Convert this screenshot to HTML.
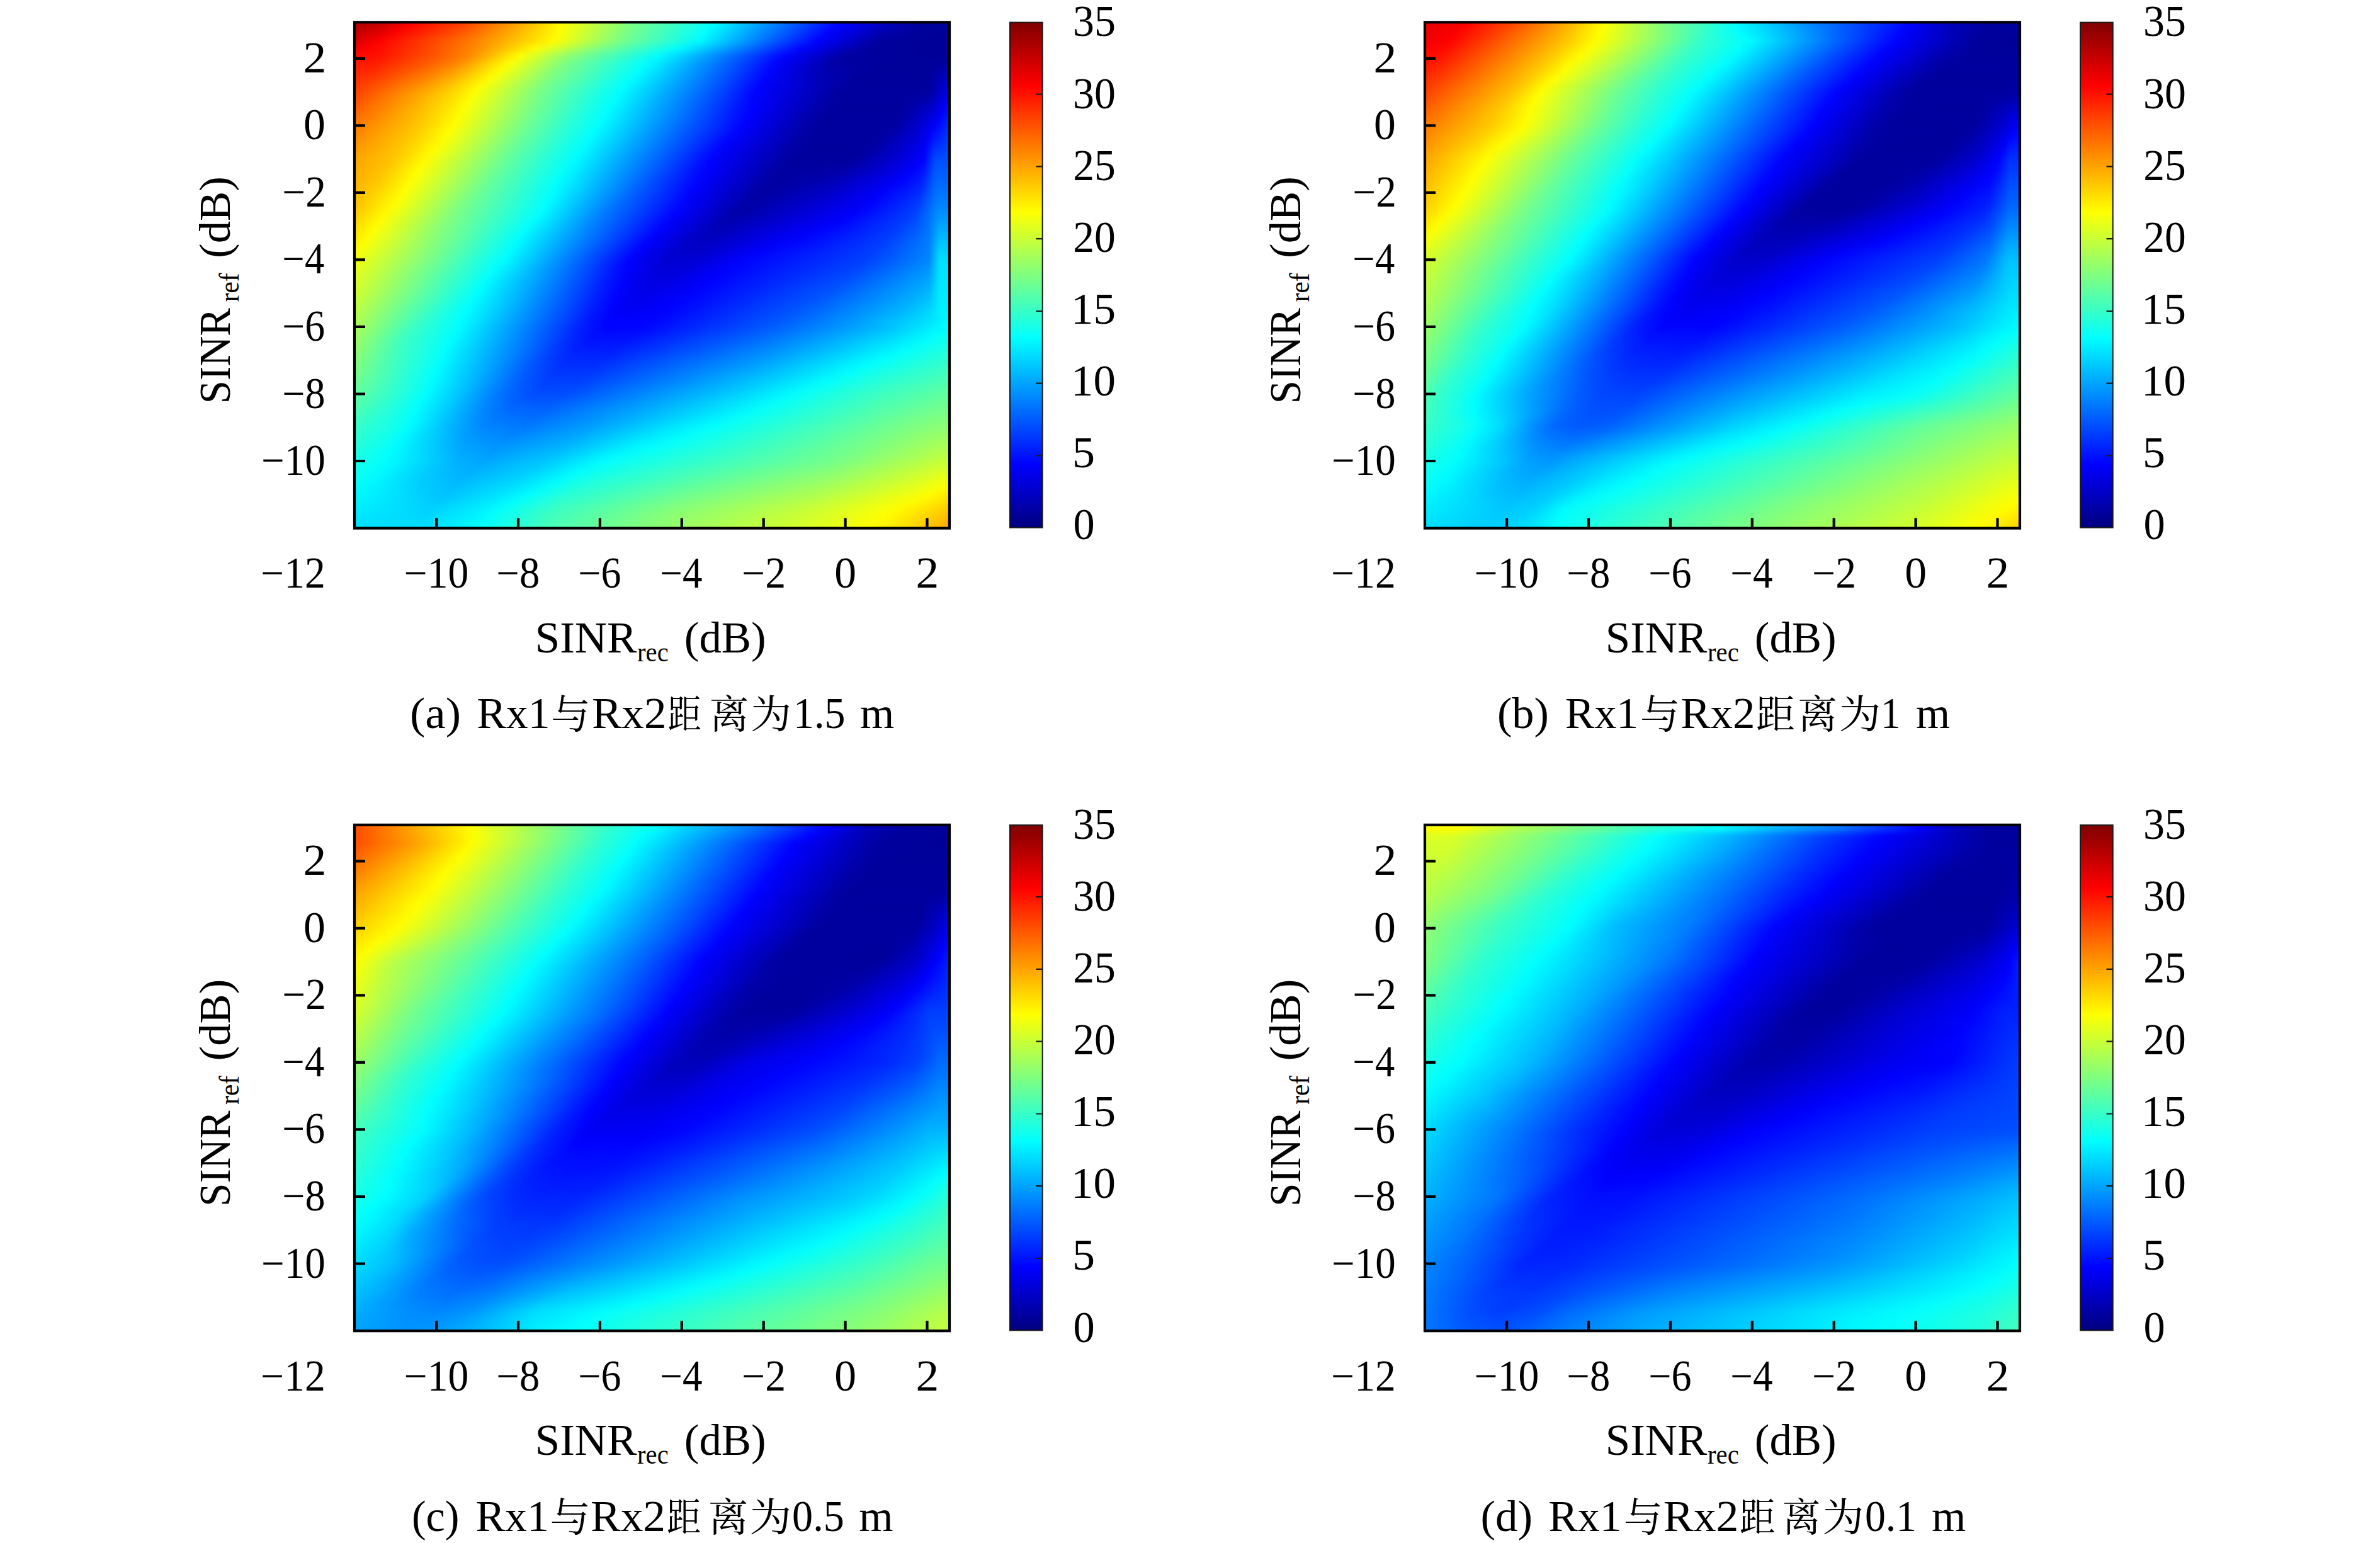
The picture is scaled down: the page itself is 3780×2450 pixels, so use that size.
<!DOCTYPE html>
<html><head><meta charset="utf-8"><style>
html,body{margin:0;padding:0;background:#fff}
svg{display:block}
text{font-family:"Liberation Serif", serif;fill:#000}
text.c{font-family:"Liberation Serif", "Noto Serif CJK SC", serif}
</style></head><body>
<svg width="3780" height="2450" viewBox="0 0 3780 2450">
<defs>
<linearGradient id="jetbar" x1="0" y1="0" x2="0" y2="1"><stop offset="0.000" stop-color="#800000"/><stop offset="0.125" stop-color="#ff0000"/><stop offset="0.375" stop-color="#ffff00"/><stop offset="0.625" stop-color="#00ffff"/><stop offset="0.875" stop-color="#0000ff"/><stop offset="1.000" stop-color="#000080"/></linearGradient>
<clipPath id="clipbox"><rect x="563.0" y="35.3" width="945.0" height="803.4000000000001"/></clipPath>
<filter id="by" x="-0.02" y="-0.1" width="1.04" height="1.2" color-interpolation-filters="sRGB"><feGaussianBlur stdDeviation="0 5"/></filter>
<linearGradient id="a0"><stop offset="0.000" stop-color="#ab0000"/><stop offset="0.042" stop-color="#bb0000"/><stop offset="0.101" stop-color="#fd0000"/><stop offset="0.193" stop-color="#ff4300"/><stop offset="0.294" stop-color="#ffb800"/><stop offset="0.353" stop-color="#fdff02"/><stop offset="0.471" stop-color="#77ff88"/><stop offset="0.605" stop-color="#02fffd"/><stop offset="0.706" stop-color="#008aff"/><stop offset="0.815" stop-color="#0006ff"/><stop offset="0.832" stop-color="#0000f5"/><stop offset="0.941" stop-color="#0000a0"/><stop offset="1.000" stop-color="#00009d"/></linearGradient><linearGradient id="a1"><stop offset="0.000" stop-color="#ab0000"/><stop offset="0.042" stop-color="#bb0000"/><stop offset="0.101" stop-color="#fd0000"/><stop offset="0.193" stop-color="#ff4300"/><stop offset="0.294" stop-color="#ffb800"/><stop offset="0.353" stop-color="#fdff02"/><stop offset="0.471" stop-color="#77ff88"/><stop offset="0.605" stop-color="#02fffd"/><stop offset="0.706" stop-color="#008aff"/><stop offset="0.815" stop-color="#0006ff"/><stop offset="0.832" stop-color="#0000f5"/><stop offset="0.941" stop-color="#0000a0"/><stop offset="1.000" stop-color="#00009d"/></linearGradient><linearGradient id="a2"><stop offset="0.000" stop-color="#b40000"/><stop offset="0.042" stop-color="#c90000"/><stop offset="0.092" stop-color="#ff0100"/><stop offset="0.185" stop-color="#ff4600"/><stop offset="0.286" stop-color="#ffb600"/><stop offset="0.345" stop-color="#fffb00"/><stop offset="0.378" stop-color="#dcff23"/><stop offset="0.462" stop-color="#7bff84"/><stop offset="0.597" stop-color="#04fffb"/><stop offset="0.613" stop-color="#00f1ff"/><stop offset="0.807" stop-color="#0006ff"/><stop offset="0.815" stop-color="#0000fc"/><stop offset="0.908" stop-color="#0000b0"/><stop offset="0.950" stop-color="#00009c"/><stop offset="1.000" stop-color="#00009b"/></linearGradient><linearGradient id="a3"><stop offset="0.000" stop-color="#c50000"/><stop offset="0.042" stop-color="#e40000"/><stop offset="0.067" stop-color="#fd0000"/><stop offset="0.176" stop-color="#ff5500"/><stop offset="0.294" stop-color="#ffcd00"/><stop offset="0.345" stop-color="#fcff03"/><stop offset="0.462" stop-color="#73ff8c"/><stop offset="0.588" stop-color="#01fffe"/><stop offset="0.790" stop-color="#0006ff"/><stop offset="0.798" stop-color="#0000fc"/><stop offset="0.891" stop-color="#0000aa"/><stop offset="0.950" stop-color="#00009b"/><stop offset="1.000" stop-color="#000099"/></linearGradient><linearGradient id="a4"><stop offset="0.000" stop-color="#d60000"/><stop offset="0.042" stop-color="#ff0000"/><stop offset="0.168" stop-color="#ff6200"/><stop offset="0.336" stop-color="#fffd00"/><stop offset="0.445" stop-color="#7bff84"/><stop offset="0.580" stop-color="#00fcff"/><stop offset="0.731" stop-color="#003aff"/><stop offset="0.773" stop-color="#0007ff"/><stop offset="0.782" stop-color="#0000fc"/><stop offset="0.882" stop-color="#00009e"/><stop offset="1.000" stop-color="#000097"/></linearGradient><linearGradient id="a5"><stop offset="0.000" stop-color="#ef0000"/><stop offset="0.025" stop-color="#ff0100"/><stop offset="0.109" stop-color="#ff3a00"/><stop offset="0.210" stop-color="#ff9000"/><stop offset="0.303" stop-color="#fffc00"/><stop offset="0.336" stop-color="#d9ff26"/><stop offset="0.395" stop-color="#8fff70"/><stop offset="0.462" stop-color="#4cffb3"/><stop offset="0.538" stop-color="#05fffa"/><stop offset="0.555" stop-color="#00f3ff"/><stop offset="0.748" stop-color="#0006ff"/><stop offset="0.765" stop-color="#0000f3"/><stop offset="0.840" stop-color="#0000ac"/><stop offset="0.874" stop-color="#00009c"/><stop offset="1.000" stop-color="#000097"/></linearGradient><linearGradient id="a6"><stop offset="0.000" stop-color="#ff0b00"/><stop offset="0.042" stop-color="#ff1100"/><stop offset="0.143" stop-color="#ff5b00"/><stop offset="0.193" stop-color="#ff8800"/><stop offset="0.277" stop-color="#feff01"/><stop offset="0.361" stop-color="#88ff77"/><stop offset="0.513" stop-color="#00fcff"/><stop offset="0.672" stop-color="#003fff"/><stop offset="0.723" stop-color="#0002ff"/><stop offset="0.824" stop-color="#0000a0"/><stop offset="1.000" stop-color="#000097"/></linearGradient><linearGradient id="a7"><stop offset="0.000" stop-color="#ff1900"/><stop offset="0.034" stop-color="#ff1b00"/><stop offset="0.126" stop-color="#ff5e00"/><stop offset="0.176" stop-color="#ff8b00"/><stop offset="0.252" stop-color="#fff700"/><stop offset="0.261" stop-color="#fbff04"/><stop offset="0.353" stop-color="#7cff83"/><stop offset="0.487" stop-color="#04fffb"/><stop offset="0.504" stop-color="#00f1ff"/><stop offset="0.664" stop-color="#0037ff"/><stop offset="0.706" stop-color="#0004ff"/><stop offset="0.731" stop-color="#0000ea"/><stop offset="0.807" stop-color="#0000a5"/><stop offset="0.908" stop-color="#00009a"/><stop offset="0.975" stop-color="#00009c"/><stop offset="1.000" stop-color="#0000a3"/></linearGradient><linearGradient id="a8"><stop offset="0.000" stop-color="#ff2300"/><stop offset="0.034" stop-color="#ff2a00"/><stop offset="0.126" stop-color="#ff7300"/><stop offset="0.168" stop-color="#ff9c00"/><stop offset="0.244" stop-color="#feff01"/><stop offset="0.336" stop-color="#81ff7e"/><stop offset="0.479" stop-color="#00ffff"/><stop offset="0.639" stop-color="#004aff"/><stop offset="0.697" stop-color="#0004ff"/><stop offset="0.731" stop-color="#0000e3"/><stop offset="0.790" stop-color="#0000b1"/><stop offset="0.874" stop-color="#00009b"/><stop offset="0.966" stop-color="#00009a"/><stop offset="1.000" stop-color="#0000b5"/></linearGradient><linearGradient id="a9"><stop offset="0.000" stop-color="#ff2d00"/><stop offset="0.034" stop-color="#ff3c00"/><stop offset="0.126" stop-color="#ff8900"/><stop offset="0.176" stop-color="#ffbf00"/><stop offset="0.227" stop-color="#fffe00"/><stop offset="0.328" stop-color="#7dff82"/><stop offset="0.454" stop-color="#0bfff4"/><stop offset="0.471" stop-color="#00fbff"/><stop offset="0.622" stop-color="#0052ff"/><stop offset="0.689" stop-color="#0003ff"/><stop offset="0.782" stop-color="#0000b8"/><stop offset="0.849" stop-color="#00009c"/><stop offset="0.966" stop-color="#00009c"/><stop offset="0.992" stop-color="#0000c0"/><stop offset="1.000" stop-color="#0000c7"/></linearGradient><linearGradient id="a10"><stop offset="0.000" stop-color="#ff3700"/><stop offset="0.059" stop-color="#ff6300"/><stop offset="0.151" stop-color="#ffb900"/><stop offset="0.210" stop-color="#fffc00"/><stop offset="0.252" stop-color="#ccff33"/><stop offset="0.319" stop-color="#78ff87"/><stop offset="0.420" stop-color="#1cffe3"/><stop offset="0.454" stop-color="#00ffff"/><stop offset="0.605" stop-color="#005bff"/><stop offset="0.681" stop-color="#0001ff"/><stop offset="0.790" stop-color="#0000b4"/><stop offset="0.832" stop-color="#00009c"/><stop offset="0.966" stop-color="#00009d"/><stop offset="0.992" stop-color="#0000ce"/><stop offset="1.000" stop-color="#0000d8"/></linearGradient><linearGradient id="a11"><stop offset="0.000" stop-color="#ff4100"/><stop offset="0.160" stop-color="#ffd400"/><stop offset="0.202" stop-color="#fcff03"/><stop offset="0.311" stop-color="#76ff89"/><stop offset="0.403" stop-color="#21ffde"/><stop offset="0.445" stop-color="#00fdff"/><stop offset="0.588" stop-color="#0063ff"/><stop offset="0.672" stop-color="#0002ff"/><stop offset="0.815" stop-color="#00009e"/><stop offset="0.950" stop-color="#00009f"/><stop offset="0.966" stop-color="#0000a3"/><stop offset="0.992" stop-color="#0000dd"/><stop offset="1.000" stop-color="#0000ea"/></linearGradient><linearGradient id="a12"><stop offset="0.000" stop-color="#ff4f00"/><stop offset="0.160" stop-color="#ffde00"/><stop offset="0.193" stop-color="#fcff03"/><stop offset="0.303" stop-color="#79ff86"/><stop offset="0.395" stop-color="#21ffde"/><stop offset="0.437" stop-color="#00fdff"/><stop offset="0.580" stop-color="#0063ff"/><stop offset="0.664" stop-color="#0007ff"/><stop offset="0.681" stop-color="#0000f9"/><stop offset="0.798" stop-color="#0000a3"/><stop offset="0.849" stop-color="#00009d"/><stop offset="0.924" stop-color="#00009d"/><stop offset="0.966" stop-color="#0000b4"/><stop offset="0.992" stop-color="#0000ed"/><stop offset="1.000" stop-color="#0000fa"/></linearGradient><linearGradient id="a13"><stop offset="0.000" stop-color="#ff5c00"/><stop offset="0.151" stop-color="#ffde00"/><stop offset="0.185" stop-color="#fcff03"/><stop offset="0.303" stop-color="#71ff8e"/><stop offset="0.395" stop-color="#1bffe4"/><stop offset="0.429" stop-color="#00fdff"/><stop offset="0.647" stop-color="#0012ff"/><stop offset="0.672" stop-color="#0000fc"/><stop offset="0.782" stop-color="#0000a8"/><stop offset="0.815" stop-color="#00009d"/><stop offset="0.916" stop-color="#00009d"/><stop offset="0.958" stop-color="#0000bc"/><stop offset="0.966" stop-color="#0000c5"/><stop offset="0.992" stop-color="#0000fc"/><stop offset="1.000" stop-color="#000cff"/></linearGradient><linearGradient id="a14"><stop offset="0.000" stop-color="#ff6900"/><stop offset="0.134" stop-color="#ffd600"/><stop offset="0.176" stop-color="#feff01"/><stop offset="0.303" stop-color="#6aff95"/><stop offset="0.378" stop-color="#22ffdd"/><stop offset="0.420" stop-color="#00feff"/><stop offset="0.630" stop-color="#001eff"/><stop offset="0.664" stop-color="#0000fe"/><stop offset="0.756" stop-color="#0000b3"/><stop offset="0.798" stop-color="#00009d"/><stop offset="0.916" stop-color="#0000a0"/><stop offset="0.950" stop-color="#0000bf"/><stop offset="0.975" stop-color="#0000e6"/><stop offset="0.983" stop-color="#0000f8"/><stop offset="0.992" stop-color="#000cff"/><stop offset="1.000" stop-color="#001cff"/></linearGradient><linearGradient id="a15"><stop offset="0.000" stop-color="#ff7600"/><stop offset="0.118" stop-color="#ffcd00"/><stop offset="0.168" stop-color="#fffd00"/><stop offset="0.294" stop-color="#6bff94"/><stop offset="0.361" stop-color="#2affd5"/><stop offset="0.412" stop-color="#01fffe"/><stop offset="0.563" stop-color="#005cff"/><stop offset="0.655" stop-color="#0000ff"/><stop offset="0.739" stop-color="#0000b8"/><stop offset="0.782" stop-color="#00009d"/><stop offset="0.908" stop-color="#00009f"/><stop offset="0.950" stop-color="#0000cd"/><stop offset="0.975" stop-color="#0000f6"/><stop offset="0.983" stop-color="#0008ff"/><stop offset="1.000" stop-color="#002cff"/></linearGradient><linearGradient id="a16"><stop offset="0.000" stop-color="#ff8000"/><stop offset="0.109" stop-color="#ffcf00"/><stop offset="0.160" stop-color="#ffff00"/><stop offset="0.277" stop-color="#73ff8c"/><stop offset="0.353" stop-color="#29ffd6"/><stop offset="0.403" stop-color="#00ffff"/><stop offset="0.555" stop-color="#005bff"/><stop offset="0.647" stop-color="#0000fd"/><stop offset="0.731" stop-color="#0000b8"/><stop offset="0.765" stop-color="#0000a0"/><stop offset="0.891" stop-color="#00009e"/><stop offset="0.924" stop-color="#0000ba"/><stop offset="0.950" stop-color="#0000d8"/><stop offset="0.966" stop-color="#0000f5"/><stop offset="0.975" stop-color="#0008ff"/><stop offset="1.000" stop-color="#0035ff"/></linearGradient><linearGradient id="a17"><stop offset="0.000" stop-color="#ff8a00"/><stop offset="0.101" stop-color="#ffcf00"/><stop offset="0.151" stop-color="#fdff02"/><stop offset="0.277" stop-color="#69ff96"/><stop offset="0.353" stop-color="#22ffdd"/><stop offset="0.395" stop-color="#00fdff"/><stop offset="0.580" stop-color="#0036ff"/><stop offset="0.630" stop-color="#0003ff"/><stop offset="0.748" stop-color="#0000a5"/><stop offset="0.790" stop-color="#00009d"/><stop offset="0.882" stop-color="#0000a0"/><stop offset="0.941" stop-color="#0000d6"/><stop offset="0.958" stop-color="#0000ec"/><stop offset="0.966" stop-color="#0003ff"/><stop offset="0.975" stop-color="#0019ff"/><stop offset="1.000" stop-color="#003bff"/></linearGradient><linearGradient id="a18"><stop offset="0.000" stop-color="#ff9400"/><stop offset="0.084" stop-color="#ffc900"/><stop offset="0.134" stop-color="#fffa00"/><stop offset="0.151" stop-color="#f2ff0d"/><stop offset="0.269" stop-color="#68ff97"/><stop offset="0.345" stop-color="#21ffde"/><stop offset="0.387" stop-color="#00fcff"/><stop offset="0.613" stop-color="#0008ff"/><stop offset="0.622" stop-color="#0000fe"/><stop offset="0.731" stop-color="#0000aa"/><stop offset="0.765" stop-color="#00009d"/><stop offset="0.866" stop-color="#00009e"/><stop offset="0.924" stop-color="#0000ce"/><stop offset="0.958" stop-color="#0000f3"/><stop offset="0.966" stop-color="#000fff"/><stop offset="0.975" stop-color="#002bff"/><stop offset="1.000" stop-color="#0042ff"/></linearGradient><linearGradient id="a19"><stop offset="0.000" stop-color="#ff9e00"/><stop offset="0.076" stop-color="#ffc900"/><stop offset="0.126" stop-color="#fffb00"/><stop offset="0.143" stop-color="#f0ff0f"/><stop offset="0.252" stop-color="#6fff90"/><stop offset="0.328" stop-color="#27ffd8"/><stop offset="0.378" stop-color="#00fcff"/><stop offset="0.605" stop-color="#0004ff"/><stop offset="0.630" stop-color="#0000ee"/><stop offset="0.739" stop-color="#0000a0"/><stop offset="0.798" stop-color="#00009d"/><stop offset="0.849" stop-color="#00009d"/><stop offset="0.916" stop-color="#0000cf"/><stop offset="0.958" stop-color="#0000fb"/><stop offset="0.975" stop-color="#003cff"/><stop offset="0.992" stop-color="#0046ff"/><stop offset="1.000" stop-color="#0048ff"/></linearGradient><linearGradient id="a20"><stop offset="0.000" stop-color="#ffa600"/><stop offset="0.059" stop-color="#ffc200"/><stop offset="0.118" stop-color="#fffc00"/><stop offset="0.193" stop-color="#a8ff57"/><stop offset="0.261" stop-color="#5dffa2"/><stop offset="0.319" stop-color="#27ffd8"/><stop offset="0.370" stop-color="#00fcff"/><stop offset="0.588" stop-color="#000bff"/><stop offset="0.597" stop-color="#0002ff"/><stop offset="0.731" stop-color="#00009e"/><stop offset="0.832" stop-color="#00009f"/><stop offset="0.908" stop-color="#0000d2"/><stop offset="0.950" stop-color="#0000fb"/><stop offset="0.958" stop-color="#0005ff"/><stop offset="0.975" stop-color="#004aff"/><stop offset="0.983" stop-color="#0050ff"/><stop offset="1.000" stop-color="#0050ff"/></linearGradient><linearGradient id="a21"><stop offset="0.000" stop-color="#ffaa00"/><stop offset="0.050" stop-color="#ffc200"/><stop offset="0.109" stop-color="#fffe00"/><stop offset="0.235" stop-color="#6eff91"/><stop offset="0.303" stop-color="#2fffd0"/><stop offset="0.353" stop-color="#05fffa"/><stop offset="0.370" stop-color="#00f2ff"/><stop offset="0.571" stop-color="#0013ff"/><stop offset="0.597" stop-color="#0000fc"/><stop offset="0.714" stop-color="#0000a1"/><stop offset="0.765" stop-color="#0000a1"/><stop offset="0.824" stop-color="#0000a9"/><stop offset="0.899" stop-color="#0000d9"/><stop offset="0.941" stop-color="#0000ff"/><stop offset="0.958" stop-color="#0014ff"/><stop offset="0.975" stop-color="#0052ff"/><stop offset="0.983" stop-color="#0059ff"/><stop offset="1.000" stop-color="#0059ff"/></linearGradient><linearGradient id="a22"><stop offset="0.000" stop-color="#ffae00"/><stop offset="0.042" stop-color="#ffc400"/><stop offset="0.101" stop-color="#ffff00"/><stop offset="0.235" stop-color="#64ff9b"/><stop offset="0.345" stop-color="#04fffb"/><stop offset="0.370" stop-color="#00e9ff"/><stop offset="0.521" stop-color="#003fff"/><stop offset="0.580" stop-color="#0005ff"/><stop offset="0.597" stop-color="#0000f6"/><stop offset="0.697" stop-color="#0000a6"/><stop offset="0.723" stop-color="#00009f"/><stop offset="0.807" stop-color="#0000af"/><stop offset="0.899" stop-color="#0000e8"/><stop offset="0.924" stop-color="#0000fd"/><stop offset="0.950" stop-color="#0013ff"/><stop offset="0.958" stop-color="#0022ff"/><stop offset="0.975" stop-color="#005aff"/><stop offset="0.983" stop-color="#0061ff"/><stop offset="1.000" stop-color="#0061ff"/></linearGradient><linearGradient id="a23"><stop offset="0.000" stop-color="#ffb300"/><stop offset="0.042" stop-color="#ffcc00"/><stop offset="0.092" stop-color="#fdff02"/><stop offset="0.227" stop-color="#64ff9b"/><stop offset="0.336" stop-color="#04fffb"/><stop offset="0.361" stop-color="#00ebff"/><stop offset="0.496" stop-color="#0050ff"/><stop offset="0.571" stop-color="#0005ff"/><stop offset="0.588" stop-color="#0000f5"/><stop offset="0.689" stop-color="#0000a6"/><stop offset="0.706" stop-color="#0000a0"/><stop offset="0.798" stop-color="#0000b9"/><stop offset="0.899" stop-color="#0000f6"/><stop offset="0.916" stop-color="#0004ff"/><stop offset="0.950" stop-color="#001eff"/><stop offset="0.958" stop-color="#002fff"/><stop offset="0.975" stop-color="#0063ff"/><stop offset="0.983" stop-color="#006aff"/><stop offset="1.000" stop-color="#006aff"/></linearGradient><linearGradient id="a24"><stop offset="0.000" stop-color="#ffb700"/><stop offset="0.042" stop-color="#ffd600"/><stop offset="0.084" stop-color="#fdff02"/><stop offset="0.210" stop-color="#6cff93"/><stop offset="0.336" stop-color="#00fcff"/><stop offset="0.387" stop-color="#00c4ff"/><stop offset="0.471" stop-color="#0061ff"/><stop offset="0.563" stop-color="#0005ff"/><stop offset="0.580" stop-color="#0000f5"/><stop offset="0.672" stop-color="#0000a9"/><stop offset="0.689" stop-color="#0000a1"/><stop offset="0.790" stop-color="#0000c3"/><stop offset="0.891" stop-color="#0000fd"/><stop offset="0.950" stop-color="#0029ff"/><stop offset="0.975" stop-color="#006bff"/><stop offset="0.983" stop-color="#0073ff"/><stop offset="1.000" stop-color="#0073ff"/></linearGradient><linearGradient id="a25"><stop offset="0.000" stop-color="#ffbb00"/><stop offset="0.059" stop-color="#ffef00"/><stop offset="0.076" stop-color="#fdff02"/><stop offset="0.193" stop-color="#73ff8c"/><stop offset="0.328" stop-color="#00feff"/><stop offset="0.387" stop-color="#00b8ff"/><stop offset="0.454" stop-color="#0069ff"/><stop offset="0.555" stop-color="#0005ff"/><stop offset="0.571" stop-color="#0000f4"/><stop offset="0.672" stop-color="#0000a2"/><stop offset="0.798" stop-color="#0000d4"/><stop offset="0.874" stop-color="#0000fd"/><stop offset="0.941" stop-color="#002eff"/><stop offset="0.950" stop-color="#0037ff"/><stop offset="0.975" stop-color="#0073ff"/><stop offset="0.983" stop-color="#007cff"/><stop offset="1.000" stop-color="#007cff"/></linearGradient><linearGradient id="a26"><stop offset="0.000" stop-color="#ffc000"/><stop offset="0.067" stop-color="#fcff03"/><stop offset="0.176" stop-color="#7bff84"/><stop offset="0.319" stop-color="#01fffe"/><stop offset="0.437" stop-color="#0070ff"/><stop offset="0.546" stop-color="#0004ff"/><stop offset="0.580" stop-color="#0000e4"/><stop offset="0.655" stop-color="#0000a4"/><stop offset="0.849" stop-color="#0000f7"/><stop offset="0.866" stop-color="#0004ff"/><stop offset="0.941" stop-color="#0039ff"/><stop offset="0.950" stop-color="#0044ff"/><stop offset="0.975" stop-color="#007bff"/><stop offset="0.983" stop-color="#0084ff"/><stop offset="1.000" stop-color="#0084ff"/></linearGradient><linearGradient id="a27"><stop offset="0.000" stop-color="#ffc900"/><stop offset="0.050" stop-color="#fffb00"/><stop offset="0.076" stop-color="#e5ff1a"/><stop offset="0.168" stop-color="#7cff83"/><stop offset="0.311" stop-color="#00ffff"/><stop offset="0.420" stop-color="#0079ff"/><stop offset="0.538" stop-color="#0001ff"/><stop offset="0.639" stop-color="#0000aa"/><stop offset="0.664" stop-color="#0000b1"/><stop offset="0.840" stop-color="#0000ff"/><stop offset="0.941" stop-color="#0041ff"/><stop offset="0.966" stop-color="#006fff"/><stop offset="0.975" stop-color="#0084ff"/><stop offset="0.983" stop-color="#0090ff"/><stop offset="1.000" stop-color="#0090ff"/></linearGradient><linearGradient id="a28"><stop offset="0.000" stop-color="#ffd400"/><stop offset="0.042" stop-color="#fffd00"/><stop offset="0.151" stop-color="#85ff7a"/><stop offset="0.294" stop-color="#06fff9"/><stop offset="0.303" stop-color="#00fbff"/><stop offset="0.412" stop-color="#0078ff"/><stop offset="0.521" stop-color="#0005ff"/><stop offset="0.538" stop-color="#0000f4"/><stop offset="0.613" stop-color="#0000b7"/><stop offset="0.630" stop-color="#0000b0"/><stop offset="0.815" stop-color="#0000ff"/><stop offset="0.924" stop-color="#003eff"/><stop offset="0.941" stop-color="#004cff"/><stop offset="0.966" stop-color="#0073ff"/><stop offset="0.975" stop-color="#008bff"/><stop offset="0.983" stop-color="#009dff"/><stop offset="1.000" stop-color="#009dff"/></linearGradient><linearGradient id="a29"><stop offset="0.000" stop-color="#ffdf00"/><stop offset="0.034" stop-color="#feff01"/><stop offset="0.134" stop-color="#8fff70"/><stop offset="0.286" stop-color="#03fffc"/><stop offset="0.328" stop-color="#00d1ff"/><stop offset="0.403" stop-color="#0078ff"/><stop offset="0.513" stop-color="#0002ff"/><stop offset="0.597" stop-color="#0000bd"/><stop offset="0.613" stop-color="#0000b6"/><stop offset="0.765" stop-color="#0000f7"/><stop offset="0.798" stop-color="#0005ff"/><stop offset="0.908" stop-color="#003bff"/><stop offset="0.941" stop-color="#0057ff"/><stop offset="0.966" stop-color="#0077ff"/><stop offset="0.983" stop-color="#00aaff"/><stop offset="1.000" stop-color="#00aaff"/></linearGradient><linearGradient id="a30"><stop offset="0.000" stop-color="#ffea00"/><stop offset="0.025" stop-color="#fcff03"/><stop offset="0.126" stop-color="#91ff6e"/><stop offset="0.277" stop-color="#01fffe"/><stop offset="0.345" stop-color="#00b1ff"/><stop offset="0.496" stop-color="#0006ff"/><stop offset="0.504" stop-color="#0000fc"/><stop offset="0.571" stop-color="#0000c6"/><stop offset="0.597" stop-color="#0000bd"/><stop offset="0.639" stop-color="#0000cd"/><stop offset="0.731" stop-color="#0000f7"/><stop offset="0.765" stop-color="#0004ff"/><stop offset="0.899" stop-color="#003eff"/><stop offset="0.941" stop-color="#0061ff"/><stop offset="0.966" stop-color="#007bff"/><stop offset="0.983" stop-color="#00b8ff"/><stop offset="1.000" stop-color="#00b8ff"/></linearGradient><linearGradient id="a31"><stop offset="0.000" stop-color="#fff500"/><stop offset="0.017" stop-color="#f9ff06"/><stop offset="0.126" stop-color="#8aff75"/><stop offset="0.269" stop-color="#00feff"/><stop offset="0.487" stop-color="#0001ff"/><stop offset="0.555" stop-color="#0000ca"/><stop offset="0.588" stop-color="#0000c5"/><stop offset="0.706" stop-color="#0000fa"/><stop offset="0.739" stop-color="#0006ff"/><stop offset="0.891" stop-color="#0041ff"/><stop offset="0.966" stop-color="#007fff"/><stop offset="0.983" stop-color="#00c5ff"/><stop offset="1.000" stop-color="#00c5ff"/></linearGradient><linearGradient id="a32"><stop offset="0.000" stop-color="#feff01"/><stop offset="0.168" stop-color="#58ffa7"/><stop offset="0.227" stop-color="#1effe1"/><stop offset="0.261" stop-color="#00feff"/><stop offset="0.471" stop-color="#0005ff"/><stop offset="0.487" stop-color="#0000f5"/><stop offset="0.538" stop-color="#0000cf"/><stop offset="0.580" stop-color="#0000cb"/><stop offset="0.681" stop-color="#0000fd"/><stop offset="0.874" stop-color="#003fff"/><stop offset="0.966" stop-color="#0083ff"/><stop offset="0.983" stop-color="#00d2ff"/><stop offset="1.000" stop-color="#00d2ff"/></linearGradient><linearGradient id="a33"><stop offset="0.000" stop-color="#f4ff0b"/><stop offset="0.143" stop-color="#6aff95"/><stop offset="0.202" stop-color="#2bffd4"/><stop offset="0.252" stop-color="#00feff"/><stop offset="0.462" stop-color="#0001ff"/><stop offset="0.521" stop-color="#0000d4"/><stop offset="0.571" stop-color="#0000d4"/><stop offset="0.655" stop-color="#0002ff"/><stop offset="0.866" stop-color="#0042ff"/><stop offset="0.966" stop-color="#0087ff"/><stop offset="0.983" stop-color="#00deff"/><stop offset="1.000" stop-color="#00deff"/></linearGradient><linearGradient id="a34"><stop offset="0.000" stop-color="#ebff14"/><stop offset="0.143" stop-color="#5fffa0"/><stop offset="0.202" stop-color="#23ffdc"/><stop offset="0.235" stop-color="#05fffa"/><stop offset="0.252" stop-color="#00f1ff"/><stop offset="0.445" stop-color="#000cff"/><stop offset="0.462" stop-color="#0000fe"/><stop offset="0.513" stop-color="#0000d9"/><stop offset="0.555" stop-color="#0000d8"/><stop offset="0.639" stop-color="#0003ff"/><stop offset="0.849" stop-color="#0045ff"/><stop offset="0.966" stop-color="#0093ff"/><stop offset="0.983" stop-color="#00e1ff"/><stop offset="1.000" stop-color="#00e2ff"/></linearGradient><linearGradient id="a35"><stop offset="0.000" stop-color="#e3ff1c"/><stop offset="0.134" stop-color="#5effa1"/><stop offset="0.227" stop-color="#03fffc"/><stop offset="0.311" stop-color="#00a3ff"/><stop offset="0.437" stop-color="#0011ff"/><stop offset="0.462" stop-color="#0000fb"/><stop offset="0.496" stop-color="#0000e1"/><stop offset="0.538" stop-color="#0000dd"/><stop offset="0.613" stop-color="#0000ff"/><stop offset="0.832" stop-color="#0049ff"/><stop offset="0.966" stop-color="#009eff"/><stop offset="0.983" stop-color="#00e3ff"/><stop offset="1.000" stop-color="#00e5ff"/></linearGradient><linearGradient id="a36"><stop offset="0.000" stop-color="#dbff24"/><stop offset="0.118" stop-color="#66ff99"/><stop offset="0.218" stop-color="#01fffe"/><stop offset="0.311" stop-color="#009aff"/><stop offset="0.420" stop-color="#001cff"/><stop offset="0.454" stop-color="#0000fd"/><stop offset="0.479" stop-color="#0000e9"/><stop offset="0.521" stop-color="#0000e2"/><stop offset="0.597" stop-color="#0001ff"/><stop offset="0.824" stop-color="#0051ff"/><stop offset="0.958" stop-color="#00a4ff"/><stop offset="0.966" stop-color="#00aaff"/><stop offset="0.983" stop-color="#00e6ff"/><stop offset="1.000" stop-color="#00e8ff"/></linearGradient><linearGradient id="a37"><stop offset="0.000" stop-color="#d3ff2c"/><stop offset="0.092" stop-color="#78ff87"/><stop offset="0.210" stop-color="#00ffff"/><stop offset="0.286" stop-color="#00aeff"/><stop offset="0.412" stop-color="#0020ff"/><stop offset="0.445" stop-color="#0001ff"/><stop offset="0.471" stop-color="#0000ef"/><stop offset="0.504" stop-color="#0000e6"/><stop offset="0.580" stop-color="#0002ff"/><stop offset="0.807" stop-color="#0055ff"/><stop offset="0.941" stop-color="#00a4ff"/><stop offset="0.966" stop-color="#00b5ff"/><stop offset="0.983" stop-color="#00e8ff"/><stop offset="1.000" stop-color="#00ecff"/></linearGradient><linearGradient id="a38"><stop offset="0.000" stop-color="#cbff34"/><stop offset="0.101" stop-color="#65ff9a"/><stop offset="0.176" stop-color="#18ffe7"/><stop offset="0.202" stop-color="#00ffff"/><stop offset="0.261" stop-color="#00c2ff"/><stop offset="0.403" stop-color="#0023ff"/><stop offset="0.437" stop-color="#0002ff"/><stop offset="0.479" stop-color="#0000ec"/><stop offset="0.563" stop-color="#0003ff"/><stop offset="0.790" stop-color="#0058ff"/><stop offset="0.933" stop-color="#00a9ff"/><stop offset="0.966" stop-color="#00c1ff"/><stop offset="0.983" stop-color="#00ebff"/><stop offset="1.000" stop-color="#00efff"/></linearGradient><linearGradient id="a39"><stop offset="0.000" stop-color="#c2ff3d"/><stop offset="0.092" stop-color="#63ff9c"/><stop offset="0.160" stop-color="#1effe1"/><stop offset="0.193" stop-color="#00ffff"/><stop offset="0.244" stop-color="#00cdff"/><stop offset="0.395" stop-color="#0025ff"/><stop offset="0.429" stop-color="#0005ff"/><stop offset="0.445" stop-color="#0000fa"/><stop offset="0.471" stop-color="#0000f1"/><stop offset="0.538" stop-color="#0000ff"/><stop offset="0.773" stop-color="#005cff"/><stop offset="0.924" stop-color="#00afff"/><stop offset="0.966" stop-color="#00ccff"/><stop offset="0.983" stop-color="#00edff"/><stop offset="1.000" stop-color="#00f2ff"/></linearGradient><linearGradient id="a40"><stop offset="0.000" stop-color="#baff45"/><stop offset="0.101" stop-color="#4fffb0"/><stop offset="0.143" stop-color="#24ffdb"/><stop offset="0.185" stop-color="#01fffe"/><stop offset="0.227" stop-color="#00d7ff"/><stop offset="0.403" stop-color="#0015ff"/><stop offset="0.437" stop-color="#0000fd"/><stop offset="0.454" stop-color="#0000f6"/><stop offset="0.521" stop-color="#0002ff"/><stop offset="0.748" stop-color="#005bff"/><stop offset="0.916" stop-color="#00b5ff"/><stop offset="0.966" stop-color="#00d8ff"/><stop offset="0.983" stop-color="#00f0ff"/><stop offset="1.000" stop-color="#00f5ff"/></linearGradient><linearGradient id="a41"><stop offset="0.000" stop-color="#b2ff4d"/><stop offset="0.101" stop-color="#44ffbb"/><stop offset="0.134" stop-color="#24ffdb"/><stop offset="0.176" stop-color="#03fffc"/><stop offset="0.202" stop-color="#00eaff"/><stop offset="0.395" stop-color="#0017ff"/><stop offset="0.429" stop-color="#0000fe"/><stop offset="0.504" stop-color="#0003ff"/><stop offset="0.723" stop-color="#005bff"/><stop offset="0.849" stop-color="#009dff"/><stop offset="0.874" stop-color="#00adff"/><stop offset="0.950" stop-color="#00d7ff"/><stop offset="0.992" stop-color="#00f5ff"/><stop offset="1.000" stop-color="#00f9ff"/></linearGradient><linearGradient id="a42"><stop offset="0.000" stop-color="#aaff55"/><stop offset="0.101" stop-color="#37ffc8"/><stop offset="0.176" stop-color="#00fdff"/><stop offset="0.378" stop-color="#0020ff"/><stop offset="0.420" stop-color="#0002ff"/><stop offset="0.487" stop-color="#0005ff"/><stop offset="0.706" stop-color="#005fff"/><stop offset="0.891" stop-color="#00bbff"/><stop offset="0.975" stop-color="#00f2ff"/><stop offset="1.000" stop-color="#00fdff"/></linearGradient><linearGradient id="a43"><stop offset="0.000" stop-color="#a2ff5d"/><stop offset="0.084" stop-color="#3dffc2"/><stop offset="0.168" stop-color="#00feff"/><stop offset="0.328" stop-color="#0051ff"/><stop offset="0.370" stop-color="#0024ff"/><stop offset="0.403" stop-color="#000cff"/><stop offset="0.471" stop-color="#000dff"/><stop offset="0.697" stop-color="#006bff"/><stop offset="0.891" stop-color="#00cdff"/><stop offset="0.975" stop-color="#00feff"/><stop offset="1.000" stop-color="#0afff5"/></linearGradient><linearGradient id="a44"><stop offset="0.000" stop-color="#99ff66"/><stop offset="0.076" stop-color="#3fffc0"/><stop offset="0.151" stop-color="#09fff6"/><stop offset="0.160" stop-color="#00ffff"/><stop offset="0.294" stop-color="#0070ff"/><stop offset="0.353" stop-color="#002fff"/><stop offset="0.387" stop-color="#0015ff"/><stop offset="0.454" stop-color="#0015ff"/><stop offset="0.689" stop-color="#0077ff"/><stop offset="0.882" stop-color="#00daff"/><stop offset="0.958" stop-color="#02fffd"/><stop offset="1.000" stop-color="#15ffea"/></linearGradient><linearGradient id="a45"><stop offset="0.000" stop-color="#91ff6e"/><stop offset="0.067" stop-color="#44ffbb"/><stop offset="0.143" stop-color="#0afff5"/><stop offset="0.151" stop-color="#02fffd"/><stop offset="0.269" stop-color="#0085ff"/><stop offset="0.336" stop-color="#003aff"/><stop offset="0.370" stop-color="#0020ff"/><stop offset="0.429" stop-color="#001cff"/><stop offset="0.504" stop-color="#0037ff"/><stop offset="0.706" stop-color="#0090ff"/><stop offset="0.924" stop-color="#00ffff"/><stop offset="1.000" stop-color="#21ffde"/></linearGradient><linearGradient id="a46"><stop offset="0.000" stop-color="#89ff76"/><stop offset="0.067" stop-color="#42ffbd"/><stop offset="0.134" stop-color="#0dfff2"/><stop offset="0.151" stop-color="#00fbff"/><stop offset="0.261" stop-color="#0087ff"/><stop offset="0.328" stop-color="#003dff"/><stop offset="0.361" stop-color="#0027ff"/><stop offset="0.429" stop-color="#0027ff"/><stop offset="0.689" stop-color="#0098ff"/><stop offset="0.891" stop-color="#00ffff"/><stop offset="1.000" stop-color="#2cffd3"/></linearGradient><linearGradient id="a47"><stop offset="0.000" stop-color="#81ff7e"/><stop offset="0.059" stop-color="#45ffba"/><stop offset="0.126" stop-color="#0ffff0"/><stop offset="0.143" stop-color="#00fdff"/><stop offset="0.235" stop-color="#009dff"/><stop offset="0.303" stop-color="#004fff"/><stop offset="0.345" stop-color="#0030ff"/><stop offset="0.403" stop-color="#002dff"/><stop offset="0.655" stop-color="#0098ff"/><stop offset="0.857" stop-color="#00ffff"/><stop offset="0.941" stop-color="#21ffde"/><stop offset="1.000" stop-color="#38ffc7"/></linearGradient><linearGradient id="a48"><stop offset="0.000" stop-color="#79ff86"/><stop offset="0.067" stop-color="#3bffc4"/><stop offset="0.126" stop-color="#08fff7"/><stop offset="0.134" stop-color="#00ffff"/><stop offset="0.218" stop-color="#00a9ff"/><stop offset="0.286" stop-color="#005aff"/><stop offset="0.336" stop-color="#0036ff"/><stop offset="0.403" stop-color="#0039ff"/><stop offset="0.681" stop-color="#00b5ff"/><stop offset="0.832" stop-color="#02fffd"/><stop offset="0.908" stop-color="#23ffdc"/><stop offset="0.992" stop-color="#40ffbf"/><stop offset="1.000" stop-color="#43ffbc"/></linearGradient><linearGradient id="a49"><stop offset="0.000" stop-color="#70ff8f"/><stop offset="0.118" stop-color="#0bfff4"/><stop offset="0.134" stop-color="#00faff"/><stop offset="0.202" stop-color="#00b5ff"/><stop offset="0.269" stop-color="#0066ff"/><stop offset="0.319" stop-color="#003fff"/><stop offset="0.387" stop-color="#0040ff"/><stop offset="0.555" stop-color="#008bff"/><stop offset="0.689" stop-color="#00caff"/><stop offset="0.798" stop-color="#01fffe"/><stop offset="0.899" stop-color="#2dffd2"/><stop offset="0.983" stop-color="#47ffb8"/><stop offset="1.000" stop-color="#4fffb0"/></linearGradient><linearGradient id="a50"><stop offset="0.000" stop-color="#68ff97"/><stop offset="0.092" stop-color="#1effe1"/><stop offset="0.126" stop-color="#00fdff"/><stop offset="0.185" stop-color="#00c1ff"/><stop offset="0.244" stop-color="#007aff"/><stop offset="0.286" stop-color="#0054ff"/><stop offset="0.311" stop-color="#0046ff"/><stop offset="0.370" stop-color="#0047ff"/><stop offset="0.521" stop-color="#008dff"/><stop offset="0.639" stop-color="#00c1ff"/><stop offset="0.765" stop-color="#01fffe"/><stop offset="0.891" stop-color="#37ffc8"/><stop offset="0.983" stop-color="#53ffac"/><stop offset="1.000" stop-color="#5affa5"/></linearGradient><linearGradient id="a51"><stop offset="0.000" stop-color="#60ff9f"/><stop offset="0.067" stop-color="#2effd1"/><stop offset="0.118" stop-color="#00ffff"/><stop offset="0.176" stop-color="#00c2ff"/><stop offset="0.227" stop-color="#0085ff"/><stop offset="0.261" stop-color="#0065ff"/><stop offset="0.294" stop-color="#0050ff"/><stop offset="0.353" stop-color="#004fff"/><stop offset="0.521" stop-color="#009cff"/><stop offset="0.647" stop-color="#00d6ff"/><stop offset="0.731" stop-color="#01fffe"/><stop offset="0.874" stop-color="#3dffc2"/><stop offset="0.992" stop-color="#62ff9d"/><stop offset="1.000" stop-color="#65ff9a"/></linearGradient><linearGradient id="a52"><stop offset="0.000" stop-color="#56ffa9"/><stop offset="0.067" stop-color="#24ffdb"/><stop offset="0.109" stop-color="#01fffe"/><stop offset="0.160" stop-color="#00cdff"/><stop offset="0.227" stop-color="#0080ff"/><stop offset="0.269" stop-color="#0060ff"/><stop offset="0.328" stop-color="#0059ff"/><stop offset="0.395" stop-color="#0073ff"/><stop offset="0.706" stop-color="#03fffc"/><stop offset="0.874" stop-color="#46ffb9"/><stop offset="1.000" stop-color="#6fff90"/></linearGradient><linearGradient id="a53"><stop offset="0.000" stop-color="#4cffb3"/><stop offset="0.076" stop-color="#17ffe8"/><stop offset="0.101" stop-color="#03fffc"/><stop offset="0.151" stop-color="#00ceff"/><stop offset="0.218" stop-color="#0085ff"/><stop offset="0.261" stop-color="#0069ff"/><stop offset="0.319" stop-color="#0064ff"/><stop offset="0.462" stop-color="#00a0ff"/><stop offset="0.672" stop-color="#02fffd"/><stop offset="0.891" stop-color="#57ffa8"/><stop offset="1.000" stop-color="#79ff86"/></linearGradient><linearGradient id="a54"><stop offset="0.000" stop-color="#42ffbd"/><stop offset="0.084" stop-color="#0cfff3"/><stop offset="0.101" stop-color="#00fbff"/><stop offset="0.202" stop-color="#0092ff"/><stop offset="0.235" stop-color="#0079ff"/><stop offset="0.303" stop-color="#006dff"/><stop offset="0.412" stop-color="#0096ff"/><stop offset="0.613" stop-color="#00f5ff"/><stop offset="0.647" stop-color="#05fffa"/><stop offset="0.933" stop-color="#70ff8f"/><stop offset="1.000" stop-color="#83ff7c"/></linearGradient><linearGradient id="a55"><stop offset="0.000" stop-color="#38ffc7"/><stop offset="0.067" stop-color="#15ffea"/><stop offset="0.092" stop-color="#00fdff"/><stop offset="0.185" stop-color="#009fff"/><stop offset="0.218" stop-color="#0084ff"/><stop offset="0.286" stop-color="#0077ff"/><stop offset="0.395" stop-color="#009cff"/><stop offset="0.546" stop-color="#00e8ff"/><stop offset="0.605" stop-color="#01fffe"/><stop offset="0.933" stop-color="#7bff84"/><stop offset="1.000" stop-color="#8dff72"/></linearGradient><linearGradient id="a56"><stop offset="0.000" stop-color="#31ffce"/><stop offset="0.059" stop-color="#13ffec"/><stop offset="0.084" stop-color="#00fbff"/><stop offset="0.185" stop-color="#009eff"/><stop offset="0.210" stop-color="#008fff"/><stop offset="0.269" stop-color="#0081ff"/><stop offset="0.378" stop-color="#00a4ff"/><stop offset="0.521" stop-color="#00edff"/><stop offset="0.571" stop-color="#02fffd"/><stop offset="0.958" stop-color="#8dff72"/><stop offset="1.000" stop-color="#99ff66"/></linearGradient><linearGradient id="a57"><stop offset="0.000" stop-color="#2bffd4"/><stop offset="0.050" stop-color="#11ffee"/><stop offset="0.076" stop-color="#00fbff"/><stop offset="0.185" stop-color="#009fff"/><stop offset="0.252" stop-color="#008bff"/><stop offset="0.361" stop-color="#00acff"/><stop offset="0.487" stop-color="#00efff"/><stop offset="0.538" stop-color="#03fffc"/><stop offset="0.765" stop-color="#51ffae"/><stop offset="1.000" stop-color="#a6ff59"/></linearGradient><linearGradient id="a58"><stop offset="0.000" stop-color="#24ffdb"/><stop offset="0.050" stop-color="#0afff5"/><stop offset="0.067" stop-color="#00fcff"/><stop offset="0.176" stop-color="#00a9ff"/><stop offset="0.235" stop-color="#0095ff"/><stop offset="0.345" stop-color="#00b5ff"/><stop offset="0.462" stop-color="#00f5ff"/><stop offset="0.496" stop-color="#02fffd"/><stop offset="0.697" stop-color="#45ffba"/><stop offset="0.866" stop-color="#7dff82"/><stop offset="1.000" stop-color="#b3ff4c"/></linearGradient><linearGradient id="a59"><stop offset="0.000" stop-color="#1dffe2"/><stop offset="0.059" stop-color="#00feff"/><stop offset="0.176" stop-color="#00adff"/><stop offset="0.227" stop-color="#009fff"/><stop offset="0.336" stop-color="#00c2ff"/><stop offset="0.437" stop-color="#00fbff"/><stop offset="0.496" stop-color="#10ffef"/><stop offset="0.681" stop-color="#49ffb6"/><stop offset="0.832" stop-color="#78ff87"/><stop offset="1.000" stop-color="#c0ff3f"/></linearGradient><linearGradient id="a60"><stop offset="0.000" stop-color="#17ffe8"/><stop offset="0.050" stop-color="#00feff"/><stop offset="0.168" stop-color="#00b3ff"/><stop offset="0.210" stop-color="#00a8ff"/><stop offset="0.319" stop-color="#00caff"/><stop offset="0.412" stop-color="#02fffd"/><stop offset="0.630" stop-color="#47ffb8"/><stop offset="0.798" stop-color="#77ff88"/><stop offset="0.975" stop-color="#c4ff3b"/><stop offset="1.000" stop-color="#cfff30"/></linearGradient><linearGradient id="a61"><stop offset="0.000" stop-color="#10ffef"/><stop offset="0.042" stop-color="#00fcff"/><stop offset="0.143" stop-color="#00bfff"/><stop offset="0.193" stop-color="#00aeff"/><stop offset="0.303" stop-color="#00d0ff"/><stop offset="0.378" stop-color="#00feff"/><stop offset="0.462" stop-color="#21ffde"/><stop offset="0.639" stop-color="#58ffa7"/><stop offset="0.807" stop-color="#89ff76"/><stop offset="0.992" stop-color="#dcff23"/><stop offset="1.000" stop-color="#e1ff1e"/></linearGradient><linearGradient id="a62"><stop offset="0.000" stop-color="#0afff5"/><stop offset="0.034" stop-color="#00faff"/><stop offset="0.109" stop-color="#00ceff"/><stop offset="0.176" stop-color="#00b5ff"/><stop offset="0.277" stop-color="#00d3ff"/><stop offset="0.353" stop-color="#01fffe"/><stop offset="0.403" stop-color="#1bffe4"/><stop offset="0.605" stop-color="#5dffa2"/><stop offset="0.798" stop-color="#96ff69"/><stop offset="0.958" stop-color="#dbff24"/><stop offset="1.000" stop-color="#f2ff0d"/></linearGradient><linearGradient id="a63"><stop offset="0.000" stop-color="#03fffc"/><stop offset="0.042" stop-color="#00f0ff"/><stop offset="0.109" stop-color="#00ceff"/><stop offset="0.168" stop-color="#00bcff"/><stop offset="0.269" stop-color="#00deff"/><stop offset="0.328" stop-color="#03fffc"/><stop offset="0.378" stop-color="#20ffdf"/><stop offset="0.588" stop-color="#67ff98"/><stop offset="0.790" stop-color="#a2ff5d"/><stop offset="0.950" stop-color="#e6ff19"/><stop offset="0.992" stop-color="#fdff02"/><stop offset="1.000" stop-color="#fffa00"/></linearGradient><linearGradient id="a64"><stop offset="0.000" stop-color="#00fcff"/><stop offset="0.134" stop-color="#00c7ff"/><stop offset="0.160" stop-color="#00c2ff"/><stop offset="0.252" stop-color="#00e5ff"/><stop offset="0.294" stop-color="#00feff"/><stop offset="0.361" stop-color="#28ffd7"/><stop offset="0.571" stop-color="#71ff8e"/><stop offset="0.782" stop-color="#afff50"/><stop offset="0.941" stop-color="#f1ff0e"/><stop offset="0.966" stop-color="#ffff00"/><stop offset="1.000" stop-color="#ffe900"/></linearGradient><linearGradient id="a65"><stop offset="0.000" stop-color="#00f5ff"/><stop offset="0.143" stop-color="#00c8ff"/><stop offset="0.235" stop-color="#00ebff"/><stop offset="0.269" stop-color="#00ffff"/><stop offset="0.345" stop-color="#2fffd0"/><stop offset="0.555" stop-color="#7bff84"/><stop offset="0.765" stop-color="#b8ff47"/><stop offset="0.941" stop-color="#fffd00"/><stop offset="0.992" stop-color="#ffdf00"/><stop offset="1.000" stop-color="#ffd700"/></linearGradient><linearGradient id="a66"><stop offset="0.000" stop-color="#00efff"/><stop offset="0.092" stop-color="#00d9ff"/><stop offset="0.126" stop-color="#00cfff"/><stop offset="0.210" stop-color="#00eeff"/><stop offset="0.244" stop-color="#01fffe"/><stop offset="0.328" stop-color="#37ffc8"/><stop offset="0.538" stop-color="#85ff7a"/><stop offset="0.756" stop-color="#c5ff3a"/><stop offset="0.908" stop-color="#feff01"/><stop offset="0.992" stop-color="#ffcf00"/><stop offset="1.000" stop-color="#ffc600"/></linearGradient><linearGradient id="a67"><stop offset="0.000" stop-color="#00e8ff"/><stop offset="0.092" stop-color="#00d9ff"/><stop offset="0.118" stop-color="#00d6ff"/><stop offset="0.193" stop-color="#00efff"/><stop offset="0.227" stop-color="#01fffe"/><stop offset="0.328" stop-color="#3fffc0"/><stop offset="0.529" stop-color="#8bff74"/><stop offset="0.756" stop-color="#ceff31"/><stop offset="0.891" stop-color="#fffe00"/><stop offset="0.983" stop-color="#ffc800"/><stop offset="1.000" stop-color="#ffb700"/></linearGradient><linearGradient id="a68"><stop offset="0.000" stop-color="#00e1ff"/><stop offset="0.118" stop-color="#00ddff"/><stop offset="0.176" stop-color="#00eeff"/><stop offset="0.218" stop-color="#03fffc"/><stop offset="0.336" stop-color="#4affb5"/><stop offset="0.538" stop-color="#94ff6b"/><stop offset="0.756" stop-color="#d5ff2a"/><stop offset="0.874" stop-color="#fffc00"/><stop offset="0.924" stop-color="#ffe300"/><stop offset="0.992" stop-color="#ffb400"/><stop offset="1.000" stop-color="#ffaa00"/></linearGradient><linearGradient id="a69"><stop offset="0.000" stop-color="#00deff"/><stop offset="0.126" stop-color="#00dfff"/><stop offset="0.210" stop-color="#02fffd"/><stop offset="0.328" stop-color="#4affb5"/><stop offset="0.529" stop-color="#95ff6a"/><stop offset="0.739" stop-color="#d2ff2d"/><stop offset="0.857" stop-color="#ffff00"/><stop offset="0.916" stop-color="#ffe400"/><stop offset="0.992" stop-color="#ffad00"/><stop offset="1.000" stop-color="#ffa400"/></linearGradient><linearGradient id="a70"><stop offset="0.000" stop-color="#00deff"/><stop offset="0.126" stop-color="#00dfff"/><stop offset="0.210" stop-color="#02fffd"/><stop offset="0.328" stop-color="#4affb5"/><stop offset="0.529" stop-color="#95ff6a"/><stop offset="0.739" stop-color="#d2ff2d"/><stop offset="0.857" stop-color="#ffff00"/><stop offset="0.916" stop-color="#ffe400"/><stop offset="0.992" stop-color="#ffad00"/><stop offset="1.000" stop-color="#ffa400"/></linearGradient><linearGradient id="b0"><stop offset="0.000" stop-color="#e50000"/><stop offset="0.059" stop-color="#f30000"/><stop offset="0.076" stop-color="#ff0100"/><stop offset="0.160" stop-color="#ff4f00"/><stop offset="0.227" stop-color="#ff9d00"/><stop offset="0.303" stop-color="#fffe00"/><stop offset="0.403" stop-color="#7bff84"/><stop offset="0.521" stop-color="#04fffb"/><stop offset="0.571" stop-color="#00d0ff"/><stop offset="0.664" stop-color="#0077ff"/><stop offset="0.815" stop-color="#0004ff"/><stop offset="0.832" stop-color="#0000f2"/><stop offset="0.882" stop-color="#0000ba"/><stop offset="0.950" stop-color="#00009d"/><stop offset="1.000" stop-color="#00009d"/></linearGradient><linearGradient id="b1"><stop offset="0.000" stop-color="#e50000"/><stop offset="0.059" stop-color="#f30000"/><stop offset="0.076" stop-color="#ff0100"/><stop offset="0.160" stop-color="#ff4f00"/><stop offset="0.227" stop-color="#ff9d00"/><stop offset="0.303" stop-color="#fffe00"/><stop offset="0.403" stop-color="#7bff84"/><stop offset="0.521" stop-color="#04fffb"/><stop offset="0.571" stop-color="#00d0ff"/><stop offset="0.664" stop-color="#0077ff"/><stop offset="0.815" stop-color="#0004ff"/><stop offset="0.832" stop-color="#0000f2"/><stop offset="0.882" stop-color="#0000ba"/><stop offset="0.950" stop-color="#00009d"/><stop offset="1.000" stop-color="#00009d"/></linearGradient><linearGradient id="b2"><stop offset="0.000" stop-color="#e80000"/><stop offset="0.059" stop-color="#f80000"/><stop offset="0.067" stop-color="#ff0000"/><stop offset="0.151" stop-color="#ff4e00"/><stop offset="0.227" stop-color="#ffa500"/><stop offset="0.294" stop-color="#fff800"/><stop offset="0.303" stop-color="#fbff04"/><stop offset="0.403" stop-color="#7cff83"/><stop offset="0.521" stop-color="#04fffb"/><stop offset="0.563" stop-color="#00dcff"/><stop offset="0.664" stop-color="#007bff"/><stop offset="0.815" stop-color="#0000fe"/><stop offset="0.882" stop-color="#0000bb"/><stop offset="0.941" stop-color="#00009d"/><stop offset="1.000" stop-color="#00009b"/></linearGradient><linearGradient id="b3"><stop offset="0.000" stop-color="#ee0000"/><stop offset="0.050" stop-color="#fc0000"/><stop offset="0.092" stop-color="#ff2400"/><stop offset="0.218" stop-color="#ffa700"/><stop offset="0.294" stop-color="#ffff00"/><stop offset="0.412" stop-color="#73ff8c"/><stop offset="0.487" stop-color="#22ffdd"/><stop offset="0.529" stop-color="#01fffe"/><stop offset="0.571" stop-color="#00dcff"/><stop offset="0.689" stop-color="#0068ff"/><stop offset="0.798" stop-color="#0005ff"/><stop offset="0.815" stop-color="#0000f3"/><stop offset="0.874" stop-color="#0000c1"/><stop offset="0.933" stop-color="#00009e"/><stop offset="1.000" stop-color="#000099"/></linearGradient><linearGradient id="b4"><stop offset="0.000" stop-color="#f40000"/><stop offset="0.042" stop-color="#ff0100"/><stop offset="0.252" stop-color="#ffd500"/><stop offset="0.286" stop-color="#fffb00"/><stop offset="0.303" stop-color="#f0ff0f"/><stop offset="0.462" stop-color="#35ffca"/><stop offset="0.546" stop-color="#00feff"/><stop offset="0.723" stop-color="#0045ff"/><stop offset="0.790" stop-color="#0002ff"/><stop offset="0.924" stop-color="#00009d"/><stop offset="1.000" stop-color="#000097"/></linearGradient><linearGradient id="b5"><stop offset="0.000" stop-color="#fe0000"/><stop offset="0.034" stop-color="#ff0900"/><stop offset="0.235" stop-color="#ffd000"/><stop offset="0.277" stop-color="#feff01"/><stop offset="0.445" stop-color="#3affc5"/><stop offset="0.529" stop-color="#02fffd"/><stop offset="0.580" stop-color="#00ccff"/><stop offset="0.731" stop-color="#002fff"/><stop offset="0.773" stop-color="#0005ff"/><stop offset="0.790" stop-color="#0000f6"/><stop offset="0.882" stop-color="#0000b0"/><stop offset="0.924" stop-color="#00009c"/><stop offset="1.000" stop-color="#00009a"/></linearGradient><linearGradient id="b6"><stop offset="0.000" stop-color="#ff0a00"/><stop offset="0.034" stop-color="#ff1700"/><stop offset="0.227" stop-color="#ffd600"/><stop offset="0.261" stop-color="#fffe00"/><stop offset="0.429" stop-color="#3fffc0"/><stop offset="0.521" stop-color="#00fcff"/><stop offset="0.689" stop-color="#004aff"/><stop offset="0.765" stop-color="#0000fe"/><stop offset="0.866" stop-color="#0000b0"/><stop offset="0.908" stop-color="#00009d"/><stop offset="0.992" stop-color="#00009a"/><stop offset="1.000" stop-color="#00009d"/></linearGradient><linearGradient id="b7"><stop offset="0.000" stop-color="#ff1500"/><stop offset="0.025" stop-color="#ff1e00"/><stop offset="0.210" stop-color="#ffd100"/><stop offset="0.244" stop-color="#fffb00"/><stop offset="0.269" stop-color="#e6ff19"/><stop offset="0.412" stop-color="#43ffbc"/><stop offset="0.504" stop-color="#00ffff"/><stop offset="0.672" stop-color="#004dff"/><stop offset="0.748" stop-color="#0001ff"/><stop offset="0.849" stop-color="#0000b1"/><stop offset="0.882" stop-color="#00009f"/><stop offset="0.992" stop-color="#00009c"/><stop offset="1.000" stop-color="#0000a0"/></linearGradient><linearGradient id="b8"><stop offset="0.000" stop-color="#ff2000"/><stop offset="0.034" stop-color="#ff3400"/><stop offset="0.193" stop-color="#ffcd00"/><stop offset="0.235" stop-color="#fcff03"/><stop offset="0.378" stop-color="#59ffa6"/><stop offset="0.429" stop-color="#2cffd3"/><stop offset="0.487" stop-color="#02fffd"/><stop offset="0.513" stop-color="#00e7ff"/><stop offset="0.647" stop-color="#0057ff"/><stop offset="0.731" stop-color="#0004ff"/><stop offset="0.782" stop-color="#0000d7"/><stop offset="0.866" stop-color="#00009d"/><stop offset="0.992" stop-color="#00009e"/><stop offset="1.000" stop-color="#0000a3"/></linearGradient><linearGradient id="b9"><stop offset="0.000" stop-color="#ff2b00"/><stop offset="0.034" stop-color="#ff4300"/><stop offset="0.176" stop-color="#ffc800"/><stop offset="0.218" stop-color="#ffff00"/><stop offset="0.353" stop-color="#65ff9a"/><stop offset="0.412" stop-color="#2effd1"/><stop offset="0.479" stop-color="#00fdff"/><stop offset="0.630" stop-color="#005aff"/><stop offset="0.723" stop-color="#0000fd"/><stop offset="0.807" stop-color="#0000b8"/><stop offset="0.849" stop-color="#00009d"/><stop offset="0.983" stop-color="#00009b"/><stop offset="1.000" stop-color="#0000a6"/></linearGradient><linearGradient id="b10"><stop offset="0.000" stop-color="#ff3600"/><stop offset="0.160" stop-color="#ffc400"/><stop offset="0.202" stop-color="#fffc00"/><stop offset="0.336" stop-color="#69ff96"/><stop offset="0.403" stop-color="#2bffd4"/><stop offset="0.462" stop-color="#00ffff"/><stop offset="0.613" stop-color="#005cff"/><stop offset="0.706" stop-color="#0000ff"/><stop offset="0.790" stop-color="#0000b9"/><stop offset="0.832" stop-color="#00009d"/><stop offset="0.983" stop-color="#00009c"/><stop offset="1.000" stop-color="#0000a9"/></linearGradient><linearGradient id="b11"><stop offset="0.000" stop-color="#ff4100"/><stop offset="0.143" stop-color="#ffbf00"/><stop offset="0.193" stop-color="#fdff02"/><stop offset="0.311" stop-color="#76ff89"/><stop offset="0.387" stop-color="#2fffd0"/><stop offset="0.445" stop-color="#04fffb"/><stop offset="0.462" stop-color="#00f2ff"/><stop offset="0.597" stop-color="#0060ff"/><stop offset="0.689" stop-color="#0003ff"/><stop offset="0.748" stop-color="#0000ce"/><stop offset="0.815" stop-color="#00009e"/><stop offset="0.975" stop-color="#0000a0"/><stop offset="0.992" stop-color="#0000a7"/><stop offset="1.000" stop-color="#0000b0"/></linearGradient><linearGradient id="b12"><stop offset="0.000" stop-color="#ff4f00"/><stop offset="0.134" stop-color="#ffc400"/><stop offset="0.185" stop-color="#feff01"/><stop offset="0.319" stop-color="#67ff98"/><stop offset="0.387" stop-color="#2affd5"/><stop offset="0.437" stop-color="#03fffc"/><stop offset="0.496" stop-color="#00c2ff"/><stop offset="0.605" stop-color="#004eff"/><stop offset="0.681" stop-color="#0003ff"/><stop offset="0.782" stop-color="#0000af"/><stop offset="0.807" stop-color="#0000a1"/><stop offset="0.916" stop-color="#00009d"/><stop offset="0.950" stop-color="#0000a2"/><stop offset="0.983" stop-color="#0000b1"/><stop offset="1.000" stop-color="#0000c3"/></linearGradient><linearGradient id="b13"><stop offset="0.000" stop-color="#ff5c00"/><stop offset="0.126" stop-color="#ffc600"/><stop offset="0.176" stop-color="#fffd00"/><stop offset="0.227" stop-color="#c9ff36"/><stop offset="0.319" stop-color="#60ff9f"/><stop offset="0.403" stop-color="#16ffe9"/><stop offset="0.429" stop-color="#01fffe"/><stop offset="0.504" stop-color="#00aeff"/><stop offset="0.630" stop-color="#002bff"/><stop offset="0.672" stop-color="#0002ff"/><stop offset="0.773" stop-color="#0000ae"/><stop offset="0.815" stop-color="#00009d"/><stop offset="0.933" stop-color="#00009d"/><stop offset="0.983" stop-color="#0000c1"/><stop offset="1.000" stop-color="#0000d6"/></linearGradient><linearGradient id="b14"><stop offset="0.000" stop-color="#ff6900"/><stop offset="0.126" stop-color="#ffcf00"/><stop offset="0.176" stop-color="#fcff03"/><stop offset="0.311" stop-color="#61ff9e"/><stop offset="0.378" stop-color="#23ffdc"/><stop offset="0.420" stop-color="#00ffff"/><stop offset="0.580" stop-color="#0054ff"/><stop offset="0.664" stop-color="#0001ff"/><stop offset="0.756" stop-color="#0000b3"/><stop offset="0.798" stop-color="#00009d"/><stop offset="0.933" stop-color="#00009f"/><stop offset="0.975" stop-color="#0000c7"/><stop offset="1.000" stop-color="#0000e9"/></linearGradient><linearGradient id="b15"><stop offset="0.000" stop-color="#ff7600"/><stop offset="0.118" stop-color="#ffce00"/><stop offset="0.168" stop-color="#fffd00"/><stop offset="0.294" stop-color="#6bff94"/><stop offset="0.361" stop-color="#2affd5"/><stop offset="0.412" stop-color="#01fffe"/><stop offset="0.563" stop-color="#005cff"/><stop offset="0.655" stop-color="#0000ff"/><stop offset="0.739" stop-color="#0000b8"/><stop offset="0.782" stop-color="#00009d"/><stop offset="0.924" stop-color="#00009d"/><stop offset="0.966" stop-color="#0000c6"/><stop offset="1.000" stop-color="#0000fc"/></linearGradient><linearGradient id="b16"><stop offset="0.000" stop-color="#ff8000"/><stop offset="0.109" stop-color="#ffd200"/><stop offset="0.160" stop-color="#fcff03"/><stop offset="0.277" stop-color="#71ff8e"/><stop offset="0.353" stop-color="#28ffd7"/><stop offset="0.403" stop-color="#00fdff"/><stop offset="0.546" stop-color="#0063ff"/><stop offset="0.647" stop-color="#0000fd"/><stop offset="0.731" stop-color="#0000b8"/><stop offset="0.765" stop-color="#0000a0"/><stop offset="0.899" stop-color="#00009d"/><stop offset="0.924" stop-color="#0000a6"/><stop offset="0.966" stop-color="#0000d2"/><stop offset="0.992" stop-color="#0000fd"/><stop offset="1.000" stop-color="#0009ff"/></linearGradient><linearGradient id="b17"><stop offset="0.000" stop-color="#ff8a00"/><stop offset="0.092" stop-color="#ffd000"/><stop offset="0.143" stop-color="#feff01"/><stop offset="0.269" stop-color="#6dff92"/><stop offset="0.353" stop-color="#1fffe0"/><stop offset="0.387" stop-color="#03fffc"/><stop offset="0.445" stop-color="#00c3ff"/><stop offset="0.630" stop-color="#0003ff"/><stop offset="0.748" stop-color="#0000a5"/><stop offset="0.790" stop-color="#00009d"/><stop offset="0.891" stop-color="#00009d"/><stop offset="0.916" stop-color="#0000a9"/><stop offset="0.950" stop-color="#0000cb"/><stop offset="0.966" stop-color="#0000df"/><stop offset="0.983" stop-color="#0004ff"/><stop offset="1.000" stop-color="#0014ff"/></linearGradient><linearGradient id="b18"><stop offset="0.000" stop-color="#ff9400"/><stop offset="0.084" stop-color="#ffd500"/><stop offset="0.126" stop-color="#fffe00"/><stop offset="0.269" stop-color="#62ff9d"/><stop offset="0.361" stop-color="#0ffff0"/><stop offset="0.378" stop-color="#00ffff"/><stop offset="0.622" stop-color="#0000fe"/><stop offset="0.731" stop-color="#0000aa"/><stop offset="0.765" stop-color="#00009d"/><stop offset="0.882" stop-color="#00009d"/><stop offset="0.933" stop-color="#0000c1"/><stop offset="0.966" stop-color="#0000eb"/><stop offset="0.975" stop-color="#0000ff"/><stop offset="0.983" stop-color="#0014ff"/><stop offset="1.000" stop-color="#001eff"/></linearGradient><linearGradient id="b19"><stop offset="0.000" stop-color="#ff9e00"/><stop offset="0.084" stop-color="#ffe300"/><stop offset="0.109" stop-color="#fffb00"/><stop offset="0.143" stop-color="#deff21"/><stop offset="0.252" stop-color="#67ff98"/><stop offset="0.361" stop-color="#05fffa"/><stop offset="0.378" stop-color="#00f4ff"/><stop offset="0.605" stop-color="#0004ff"/><stop offset="0.630" stop-color="#0000ee"/><stop offset="0.739" stop-color="#0000a0"/><stop offset="0.798" stop-color="#00009d"/><stop offset="0.874" stop-color="#00009f"/><stop offset="0.933" stop-color="#0000cc"/><stop offset="0.966" stop-color="#0000f8"/><stop offset="0.975" stop-color="#000fff"/><stop offset="0.983" stop-color="#0025ff"/><stop offset="1.000" stop-color="#0029ff"/></linearGradient><linearGradient id="b20"><stop offset="0.000" stop-color="#ffa600"/><stop offset="0.076" stop-color="#ffe700"/><stop offset="0.101" stop-color="#feff01"/><stop offset="0.244" stop-color="#65ff9a"/><stop offset="0.353" stop-color="#03fffc"/><stop offset="0.387" stop-color="#00e0ff"/><stop offset="0.597" stop-color="#0002ff"/><stop offset="0.731" stop-color="#00009d"/><stop offset="0.857" stop-color="#00009f"/><stop offset="0.924" stop-color="#0000ce"/><stop offset="0.958" stop-color="#0000f8"/><stop offset="0.966" stop-color="#0005ff"/><stop offset="0.983" stop-color="#0033ff"/><stop offset="1.000" stop-color="#0033ff"/></linearGradient><linearGradient id="b21"><stop offset="0.000" stop-color="#ffad00"/><stop offset="0.067" stop-color="#ffe700"/><stop offset="0.092" stop-color="#feff01"/><stop offset="0.244" stop-color="#5cffa3"/><stop offset="0.345" stop-color="#03fffc"/><stop offset="0.429" stop-color="#00acff"/><stop offset="0.588" stop-color="#0002ff"/><stop offset="0.714" stop-color="#00009d"/><stop offset="0.832" stop-color="#0000a1"/><stop offset="0.857" stop-color="#0000ad"/><stop offset="0.924" stop-color="#0000dd"/><stop offset="0.958" stop-color="#0003ff"/><stop offset="0.966" stop-color="#0010ff"/><stop offset="0.983" stop-color="#003bff"/><stop offset="1.000" stop-color="#003bff"/></linearGradient><linearGradient id="b22"><stop offset="0.000" stop-color="#ffb400"/><stop offset="0.067" stop-color="#ffef00"/><stop offset="0.084" stop-color="#feff01"/><stop offset="0.235" stop-color="#5cffa3"/><stop offset="0.336" stop-color="#03fffc"/><stop offset="0.395" stop-color="#00c7ff"/><stop offset="0.571" stop-color="#0009ff"/><stop offset="0.588" stop-color="#0000f9"/><stop offset="0.697" stop-color="#00009e"/><stop offset="0.798" stop-color="#0000a0"/><stop offset="0.832" stop-color="#0000aa"/><stop offset="0.916" stop-color="#0000e4"/><stop offset="0.950" stop-color="#0001ff"/><stop offset="0.966" stop-color="#001bff"/><stop offset="0.983" stop-color="#0044ff"/><stop offset="1.000" stop-color="#0044ff"/></linearGradient><linearGradient id="b23"><stop offset="0.000" stop-color="#ffba00"/><stop offset="0.076" stop-color="#feff01"/><stop offset="0.218" stop-color="#63ff9c"/><stop offset="0.328" stop-color="#03fffc"/><stop offset="0.378" stop-color="#00d0ff"/><stop offset="0.563" stop-color="#0008ff"/><stop offset="0.571" stop-color="#0001ff"/><stop offset="0.681" stop-color="#00009f"/><stop offset="0.773" stop-color="#00009f"/><stop offset="0.815" stop-color="#0000ac"/><stop offset="0.908" stop-color="#0000eb"/><stop offset="0.941" stop-color="#0004ff"/><stop offset="0.950" stop-color="#000aff"/><stop offset="0.966" stop-color="#0026ff"/><stop offset="0.983" stop-color="#004dff"/><stop offset="1.000" stop-color="#004dff"/></linearGradient><linearGradient id="b24"><stop offset="0.000" stop-color="#ffc100"/><stop offset="0.067" stop-color="#ffff00"/><stop offset="0.202" stop-color="#6aff95"/><stop offset="0.319" stop-color="#03fffc"/><stop offset="0.345" stop-color="#00ecff"/><stop offset="0.546" stop-color="#000fff"/><stop offset="0.563" stop-color="#0000fe"/><stop offset="0.664" stop-color="#0000a0"/><stop offset="0.723" stop-color="#00009d"/><stop offset="0.756" stop-color="#00009f"/><stop offset="0.815" stop-color="#0000b8"/><stop offset="0.916" stop-color="#0000fd"/><stop offset="0.950" stop-color="#0012ff"/><stop offset="0.975" stop-color="#0043ff"/><stop offset="0.983" stop-color="#0056ff"/><stop offset="1.000" stop-color="#0056ff"/></linearGradient><linearGradient id="b25"><stop offset="0.000" stop-color="#ffc700"/><stop offset="0.059" stop-color="#ffff00"/><stop offset="0.185" stop-color="#72ff8d"/><stop offset="0.319" stop-color="#00fcff"/><stop offset="0.546" stop-color="#0005ff"/><stop offset="0.563" stop-color="#0000f3"/><stop offset="0.647" stop-color="#0000a2"/><stop offset="0.664" stop-color="#00009d"/><stop offset="0.739" stop-color="#00009f"/><stop offset="0.824" stop-color="#0000c9"/><stop offset="0.899" stop-color="#0000fd"/><stop offset="0.950" stop-color="#001cff"/><stop offset="0.983" stop-color="#005eff"/><stop offset="1.000" stop-color="#005eff"/></linearGradient><linearGradient id="b26"><stop offset="0.000" stop-color="#ffce00"/><stop offset="0.050" stop-color="#fffe00"/><stop offset="0.168" stop-color="#79ff86"/><stop offset="0.311" stop-color="#00feff"/><stop offset="0.521" stop-color="#0014ff"/><stop offset="0.538" stop-color="#0002ff"/><stop offset="0.639" stop-color="#00009d"/><stop offset="0.723" stop-color="#00009e"/><stop offset="0.832" stop-color="#0000db"/><stop offset="0.882" stop-color="#0000fd"/><stop offset="0.941" stop-color="#001dff"/><stop offset="0.950" stop-color="#0026ff"/><stop offset="0.983" stop-color="#0067ff"/><stop offset="1.000" stop-color="#0067ff"/></linearGradient><linearGradient id="b27"><stop offset="0.000" stop-color="#ffd900"/><stop offset="0.042" stop-color="#fcff03"/><stop offset="0.160" stop-color="#79ff86"/><stop offset="0.303" stop-color="#00fdff"/><stop offset="0.521" stop-color="#0008ff"/><stop offset="0.529" stop-color="#0000fe"/><stop offset="0.622" stop-color="#0000a1"/><stop offset="0.706" stop-color="#0000a5"/><stop offset="0.849" stop-color="#0000f5"/><stop offset="0.866" stop-color="#0000ff"/><stop offset="0.941" stop-color="#0028ff"/><stop offset="0.966" stop-color="#0053ff"/><stop offset="0.983" stop-color="#0073ff"/><stop offset="1.000" stop-color="#0073ff"/></linearGradient><linearGradient id="b28"><stop offset="0.000" stop-color="#ffe600"/><stop offset="0.025" stop-color="#ffff00"/><stop offset="0.143" stop-color="#80ff7f"/><stop offset="0.286" stop-color="#04fffb"/><stop offset="0.311" stop-color="#00e8ff"/><stop offset="0.513" stop-color="#0004ff"/><stop offset="0.546" stop-color="#0000df"/><stop offset="0.605" stop-color="#0000a9"/><stop offset="0.681" stop-color="#0000ad"/><stop offset="0.840" stop-color="#0000ff"/><stop offset="0.933" stop-color="#002fff"/><stop offset="0.950" stop-color="#0041ff"/><stop offset="0.983" stop-color="#0080ff"/><stop offset="1.000" stop-color="#0080ff"/></linearGradient><linearGradient id="b29"><stop offset="0.000" stop-color="#fff300"/><stop offset="0.017" stop-color="#fbff04"/><stop offset="0.126" stop-color="#87ff78"/><stop offset="0.277" stop-color="#02fffd"/><stop offset="0.328" stop-color="#00caff"/><stop offset="0.504" stop-color="#0000ff"/><stop offset="0.588" stop-color="#0000b0"/><stop offset="0.647" stop-color="#0000b2"/><stop offset="0.681" stop-color="#0000bc"/><stop offset="0.815" stop-color="#0001ff"/><stop offset="0.916" stop-color="#0031ff"/><stop offset="0.941" stop-color="#0045ff"/><stop offset="0.950" stop-color="#004eff"/><stop offset="0.983" stop-color="#008dff"/><stop offset="1.000" stop-color="#008dff"/></linearGradient><linearGradient id="b30"><stop offset="0.000" stop-color="#feff01"/><stop offset="0.118" stop-color="#88ff77"/><stop offset="0.269" stop-color="#00ffff"/><stop offset="0.336" stop-color="#00b4ff"/><stop offset="0.487" stop-color="#0005ff"/><stop offset="0.504" stop-color="#0000f2"/><stop offset="0.571" stop-color="#0000b7"/><stop offset="0.622" stop-color="#0000b8"/><stop offset="0.672" stop-color="#0000ca"/><stop offset="0.782" stop-color="#0000fe"/><stop offset="0.899" stop-color="#0032ff"/><stop offset="0.941" stop-color="#0053ff"/><stop offset="0.950" stop-color="#005bff"/><stop offset="0.975" stop-color="#008eff"/><stop offset="0.983" stop-color="#009aff"/><stop offset="1.000" stop-color="#009aff"/></linearGradient><linearGradient id="b31"><stop offset="0.000" stop-color="#f0ff0f"/><stop offset="0.109" stop-color="#88ff77"/><stop offset="0.252" stop-color="#07fff8"/><stop offset="0.261" stop-color="#00feff"/><stop offset="0.328" stop-color="#00b2ff"/><stop offset="0.479" stop-color="#0000ff"/><stop offset="0.555" stop-color="#0000bd"/><stop offset="0.605" stop-color="#0000be"/><stop offset="0.689" stop-color="#0000e5"/><stop offset="0.756" stop-color="#0002ff"/><stop offset="0.891" stop-color="#0039ff"/><stop offset="0.950" stop-color="#0067ff"/><stop offset="0.975" stop-color="#009dff"/><stop offset="0.983" stop-color="#00a8ff"/><stop offset="1.000" stop-color="#00a8ff"/></linearGradient><linearGradient id="b32"><stop offset="0.000" stop-color="#e3ff1c"/><stop offset="0.160" stop-color="#50ffaf"/><stop offset="0.244" stop-color="#06fff9"/><stop offset="0.252" stop-color="#00feff"/><stop offset="0.462" stop-color="#0005ff"/><stop offset="0.479" stop-color="#0000f4"/><stop offset="0.538" stop-color="#0000c4"/><stop offset="0.588" stop-color="#0000c5"/><stop offset="0.706" stop-color="#0000fc"/><stop offset="0.874" stop-color="#003bff"/><stop offset="0.950" stop-color="#0075ff"/><stop offset="0.975" stop-color="#00abff"/><stop offset="0.983" stop-color="#00b5ff"/><stop offset="1.000" stop-color="#00b5ff"/></linearGradient><linearGradient id="b33"><stop offset="0.000" stop-color="#d7ff28"/><stop offset="0.126" stop-color="#68ff97"/><stop offset="0.193" stop-color="#28ffd7"/><stop offset="0.244" stop-color="#00feff"/><stop offset="0.454" stop-color="#0000ff"/><stop offset="0.521" stop-color="#0000cb"/><stop offset="0.571" stop-color="#0000cb"/><stop offset="0.672" stop-color="#0001ff"/><stop offset="0.866" stop-color="#0042ff"/><stop offset="0.941" stop-color="#0076ff"/><stop offset="0.958" stop-color="#0094ff"/><stop offset="0.975" stop-color="#00b8ff"/><stop offset="0.983" stop-color="#00c1ff"/><stop offset="1.000" stop-color="#00c1ff"/></linearGradient><linearGradient id="b34"><stop offset="0.000" stop-color="#d0ff2f"/><stop offset="0.151" stop-color="#46ffb9"/><stop offset="0.227" stop-color="#05fffa"/><stop offset="0.244" stop-color="#00f1ff"/><stop offset="0.445" stop-color="#0003ff"/><stop offset="0.513" stop-color="#0000cf"/><stop offset="0.555" stop-color="#0000d1"/><stop offset="0.655" stop-color="#0002ff"/><stop offset="0.849" stop-color="#0045ff"/><stop offset="0.941" stop-color="#0081ff"/><stop offset="0.975" stop-color="#00bfff"/><stop offset="0.983" stop-color="#00c7ff"/><stop offset="1.000" stop-color="#00c8ff"/></linearGradient><linearGradient id="b35"><stop offset="0.000" stop-color="#c9ff36"/><stop offset="0.134" stop-color="#4effb1"/><stop offset="0.218" stop-color="#03fffc"/><stop offset="0.294" stop-color="#00acff"/><stop offset="0.429" stop-color="#000cff"/><stop offset="0.445" stop-color="#0000fc"/><stop offset="0.496" stop-color="#0000d6"/><stop offset="0.538" stop-color="#0000d6"/><stop offset="0.630" stop-color="#0000ff"/><stop offset="0.832" stop-color="#0049ff"/><stop offset="0.933" stop-color="#0087ff"/><stop offset="0.958" stop-color="#00a9ff"/><stop offset="0.975" stop-color="#00c5ff"/><stop offset="0.983" stop-color="#00cdff"/><stop offset="1.000" stop-color="#00cfff"/></linearGradient><linearGradient id="b36"><stop offset="0.000" stop-color="#c3ff3c"/><stop offset="0.118" stop-color="#57ffa8"/><stop offset="0.210" stop-color="#01fffe"/><stop offset="0.286" stop-color="#00acff"/><stop offset="0.412" stop-color="#0015ff"/><stop offset="0.437" stop-color="#0000fd"/><stop offset="0.479" stop-color="#0000de"/><stop offset="0.529" stop-color="#0000df"/><stop offset="0.613" stop-color="#0002ff"/><stop offset="0.815" stop-color="#004cff"/><stop offset="0.933" stop-color="#0094ff"/><stop offset="0.975" stop-color="#00cbff"/><stop offset="0.992" stop-color="#00d4ff"/><stop offset="1.000" stop-color="#00d5ff"/></linearGradient><linearGradient id="b37"><stop offset="0.000" stop-color="#bcff43"/><stop offset="0.084" stop-color="#70ff8f"/><stop offset="0.202" stop-color="#00ffff"/><stop offset="0.261" stop-color="#00c0ff"/><stop offset="0.403" stop-color="#0016ff"/><stop offset="0.429" stop-color="#0000fe"/><stop offset="0.471" stop-color="#0000e2"/><stop offset="0.513" stop-color="#0000e4"/><stop offset="0.588" stop-color="#0000ff"/><stop offset="0.807" stop-color="#0055ff"/><stop offset="0.924" stop-color="#009aff"/><stop offset="0.966" stop-color="#00c6ff"/><stop offset="0.983" stop-color="#00d8ff"/><stop offset="1.000" stop-color="#00dcff"/></linearGradient><linearGradient id="b38"><stop offset="0.000" stop-color="#b6ff49"/><stop offset="0.084" stop-color="#67ff98"/><stop offset="0.185" stop-color="#07fff8"/><stop offset="0.193" stop-color="#00feff"/><stop offset="0.244" stop-color="#00cbff"/><stop offset="0.395" stop-color="#0017ff"/><stop offset="0.420" stop-color="#0000ff"/><stop offset="0.454" stop-color="#0000e9"/><stop offset="0.504" stop-color="#0000eb"/><stop offset="0.571" stop-color="#0002ff"/><stop offset="0.790" stop-color="#0058ff"/><stop offset="0.916" stop-color="#00a2ff"/><stop offset="0.966" stop-color="#00ceff"/><stop offset="0.983" stop-color="#00deff"/><stop offset="1.000" stop-color="#00e2ff"/></linearGradient><linearGradient id="b39"><stop offset="0.000" stop-color="#afff50"/><stop offset="0.109" stop-color="#44ffbb"/><stop offset="0.185" stop-color="#00ffff"/><stop offset="0.227" stop-color="#00d5ff"/><stop offset="0.387" stop-color="#0017ff"/><stop offset="0.412" stop-color="#0002ff"/><stop offset="0.445" stop-color="#0000ee"/><stop offset="0.521" stop-color="#0000f6"/><stop offset="0.555" stop-color="#0004ff"/><stop offset="0.773" stop-color="#005cff"/><stop offset="0.924" stop-color="#00b5ff"/><stop offset="0.983" stop-color="#00e4ff"/><stop offset="1.000" stop-color="#00e9ff"/></linearGradient><linearGradient id="b40"><stop offset="0.000" stop-color="#a9ff56"/><stop offset="0.126" stop-color="#2affd5"/><stop offset="0.176" stop-color="#01fffe"/><stop offset="0.210" stop-color="#00dfff"/><stop offset="0.378" stop-color="#0016ff"/><stop offset="0.412" stop-color="#0000fd"/><stop offset="0.437" stop-color="#0000f4"/><stop offset="0.529" stop-color="#0002ff"/><stop offset="0.748" stop-color="#005bff"/><stop offset="0.840" stop-color="#008dff"/><stop offset="0.874" stop-color="#00a4ff"/><stop offset="0.924" stop-color="#00c0ff"/><stop offset="0.983" stop-color="#00eaff"/><stop offset="1.000" stop-color="#00efff"/></linearGradient><linearGradient id="b41"><stop offset="0.000" stop-color="#a2ff5d"/><stop offset="0.109" stop-color="#30ffcf"/><stop offset="0.168" stop-color="#03fffc"/><stop offset="0.185" stop-color="#00f3ff"/><stop offset="0.361" stop-color="#001eff"/><stop offset="0.403" stop-color="#0001ff"/><stop offset="0.429" stop-color="#0000fb"/><stop offset="0.504" stop-color="#0001ff"/><stop offset="0.731" stop-color="#005fff"/><stop offset="0.908" stop-color="#00beff"/><stop offset="0.983" stop-color="#00efff"/><stop offset="1.000" stop-color="#00f6ff"/></linearGradient><linearGradient id="b42"><stop offset="0.000" stop-color="#9bff64"/><stop offset="0.092" stop-color="#36ffc9"/><stop offset="0.168" stop-color="#00fcff"/><stop offset="0.353" stop-color="#001fff"/><stop offset="0.395" stop-color="#0003ff"/><stop offset="0.487" stop-color="#0004ff"/><stop offset="0.706" stop-color="#005fff"/><stop offset="0.899" stop-color="#00c0ff"/><stop offset="0.975" stop-color="#00f2ff"/><stop offset="1.000" stop-color="#00fdff"/></linearGradient><linearGradient id="b43"><stop offset="0.000" stop-color="#93ff6c"/><stop offset="0.084" stop-color="#35ffca"/><stop offset="0.151" stop-color="#05fffa"/><stop offset="0.168" stop-color="#00f0ff"/><stop offset="0.336" stop-color="#002bff"/><stop offset="0.378" stop-color="#000eff"/><stop offset="0.471" stop-color="#000bff"/><stop offset="0.697" stop-color="#006aff"/><stop offset="0.899" stop-color="#00ceff"/><stop offset="0.975" stop-color="#00feff"/><stop offset="1.000" stop-color="#0afff5"/></linearGradient><linearGradient id="b44"><stop offset="0.000" stop-color="#8bff74"/><stop offset="0.076" stop-color="#36ffc9"/><stop offset="0.134" stop-color="#0bfff4"/><stop offset="0.143" stop-color="#02fffd"/><stop offset="0.227" stop-color="#00a1ff"/><stop offset="0.319" stop-color="#0037ff"/><stop offset="0.370" stop-color="#0016ff"/><stop offset="0.454" stop-color="#0012ff"/><stop offset="0.697" stop-color="#0079ff"/><stop offset="0.916" stop-color="#00e5ff"/><stop offset="0.958" stop-color="#01fffe"/><stop offset="1.000" stop-color="#15ffea"/></linearGradient><linearGradient id="b45"><stop offset="0.000" stop-color="#83ff7c"/><stop offset="0.067" stop-color="#3affc5"/><stop offset="0.126" stop-color="#0afff5"/><stop offset="0.134" stop-color="#01fffe"/><stop offset="0.303" stop-color="#0042ff"/><stop offset="0.353" stop-color="#0020ff"/><stop offset="0.429" stop-color="#0018ff"/><stop offset="0.471" stop-color="#0025ff"/><stop offset="0.748" stop-color="#00a0ff"/><stop offset="0.916" stop-color="#00f1ff"/><stop offset="0.941" stop-color="#01fffe"/><stop offset="0.983" stop-color="#1affe5"/><stop offset="1.000" stop-color="#21ffde"/></linearGradient><linearGradient id="b46"><stop offset="0.000" stop-color="#7aff85"/><stop offset="0.059" stop-color="#3bffc4"/><stop offset="0.126" stop-color="#00ffff"/><stop offset="0.286" stop-color="#004eff"/><stop offset="0.336" stop-color="#002aff"/><stop offset="0.387" stop-color="#0021ff"/><stop offset="0.429" stop-color="#0021ff"/><stop offset="0.773" stop-color="#00bbff"/><stop offset="0.908" stop-color="#00f8ff"/><stop offset="0.933" stop-color="#07fff8"/><stop offset="0.983" stop-color="#25ffda"/><stop offset="1.000" stop-color="#2cffd3"/></linearGradient><linearGradient id="b47"><stop offset="0.000" stop-color="#72ff8d"/><stop offset="0.059" stop-color="#32ffcd"/><stop offset="0.118" stop-color="#00ffff"/><stop offset="0.269" stop-color="#005bff"/><stop offset="0.319" stop-color="#0035ff"/><stop offset="0.361" stop-color="#0029ff"/><stop offset="0.412" stop-color="#0028ff"/><stop offset="0.857" stop-color="#00ecff"/><stop offset="0.899" stop-color="#00ffff"/><stop offset="0.992" stop-color="#34ffcb"/><stop offset="1.000" stop-color="#38ffc7"/></linearGradient><linearGradient id="b48"><stop offset="0.000" stop-color="#6aff95"/><stop offset="0.042" stop-color="#37ffc8"/><stop offset="0.101" stop-color="#09fff6"/><stop offset="0.109" stop-color="#00ffff"/><stop offset="0.227" stop-color="#0081ff"/><stop offset="0.277" stop-color="#0052ff"/><stop offset="0.311" stop-color="#003cff"/><stop offset="0.345" stop-color="#0031ff"/><stop offset="0.403" stop-color="#0030ff"/><stop offset="0.798" stop-color="#00e0ff"/><stop offset="0.882" stop-color="#03fffc"/><stop offset="0.958" stop-color="#2fffd0"/><stop offset="1.000" stop-color="#43ffbc"/></linearGradient><linearGradient id="b49"><stop offset="0.000" stop-color="#62ff9d"/><stop offset="0.042" stop-color="#31ffce"/><stop offset="0.092" stop-color="#09fff6"/><stop offset="0.101" stop-color="#00ffff"/><stop offset="0.202" stop-color="#0094ff"/><stop offset="0.277" stop-color="#0050ff"/><stop offset="0.328" stop-color="#0039ff"/><stop offset="0.387" stop-color="#0037ff"/><stop offset="0.588" stop-color="#0092ff"/><stop offset="0.782" stop-color="#00e6ff"/><stop offset="0.857" stop-color="#01fffe"/><stop offset="0.950" stop-color="#34ffcb"/><stop offset="1.000" stop-color="#4fffb0"/></linearGradient><linearGradient id="b50"><stop offset="0.000" stop-color="#5affa5"/><stop offset="0.025" stop-color="#38ffc7"/><stop offset="0.076" stop-color="#12ffed"/><stop offset="0.092" stop-color="#00feff"/><stop offset="0.185" stop-color="#009eff"/><stop offset="0.269" stop-color="#0055ff"/><stop offset="0.311" stop-color="#0041ff"/><stop offset="0.370" stop-color="#003dff"/><stop offset="0.546" stop-color="#008fff"/><stop offset="0.756" stop-color="#00eaff"/><stop offset="0.840" stop-color="#03fffc"/><stop offset="0.950" stop-color="#40ffbf"/><stop offset="1.000" stop-color="#5affa5"/></linearGradient><linearGradient id="b51"><stop offset="0.000" stop-color="#52ffad"/><stop offset="0.025" stop-color="#33ffcc"/><stop offset="0.067" stop-color="#12ffed"/><stop offset="0.084" stop-color="#00ffff"/><stop offset="0.176" stop-color="#00a4ff"/><stop offset="0.261" stop-color="#005aff"/><stop offset="0.294" stop-color="#0048ff"/><stop offset="0.353" stop-color="#0043ff"/><stop offset="0.529" stop-color="#0096ff"/><stop offset="0.739" stop-color="#00f1ff"/><stop offset="0.815" stop-color="#04fffb"/><stop offset="0.950" stop-color="#4dffb2"/><stop offset="1.000" stop-color="#66ff99"/></linearGradient><linearGradient id="b52"><stop offset="0.000" stop-color="#4bffb4"/><stop offset="0.017" stop-color="#36ffc9"/><stop offset="0.059" stop-color="#16ffe9"/><stop offset="0.084" stop-color="#00fdff"/><stop offset="0.193" stop-color="#0093ff"/><stop offset="0.252" stop-color="#005eff"/><stop offset="0.286" stop-color="#004dff"/><stop offset="0.345" stop-color="#004bff"/><stop offset="0.529" stop-color="#00a5ff"/><stop offset="0.731" stop-color="#00fdff"/><stop offset="0.807" stop-color="#16ffe9"/><stop offset="1.000" stop-color="#73ff8c"/></linearGradient><linearGradient id="b53"><stop offset="0.000" stop-color="#45ffba"/><stop offset="0.025" stop-color="#2effd1"/><stop offset="0.084" stop-color="#00feff"/><stop offset="0.168" stop-color="#00adff"/><stop offset="0.227" stop-color="#006eff"/><stop offset="0.261" stop-color="#0056ff"/><stop offset="0.303" stop-color="#004fff"/><stop offset="0.336" stop-color="#0053ff"/><stop offset="0.529" stop-color="#00b5ff"/><stop offset="0.697" stop-color="#02fffd"/><stop offset="0.807" stop-color="#2dffd2"/><stop offset="1.000" stop-color="#80ff7f"/></linearGradient><linearGradient id="b54"><stop offset="0.000" stop-color="#3effc1"/><stop offset="0.084" stop-color="#03fffc"/><stop offset="0.143" stop-color="#00caff"/><stop offset="0.202" stop-color="#0080ff"/><stop offset="0.235" stop-color="#0061ff"/><stop offset="0.277" stop-color="#0053ff"/><stop offset="0.319" stop-color="#0058ff"/><stop offset="0.529" stop-color="#00c6ff"/><stop offset="0.664" stop-color="#03fffc"/><stop offset="0.866" stop-color="#5cffa3"/><stop offset="1.000" stop-color="#8dff72"/></linearGradient><linearGradient id="b55"><stop offset="0.000" stop-color="#38ffc7"/><stop offset="0.067" stop-color="#14ffeb"/><stop offset="0.092" stop-color="#00fbff"/><stop offset="0.126" stop-color="#00dcff"/><stop offset="0.185" stop-color="#008cff"/><stop offset="0.218" stop-color="#0067ff"/><stop offset="0.261" stop-color="#0058ff"/><stop offset="0.311" stop-color="#0061ff"/><stop offset="0.521" stop-color="#00d2ff"/><stop offset="0.622" stop-color="#00ffff"/><stop offset="0.824" stop-color="#5fffa0"/><stop offset="1.000" stop-color="#9bff64"/></linearGradient><linearGradient id="b56"><stop offset="0.000" stop-color="#31ffce"/><stop offset="0.059" stop-color="#13ffec"/><stop offset="0.084" stop-color="#00fbff"/><stop offset="0.118" stop-color="#00dcff"/><stop offset="0.185" stop-color="#008aff"/><stop offset="0.202" stop-color="#0078ff"/><stop offset="0.244" stop-color="#0066ff"/><stop offset="0.294" stop-color="#006dff"/><stop offset="0.504" stop-color="#00ddff"/><stop offset="0.588" stop-color="#02fffd"/><stop offset="0.807" stop-color="#64ff9b"/><stop offset="1.000" stop-color="#a5ff5a"/></linearGradient><linearGradient id="b57"><stop offset="0.000" stop-color="#2bffd4"/><stop offset="0.050" stop-color="#11ffee"/><stop offset="0.076" stop-color="#00fbff"/><stop offset="0.118" stop-color="#00d3ff"/><stop offset="0.185" stop-color="#008bff"/><stop offset="0.227" stop-color="#0075ff"/><stop offset="0.261" stop-color="#0076ff"/><stop offset="0.496" stop-color="#00ecff"/><stop offset="0.546" stop-color="#01fffe"/><stop offset="0.815" stop-color="#6fff90"/><stop offset="1.000" stop-color="#afff50"/></linearGradient><linearGradient id="b58"><stop offset="0.000" stop-color="#24ffdb"/><stop offset="0.050" stop-color="#0afff5"/><stop offset="0.067" stop-color="#00fcff"/><stop offset="0.193" stop-color="#008bff"/><stop offset="0.235" stop-color="#0081ff"/><stop offset="0.286" stop-color="#0097ff"/><stop offset="0.471" stop-color="#00f4ff"/><stop offset="0.513" stop-color="#05fffa"/><stop offset="0.958" stop-color="#adff52"/><stop offset="1.000" stop-color="#b9ff46"/></linearGradient><linearGradient id="b59"><stop offset="0.000" stop-color="#1dffe2"/><stop offset="0.059" stop-color="#00feff"/><stop offset="0.143" stop-color="#00bbff"/><stop offset="0.176" stop-color="#009cff"/><stop offset="0.218" stop-color="#008fff"/><stop offset="0.294" stop-color="#00b3ff"/><stop offset="0.445" stop-color="#00fcff"/><stop offset="0.731" stop-color="#63ff9c"/><stop offset="0.975" stop-color="#bcff43"/><stop offset="1.000" stop-color="#c2ff3d"/></linearGradient><linearGradient id="b60"><stop offset="0.000" stop-color="#17ffe8"/><stop offset="0.050" stop-color="#00feff"/><stop offset="0.126" stop-color="#00c9ff"/><stop offset="0.168" stop-color="#00a5ff"/><stop offset="0.210" stop-color="#009aff"/><stop offset="0.412" stop-color="#01fffe"/><stop offset="0.866" stop-color="#9eff61"/><stop offset="0.983" stop-color="#c8ff37"/><stop offset="1.000" stop-color="#cdff32"/></linearGradient><linearGradient id="b61"><stop offset="0.000" stop-color="#10ffef"/><stop offset="0.042" stop-color="#00fcff"/><stop offset="0.126" stop-color="#00c1ff"/><stop offset="0.151" stop-color="#00aeff"/><stop offset="0.193" stop-color="#00a1ff"/><stop offset="0.286" stop-color="#00ceff"/><stop offset="0.387" stop-color="#01fffe"/><stop offset="0.891" stop-color="#b1ff4e"/><stop offset="1.000" stop-color="#d8ff27"/></linearGradient><linearGradient id="b62"><stop offset="0.000" stop-color="#0afff5"/><stop offset="0.034" stop-color="#00faff"/><stop offset="0.143" stop-color="#00b4ff"/><stop offset="0.176" stop-color="#00a9ff"/><stop offset="0.252" stop-color="#00c7ff"/><stop offset="0.319" stop-color="#00edff"/><stop offset="0.361" stop-color="#01fffe"/><stop offset="0.908" stop-color="#c0ff3f"/><stop offset="1.000" stop-color="#e3ff1c"/></linearGradient><linearGradient id="b63"><stop offset="0.000" stop-color="#03fffc"/><stop offset="0.042" stop-color="#00f0ff"/><stop offset="0.126" stop-color="#00bdff"/><stop offset="0.168" stop-color="#00b2ff"/><stop offset="0.235" stop-color="#00c9ff"/><stop offset="0.294" stop-color="#00efff"/><stop offset="0.336" stop-color="#02fffd"/><stop offset="0.697" stop-color="#80ff7f"/><stop offset="0.891" stop-color="#c3ff3c"/><stop offset="1.000" stop-color="#eeff11"/></linearGradient><linearGradient id="b64"><stop offset="0.000" stop-color="#00fcff"/><stop offset="0.067" stop-color="#00ddff"/><stop offset="0.118" stop-color="#00c3ff"/><stop offset="0.160" stop-color="#00b9ff"/><stop offset="0.218" stop-color="#00ccff"/><stop offset="0.269" stop-color="#00f1ff"/><stop offset="0.311" stop-color="#04fffb"/><stop offset="0.647" stop-color="#7aff85"/><stop offset="0.866" stop-color="#c1ff3e"/><stop offset="1.000" stop-color="#f8ff07"/></linearGradient><linearGradient id="b65"><stop offset="0.000" stop-color="#00f5ff"/><stop offset="0.143" stop-color="#00bfff"/><stop offset="0.202" stop-color="#00ceff"/><stop offset="0.252" stop-color="#00f7ff"/><stop offset="0.286" stop-color="#05fffa"/><stop offset="0.630" stop-color="#7fff80"/><stop offset="0.840" stop-color="#c0ff3f"/><stop offset="0.992" stop-color="#fffe00"/><stop offset="1.000" stop-color="#fffb00"/></linearGradient><linearGradient id="b66"><stop offset="0.000" stop-color="#00efff"/><stop offset="0.109" stop-color="#00ccff"/><stop offset="0.134" stop-color="#00c6ff"/><stop offset="0.185" stop-color="#00d1ff"/><stop offset="0.235" stop-color="#00fdff"/><stop offset="0.639" stop-color="#8bff74"/><stop offset="0.824" stop-color="#c2ff3d"/><stop offset="0.975" stop-color="#fffd00"/><stop offset="1.000" stop-color="#fff000"/></linearGradient><linearGradient id="b67"><stop offset="0.000" stop-color="#00e8ff"/><stop offset="0.118" stop-color="#00caff"/><stop offset="0.168" stop-color="#00d2ff"/><stop offset="0.227" stop-color="#00fdff"/><stop offset="0.513" stop-color="#6aff95"/><stop offset="0.739" stop-color="#aeff51"/><stop offset="0.849" stop-color="#d4ff2b"/><stop offset="0.958" stop-color="#fffc00"/><stop offset="1.000" stop-color="#ffe300"/></linearGradient><linearGradient id="b68"><stop offset="0.000" stop-color="#00e1ff"/><stop offset="0.092" stop-color="#00ceff"/><stop offset="0.151" stop-color="#00d4ff"/><stop offset="0.193" stop-color="#00e8ff"/><stop offset="0.227" stop-color="#03fffc"/><stop offset="0.294" stop-color="#21ffde"/><stop offset="0.605" stop-color="#90ff6f"/><stop offset="0.824" stop-color="#d0ff2f"/><stop offset="0.933" stop-color="#ffff00"/><stop offset="0.975" stop-color="#ffea00"/><stop offset="1.000" stop-color="#ffd600"/></linearGradient><linearGradient id="b69"><stop offset="0.000" stop-color="#00deff"/><stop offset="0.076" stop-color="#00d0ff"/><stop offset="0.134" stop-color="#00d2ff"/><stop offset="0.185" stop-color="#00e3ff"/><stop offset="0.218" stop-color="#01fffe"/><stop offset="0.252" stop-color="#14ffeb"/><stop offset="0.504" stop-color="#71ff8e"/><stop offset="0.672" stop-color="#a6ff59"/><stop offset="0.815" stop-color="#d0ff2f"/><stop offset="0.924" stop-color="#ffff00"/><stop offset="0.966" stop-color="#ffed00"/><stop offset="1.000" stop-color="#ffd000"/></linearGradient><linearGradient id="b70"><stop offset="0.000" stop-color="#00deff"/><stop offset="0.076" stop-color="#00d0ff"/><stop offset="0.134" stop-color="#00d2ff"/><stop offset="0.185" stop-color="#00e3ff"/><stop offset="0.218" stop-color="#01fffe"/><stop offset="0.252" stop-color="#14ffeb"/><stop offset="0.504" stop-color="#71ff8e"/><stop offset="0.672" stop-color="#a6ff59"/><stop offset="0.815" stop-color="#d0ff2f"/><stop offset="0.924" stop-color="#ffff00"/><stop offset="0.966" stop-color="#ffed00"/><stop offset="1.000" stop-color="#ffd000"/></linearGradient><linearGradient id="c0"><stop offset="0.000" stop-color="#ff4c00"/><stop offset="0.193" stop-color="#ffff00"/><stop offset="0.429" stop-color="#31ffce"/><stop offset="0.504" stop-color="#02fffd"/><stop offset="0.681" stop-color="#0078ff"/><stop offset="0.798" stop-color="#0000ff"/><stop offset="0.866" stop-color="#0000b8"/><stop offset="0.924" stop-color="#00009d"/><stop offset="1.000" stop-color="#00009d"/></linearGradient><linearGradient id="c1"><stop offset="0.000" stop-color="#ff4c00"/><stop offset="0.193" stop-color="#ffff00"/><stop offset="0.429" stop-color="#31ffce"/><stop offset="0.504" stop-color="#02fffd"/><stop offset="0.681" stop-color="#0078ff"/><stop offset="0.798" stop-color="#0000ff"/><stop offset="0.866" stop-color="#0000b8"/><stop offset="0.924" stop-color="#00009d"/><stop offset="1.000" stop-color="#00009d"/></linearGradient><linearGradient id="c2"><stop offset="0.000" stop-color="#ff4c00"/><stop offset="0.193" stop-color="#fffd00"/><stop offset="0.420" stop-color="#34ffcb"/><stop offset="0.504" stop-color="#00fdff"/><stop offset="0.681" stop-color="#006bff"/><stop offset="0.790" stop-color="#0000fd"/><stop offset="0.857" stop-color="#0000bb"/><stop offset="0.924" stop-color="#00009c"/><stop offset="1.000" stop-color="#00009b"/></linearGradient><linearGradient id="c3"><stop offset="0.000" stop-color="#ff4c00"/><stop offset="0.168" stop-color="#ffe200"/><stop offset="0.202" stop-color="#fbff04"/><stop offset="0.420" stop-color="#2effd1"/><stop offset="0.487" stop-color="#00ffff"/><stop offset="0.672" stop-color="#005bff"/><stop offset="0.765" stop-color="#0000ff"/><stop offset="0.849" stop-color="#0000bb"/><stop offset="0.899" stop-color="#00009f"/><stop offset="1.000" stop-color="#000099"/></linearGradient><linearGradient id="c4"><stop offset="0.000" stop-color="#ff4c00"/><stop offset="0.101" stop-color="#ff9f00"/><stop offset="0.193" stop-color="#fffa00"/><stop offset="0.210" stop-color="#f3ff0c"/><stop offset="0.412" stop-color="#2effd1"/><stop offset="0.471" stop-color="#03fffc"/><stop offset="0.513" stop-color="#00dbff"/><stop offset="0.739" stop-color="#0000fe"/><stop offset="0.882" stop-color="#00009e"/><stop offset="1.000" stop-color="#000097"/></linearGradient><linearGradient id="c5"><stop offset="0.000" stop-color="#ff5900"/><stop offset="0.101" stop-color="#ffac00"/><stop offset="0.185" stop-color="#fffd00"/><stop offset="0.395" stop-color="#34ffcb"/><stop offset="0.462" stop-color="#01fffe"/><stop offset="0.655" stop-color="#0048ff"/><stop offset="0.731" stop-color="#0000fe"/><stop offset="0.874" stop-color="#00009f"/><stop offset="1.000" stop-color="#00009a"/></linearGradient><linearGradient id="c6"><stop offset="0.000" stop-color="#ff6600"/><stop offset="0.084" stop-color="#ffab00"/><stop offset="0.176" stop-color="#feff01"/><stop offset="0.387" stop-color="#34ffcb"/><stop offset="0.454" stop-color="#00ffff"/><stop offset="0.664" stop-color="#0036ff"/><stop offset="0.714" stop-color="#0006ff"/><stop offset="0.723" stop-color="#0000ff"/><stop offset="0.857" stop-color="#0000a4"/><stop offset="0.899" stop-color="#00009b"/><stop offset="0.992" stop-color="#00009a"/><stop offset="1.000" stop-color="#00009d"/></linearGradient><linearGradient id="c7"><stop offset="0.000" stop-color="#ff7300"/><stop offset="0.092" stop-color="#ffbf00"/><stop offset="0.160" stop-color="#fffb00"/><stop offset="0.185" stop-color="#ecff13"/><stop offset="0.370" stop-color="#3affc5"/><stop offset="0.445" stop-color="#00feff"/><stop offset="0.647" stop-color="#003eff"/><stop offset="0.706" stop-color="#0006ff"/><stop offset="0.714" stop-color="#0000fe"/><stop offset="0.840" stop-color="#0000a8"/><stop offset="0.882" stop-color="#00009c"/><stop offset="0.992" stop-color="#00009c"/><stop offset="1.000" stop-color="#0000a0"/></linearGradient><linearGradient id="c8"><stop offset="0.000" stop-color="#ff8000"/><stop offset="0.118" stop-color="#ffe100"/><stop offset="0.151" stop-color="#fffe00"/><stop offset="0.378" stop-color="#2bffd4"/><stop offset="0.437" stop-color="#00fdff"/><stop offset="0.639" stop-color="#003dff"/><stop offset="0.697" stop-color="#0005ff"/><stop offset="0.714" stop-color="#0000f6"/><stop offset="0.832" stop-color="#0000a9"/><stop offset="0.866" stop-color="#00009c"/><stop offset="0.992" stop-color="#00009d"/><stop offset="1.000" stop-color="#0000a3"/></linearGradient><linearGradient id="c9"><stop offset="0.000" stop-color="#ff8d00"/><stop offset="0.143" stop-color="#feff01"/><stop offset="0.370" stop-color="#2affd5"/><stop offset="0.429" stop-color="#00fdff"/><stop offset="0.647" stop-color="#002bff"/><stop offset="0.689" stop-color="#0004ff"/><stop offset="0.714" stop-color="#0000ef"/><stop offset="0.824" stop-color="#0000a8"/><stop offset="0.857" stop-color="#00009c"/><stop offset="0.983" stop-color="#00009b"/><stop offset="1.000" stop-color="#0000a6"/></linearGradient><linearGradient id="c10"><stop offset="0.000" stop-color="#ff9a00"/><stop offset="0.134" stop-color="#fdff02"/><stop offset="0.361" stop-color="#2affd5"/><stop offset="0.420" stop-color="#00fdff"/><stop offset="0.681" stop-color="#0002ff"/><stop offset="0.832" stop-color="#00009c"/><stop offset="0.983" stop-color="#00009c"/><stop offset="1.000" stop-color="#0000a9"/></linearGradient><linearGradient id="c11"><stop offset="0.000" stop-color="#ffa700"/><stop offset="0.118" stop-color="#fffc00"/><stop offset="0.176" stop-color="#ccff33"/><stop offset="0.345" stop-color="#2fffd0"/><stop offset="0.412" stop-color="#00fcff"/><stop offset="0.647" stop-color="#0019ff"/><stop offset="0.672" stop-color="#0000ff"/><stop offset="0.815" stop-color="#00009e"/><stop offset="0.983" stop-color="#0000a0"/><stop offset="1.000" stop-color="#0000b0"/></linearGradient><linearGradient id="c12"><stop offset="0.000" stop-color="#ffb000"/><stop offset="0.109" stop-color="#ffff00"/><stop offset="0.336" stop-color="#2fffd0"/><stop offset="0.395" stop-color="#02fffd"/><stop offset="0.580" stop-color="#0052ff"/><stop offset="0.664" stop-color="#0001ff"/><stop offset="0.798" stop-color="#0000a3"/><stop offset="0.849" stop-color="#00009d"/><stop offset="0.950" stop-color="#00009d"/><stop offset="0.983" stop-color="#0000ac"/><stop offset="1.000" stop-color="#0000c0"/></linearGradient><linearGradient id="c13"><stop offset="0.000" stop-color="#ffba00"/><stop offset="0.101" stop-color="#fdff02"/><stop offset="0.319" stop-color="#35ffca"/><stop offset="0.387" stop-color="#00ffff"/><stop offset="0.588" stop-color="#0040ff"/><stop offset="0.655" stop-color="#0000ff"/><stop offset="0.790" stop-color="#0000a4"/><stop offset="0.824" stop-color="#00009d"/><stop offset="0.950" stop-color="#00009d"/><stop offset="0.983" stop-color="#0000b8"/><stop offset="1.000" stop-color="#0000d0"/></linearGradient><linearGradient id="c14"><stop offset="0.000" stop-color="#ffc400"/><stop offset="0.084" stop-color="#fffd00"/><stop offset="0.109" stop-color="#ecff13"/><stop offset="0.286" stop-color="#48ffb7"/><stop offset="0.378" stop-color="#00fdff"/><stop offset="0.563" stop-color="#0050ff"/><stop offset="0.639" stop-color="#0005ff"/><stop offset="0.655" stop-color="#0000f7"/><stop offset="0.790" stop-color="#00009f"/><stop offset="0.950" stop-color="#00009f"/><stop offset="0.983" stop-color="#0000c3"/><stop offset="1.000" stop-color="#0000e1"/></linearGradient><linearGradient id="c15"><stop offset="0.000" stop-color="#ffce00"/><stop offset="0.076" stop-color="#fffd00"/><stop offset="0.261" stop-color="#56ffa9"/><stop offset="0.361" stop-color="#03fffc"/><stop offset="0.403" stop-color="#00dcff"/><stop offset="0.555" stop-color="#004eff"/><stop offset="0.630" stop-color="#0003ff"/><stop offset="0.782" stop-color="#00009d"/><stop offset="0.941" stop-color="#00009d"/><stop offset="0.958" stop-color="#0000ac"/><stop offset="0.983" stop-color="#0000cf"/><stop offset="1.000" stop-color="#0000f1"/></linearGradient><linearGradient id="c16"><stop offset="0.000" stop-color="#ffd800"/><stop offset="0.059" stop-color="#fffe00"/><stop offset="0.244" stop-color="#59ffa6"/><stop offset="0.353" stop-color="#00ffff"/><stop offset="0.529" stop-color="#005dff"/><stop offset="0.622" stop-color="#0001ff"/><stop offset="0.765" stop-color="#00009d"/><stop offset="0.924" stop-color="#00009f"/><stop offset="0.941" stop-color="#0000a3"/><stop offset="0.975" stop-color="#0000cd"/><stop offset="1.000" stop-color="#0000fc"/></linearGradient><linearGradient id="c17"><stop offset="0.000" stop-color="#ffe200"/><stop offset="0.042" stop-color="#feff01"/><stop offset="0.151" stop-color="#9bff64"/><stop offset="0.336" stop-color="#04fffb"/><stop offset="0.361" stop-color="#00edff"/><stop offset="0.521" stop-color="#005aff"/><stop offset="0.613" stop-color="#0000fe"/><stop offset="0.748" stop-color="#00009f"/><stop offset="0.908" stop-color="#00009e"/><stop offset="0.941" stop-color="#0000ac"/><stop offset="0.966" stop-color="#0000cd"/><stop offset="0.992" stop-color="#0000f7"/><stop offset="1.000" stop-color="#0007ff"/></linearGradient><linearGradient id="c18"><stop offset="0.000" stop-color="#ffeb00"/><stop offset="0.025" stop-color="#fdff02"/><stop offset="0.109" stop-color="#afff50"/><stop offset="0.328" stop-color="#00ffff"/><stop offset="0.504" stop-color="#005fff"/><stop offset="0.597" stop-color="#0004ff"/><stop offset="0.630" stop-color="#0000e9"/><stop offset="0.739" stop-color="#00009d"/><stop offset="0.899" stop-color="#00009d"/><stop offset="0.941" stop-color="#0000b7"/><stop offset="0.958" stop-color="#0000cc"/><stop offset="0.992" stop-color="#0003ff"/><stop offset="1.000" stop-color="#0011ff"/></linearGradient><linearGradient id="c19"><stop offset="0.000" stop-color="#fff500"/><stop offset="0.008" stop-color="#fffe00"/><stop offset="0.076" stop-color="#b9ff46"/><stop offset="0.235" stop-color="#41ffbe"/><stop offset="0.319" stop-color="#00fcff"/><stop offset="0.487" stop-color="#0065ff"/><stop offset="0.588" stop-color="#0001ff"/><stop offset="0.723" stop-color="#00009e"/><stop offset="0.891" stop-color="#00009d"/><stop offset="0.950" stop-color="#0000c9"/><stop offset="0.983" stop-color="#0000ff"/><stop offset="1.000" stop-color="#001bff"/></linearGradient><linearGradient id="c20"><stop offset="0.000" stop-color="#fffe00"/><stop offset="0.059" stop-color="#bbff44"/><stop offset="0.176" stop-color="#66ff99"/><stop offset="0.303" stop-color="#02fffd"/><stop offset="0.471" stop-color="#006bff"/><stop offset="0.580" stop-color="#0000fe"/><stop offset="0.706" stop-color="#0000a0"/><stop offset="0.857" stop-color="#00009d"/><stop offset="0.882" stop-color="#0000a2"/><stop offset="0.941" stop-color="#0000cb"/><stop offset="0.975" stop-color="#0000fd"/><stop offset="1.000" stop-color="#0022ff"/></linearGradient><linearGradient id="c21"><stop offset="0.000" stop-color="#faff05"/><stop offset="0.050" stop-color="#bfff40"/><stop offset="0.160" stop-color="#6cff93"/><stop offset="0.294" stop-color="#01fffe"/><stop offset="0.462" stop-color="#006bff"/><stop offset="0.571" stop-color="#0001ff"/><stop offset="0.689" stop-color="#0000a6"/><stop offset="0.756" stop-color="#00009d"/><stop offset="0.857" stop-color="#0000a1"/><stop offset="0.941" stop-color="#0000d8"/><stop offset="0.966" stop-color="#0000fc"/><stop offset="1.000" stop-color="#0027ff"/></linearGradient><linearGradient id="c22"><stop offset="0.000" stop-color="#f3ff0c"/><stop offset="0.050" stop-color="#bcff43"/><stop offset="0.134" stop-color="#79ff86"/><stop offset="0.286" stop-color="#00ffff"/><stop offset="0.454" stop-color="#006bff"/><stop offset="0.563" stop-color="#0001ff"/><stop offset="0.681" stop-color="#0000a6"/><stop offset="0.739" stop-color="#00009d"/><stop offset="0.824" stop-color="#0000a1"/><stop offset="0.857" stop-color="#0000ac"/><stop offset="0.933" stop-color="#0000df"/><stop offset="0.958" stop-color="#0000fd"/><stop offset="1.000" stop-color="#002bff"/></linearGradient><linearGradient id="c23"><stop offset="0.000" stop-color="#ecff13"/><stop offset="0.042" stop-color="#beff41"/><stop offset="0.118" stop-color="#7fff80"/><stop offset="0.277" stop-color="#00ffff"/><stop offset="0.454" stop-color="#0063ff"/><stop offset="0.555" stop-color="#0002ff"/><stop offset="0.664" stop-color="#0000aa"/><stop offset="0.714" stop-color="#00009d"/><stop offset="0.798" stop-color="#0000a0"/><stop offset="0.840" stop-color="#0000ae"/><stop offset="0.924" stop-color="#0000e5"/><stop offset="0.950" stop-color="#0002ff"/><stop offset="0.975" stop-color="#001cff"/><stop offset="1.000" stop-color="#0030ff"/></linearGradient><linearGradient id="c24"><stop offset="0.000" stop-color="#e6ff19"/><stop offset="0.042" stop-color="#b9ff46"/><stop offset="0.160" stop-color="#54ffab"/><stop offset="0.269" stop-color="#00ffff"/><stop offset="0.445" stop-color="#0064ff"/><stop offset="0.546" stop-color="#0001ff"/><stop offset="0.647" stop-color="#0000af"/><stop offset="0.689" stop-color="#00009d"/><stop offset="0.782" stop-color="#0000a0"/><stop offset="0.832" stop-color="#0000b6"/><stop offset="0.924" stop-color="#0000f4"/><stop offset="0.933" stop-color="#0000fd"/><stop offset="0.975" stop-color="#0027ff"/><stop offset="1.000" stop-color="#0034ff"/></linearGradient><linearGradient id="c25"><stop offset="0.000" stop-color="#dfff20"/><stop offset="0.067" stop-color="#9cff63"/><stop offset="0.126" stop-color="#67ff98"/><stop offset="0.261" stop-color="#00ffff"/><stop offset="0.437" stop-color="#0064ff"/><stop offset="0.538" stop-color="#0001ff"/><stop offset="0.630" stop-color="#0000b4"/><stop offset="0.672" stop-color="#00009d"/><stop offset="0.756" stop-color="#00009d"/><stop offset="0.840" stop-color="#0000c6"/><stop offset="0.916" stop-color="#0000fa"/><stop offset="0.933" stop-color="#000cff"/><stop offset="0.966" stop-color="#002eff"/><stop offset="1.000" stop-color="#0038ff"/></linearGradient><linearGradient id="c26"><stop offset="0.000" stop-color="#d9ff26"/><stop offset="0.101" stop-color="#73ff8c"/><stop offset="0.252" stop-color="#01fffe"/><stop offset="0.420" stop-color="#006cff"/><stop offset="0.529" stop-color="#0000fe"/><stop offset="0.605" stop-color="#0000bf"/><stop offset="0.655" stop-color="#00009e"/><stop offset="0.739" stop-color="#00009d"/><stop offset="0.849" stop-color="#0000d8"/><stop offset="0.908" stop-color="#0001ff"/><stop offset="0.966" stop-color="#003aff"/><stop offset="1.000" stop-color="#003dff"/></linearGradient><linearGradient id="c27"><stop offset="0.000" stop-color="#d1ff2e"/><stop offset="0.084" stop-color="#7aff85"/><stop offset="0.244" stop-color="#00feff"/><stop offset="0.412" stop-color="#006aff"/><stop offset="0.521" stop-color="#0000fd"/><stop offset="0.597" stop-color="#0000be"/><stop offset="0.639" stop-color="#0000a2"/><stop offset="0.723" stop-color="#0000a3"/><stop offset="0.840" stop-color="#0000e1"/><stop offset="0.891" stop-color="#0000fe"/><stop offset="0.966" stop-color="#0040ff"/><stop offset="1.000" stop-color="#0043ff"/></linearGradient><linearGradient id="c28"><stop offset="0.000" stop-color="#c8ff37"/><stop offset="0.076" stop-color="#7bff84"/><stop offset="0.218" stop-color="#0afff5"/><stop offset="0.235" stop-color="#00fcff"/><stop offset="0.403" stop-color="#0066ff"/><stop offset="0.504" stop-color="#0003ff"/><stop offset="0.605" stop-color="#0000b2"/><stop offset="0.630" stop-color="#0000a4"/><stop offset="0.697" stop-color="#0000aa"/><stop offset="0.824" stop-color="#0000e5"/><stop offset="0.874" stop-color="#0001ff"/><stop offset="0.950" stop-color="#0033ff"/><stop offset="0.966" stop-color="#0044ff"/><stop offset="1.000" stop-color="#0049ff"/></linearGradient><linearGradient id="c29"><stop offset="0.000" stop-color="#bfff40"/><stop offset="0.067" stop-color="#7bff84"/><stop offset="0.202" stop-color="#0efff1"/><stop offset="0.218" stop-color="#01fffe"/><stop offset="0.395" stop-color="#0062ff"/><stop offset="0.496" stop-color="#0001ff"/><stop offset="0.588" stop-color="#0000b7"/><stop offset="0.613" stop-color="#0000a9"/><stop offset="0.664" stop-color="#0000ad"/><stop offset="0.706" stop-color="#0000bc"/><stop offset="0.857" stop-color="#0003ff"/><stop offset="0.941" stop-color="#0031ff"/><stop offset="0.975" stop-color="#004cff"/><stop offset="1.000" stop-color="#0050ff"/></linearGradient><linearGradient id="c30"><stop offset="0.000" stop-color="#b6ff49"/><stop offset="0.067" stop-color="#73ff8c"/><stop offset="0.185" stop-color="#12ffed"/><stop offset="0.210" stop-color="#00feff"/><stop offset="0.395" stop-color="#0057ff"/><stop offset="0.487" stop-color="#0000fe"/><stop offset="0.580" stop-color="#0000b6"/><stop offset="0.597" stop-color="#0000ad"/><stop offset="0.639" stop-color="#0000af"/><stop offset="0.832" stop-color="#0001ff"/><stop offset="0.933" stop-color="#0030ff"/><stop offset="0.958" stop-color="#0042ff"/><stop offset="0.983" stop-color="#0056ff"/><stop offset="1.000" stop-color="#0056ff"/></linearGradient><linearGradient id="c31"><stop offset="0.000" stop-color="#aeff51"/><stop offset="0.067" stop-color="#6bff94"/><stop offset="0.160" stop-color="#1dffe2"/><stop offset="0.202" stop-color="#00fbff"/><stop offset="0.429" stop-color="#002cff"/><stop offset="0.479" stop-color="#0000fc"/><stop offset="0.571" stop-color="#0000b5"/><stop offset="0.597" stop-color="#0000b1"/><stop offset="0.630" stop-color="#0000b7"/><stop offset="0.706" stop-color="#0000db"/><stop offset="0.815" stop-color="#0003ff"/><stop offset="0.933" stop-color="#0033ff"/><stop offset="0.950" stop-color="#003cff"/><stop offset="0.983" stop-color="#005dff"/><stop offset="1.000" stop-color="#005dff"/></linearGradient><linearGradient id="c32"><stop offset="0.000" stop-color="#a5ff5a"/><stop offset="0.092" stop-color="#4bffb4"/><stop offset="0.160" stop-color="#14ffeb"/><stop offset="0.185" stop-color="#01fffe"/><stop offset="0.462" stop-color="#0002ff"/><stop offset="0.563" stop-color="#0000b6"/><stop offset="0.605" stop-color="#0000b7"/><stop offset="0.681" stop-color="#0000e0"/><stop offset="0.790" stop-color="#0002ff"/><stop offset="0.916" stop-color="#002eff"/><stop offset="0.950" stop-color="#0040ff"/><stop offset="0.983" stop-color="#0063ff"/><stop offset="1.000" stop-color="#0063ff"/></linearGradient><linearGradient id="c33"><stop offset="0.000" stop-color="#9cff63"/><stop offset="0.109" stop-color="#32ffcd"/><stop offset="0.176" stop-color="#00feff"/><stop offset="0.454" stop-color="#0000ff"/><stop offset="0.546" stop-color="#0000ba"/><stop offset="0.588" stop-color="#0000bb"/><stop offset="0.655" stop-color="#0000e6"/><stop offset="0.765" stop-color="#0003ff"/><stop offset="0.891" stop-color="#0025ff"/><stop offset="0.950" stop-color="#0044ff"/><stop offset="0.983" stop-color="#006aff"/><stop offset="1.000" stop-color="#006aff"/></linearGradient><linearGradient id="c34"><stop offset="0.000" stop-color="#92ff6d"/><stop offset="0.092" stop-color="#35ffca"/><stop offset="0.168" stop-color="#00fdff"/><stop offset="0.403" stop-color="#0027ff"/><stop offset="0.445" stop-color="#0001ff"/><stop offset="0.529" stop-color="#0000c1"/><stop offset="0.571" stop-color="#0000c1"/><stop offset="0.647" stop-color="#0000ea"/><stop offset="0.739" stop-color="#0003ff"/><stop offset="0.882" stop-color="#002cff"/><stop offset="0.941" stop-color="#0048ff"/><stop offset="0.983" stop-color="#0072ff"/><stop offset="1.000" stop-color="#0072ff"/></linearGradient><linearGradient id="c35"><stop offset="0.000" stop-color="#88ff77"/><stop offset="0.084" stop-color="#33ffcc"/><stop offset="0.160" stop-color="#00fdff"/><stop offset="0.328" stop-color="#0068ff"/><stop offset="0.437" stop-color="#0001ff"/><stop offset="0.513" stop-color="#0000c8"/><stop offset="0.555" stop-color="#0000c7"/><stop offset="0.630" stop-color="#0000ec"/><stop offset="0.714" stop-color="#0003ff"/><stop offset="0.866" stop-color="#002fff"/><stop offset="0.941" stop-color="#0054ff"/><stop offset="0.983" stop-color="#007aff"/><stop offset="1.000" stop-color="#007aff"/></linearGradient><linearGradient id="c36"><stop offset="0.000" stop-color="#7fff80"/><stop offset="0.076" stop-color="#34ffcb"/><stop offset="0.151" stop-color="#00fdff"/><stop offset="0.286" stop-color="#008aff"/><stop offset="0.429" stop-color="#0000ff"/><stop offset="0.496" stop-color="#0000cf"/><stop offset="0.546" stop-color="#0000d0"/><stop offset="0.613" stop-color="#0000ee"/><stop offset="0.689" stop-color="#0003ff"/><stop offset="0.857" stop-color="#0035ff"/><stop offset="0.933" stop-color="#005aff"/><stop offset="0.983" stop-color="#0083ff"/><stop offset="1.000" stop-color="#0083ff"/></linearGradient><linearGradient id="c37"><stop offset="0.000" stop-color="#75ff8a"/><stop offset="0.076" stop-color="#2fffd0"/><stop offset="0.143" stop-color="#00fdff"/><stop offset="0.252" stop-color="#00a3ff"/><stop offset="0.420" stop-color="#0000ff"/><stop offset="0.479" stop-color="#0000d6"/><stop offset="0.529" stop-color="#0000d6"/><stop offset="0.613" stop-color="#0000f4"/><stop offset="0.664" stop-color="#0002ff"/><stop offset="0.849" stop-color="#003cff"/><stop offset="0.924" stop-color="#0061ff"/><stop offset="0.983" stop-color="#008bff"/><stop offset="1.000" stop-color="#008bff"/></linearGradient><linearGradient id="c38"><stop offset="0.000" stop-color="#6bff94"/><stop offset="0.067" stop-color="#2fffd0"/><stop offset="0.134" stop-color="#00feff"/><stop offset="0.218" stop-color="#00bbff"/><stop offset="0.353" stop-color="#0037ff"/><stop offset="0.403" stop-color="#0007ff"/><stop offset="0.420" stop-color="#0000f9"/><stop offset="0.462" stop-color="#0000dd"/><stop offset="0.521" stop-color="#0000de"/><stop offset="0.630" stop-color="#0000ff"/><stop offset="0.832" stop-color="#003eff"/><stop offset="0.924" stop-color="#006eff"/><stop offset="0.983" stop-color="#0093ff"/><stop offset="1.000" stop-color="#0093ff"/></linearGradient><linearGradient id="c39"><stop offset="0.000" stop-color="#61ff9e"/><stop offset="0.076" stop-color="#24ffdb"/><stop offset="0.126" stop-color="#01fffe"/><stop offset="0.185" stop-color="#00d3ff"/><stop offset="0.277" stop-color="#007dff"/><stop offset="0.387" stop-color="#000dff"/><stop offset="0.403" stop-color="#0001ff"/><stop offset="0.445" stop-color="#0000e3"/><stop offset="0.504" stop-color="#0000e4"/><stop offset="0.613" stop-color="#0001ff"/><stop offset="0.824" stop-color="#0045ff"/><stop offset="0.941" stop-color="#0085ff"/><stop offset="0.983" stop-color="#009bff"/><stop offset="1.000" stop-color="#009bff"/></linearGradient><linearGradient id="c40"><stop offset="0.000" stop-color="#57ffa8"/><stop offset="0.118" stop-color="#03fffc"/><stop offset="0.160" stop-color="#00e3ff"/><stop offset="0.244" stop-color="#0097ff"/><stop offset="0.370" stop-color="#0014ff"/><stop offset="0.395" stop-color="#0001ff"/><stop offset="0.429" stop-color="#0000e9"/><stop offset="0.504" stop-color="#0000ec"/><stop offset="0.597" stop-color="#0003ff"/><stop offset="0.807" stop-color="#0047ff"/><stop offset="0.950" stop-color="#0095ff"/><stop offset="0.975" stop-color="#00a2ff"/><stop offset="1.000" stop-color="#00a3ff"/></linearGradient><linearGradient id="c41"><stop offset="0.000" stop-color="#4dffb2"/><stop offset="0.118" stop-color="#00ffff"/><stop offset="0.218" stop-color="#00a9ff"/><stop offset="0.353" stop-color="#001aff"/><stop offset="0.387" stop-color="#0002ff"/><stop offset="0.412" stop-color="#0000ef"/><stop offset="0.504" stop-color="#0000f3"/><stop offset="0.571" stop-color="#0003ff"/><stop offset="0.790" stop-color="#004aff"/><stop offset="0.933" stop-color="#0095ff"/><stop offset="0.966" stop-color="#00aaff"/><stop offset="1.000" stop-color="#00acff"/></linearGradient><linearGradient id="c42"><stop offset="0.000" stop-color="#44ffbb"/><stop offset="0.118" stop-color="#00fcff"/><stop offset="0.202" stop-color="#00b3ff"/><stop offset="0.336" stop-color="#0021ff"/><stop offset="0.387" stop-color="#0000fc"/><stop offset="0.403" stop-color="#0000f5"/><stop offset="0.496" stop-color="#0000f8"/><stop offset="0.546" stop-color="#0002ff"/><stop offset="0.773" stop-color="#004dff"/><stop offset="0.916" stop-color="#0096ff"/><stop offset="0.966" stop-color="#00b4ff"/><stop offset="1.000" stop-color="#00b5ff"/></linearGradient><linearGradient id="c43"><stop offset="0.000" stop-color="#3fffc0"/><stop offset="0.101" stop-color="#01fffe"/><stop offset="0.185" stop-color="#00bcff"/><stop offset="0.261" stop-color="#006dff"/><stop offset="0.328" stop-color="#0022ff"/><stop offset="0.378" stop-color="#0000fd"/><stop offset="0.479" stop-color="#0000fc"/><stop offset="0.538" stop-color="#0009ff"/><stop offset="0.765" stop-color="#0057ff"/><stop offset="0.933" stop-color="#00aaff"/><stop offset="0.966" stop-color="#00beff"/><stop offset="1.000" stop-color="#00c2ff"/></linearGradient><linearGradient id="c44"><stop offset="0.000" stop-color="#3bffc4"/><stop offset="0.092" stop-color="#00ffff"/><stop offset="0.176" stop-color="#00bdff"/><stop offset="0.235" stop-color="#0082ff"/><stop offset="0.311" stop-color="#0029ff"/><stop offset="0.370" stop-color="#0002ff"/><stop offset="0.471" stop-color="#0003ff"/><stop offset="0.571" stop-color="#001eff"/><stop offset="0.782" stop-color="#006dff"/><stop offset="0.941" stop-color="#00b9ff"/><stop offset="0.975" stop-color="#00caff"/><stop offset="1.000" stop-color="#00cfff"/></linearGradient><linearGradient id="c45"><stop offset="0.000" stop-color="#36ffc9"/><stop offset="0.084" stop-color="#00ffff"/><stop offset="0.160" stop-color="#00c6ff"/><stop offset="0.218" stop-color="#008dff"/><stop offset="0.294" stop-color="#0031ff"/><stop offset="0.353" stop-color="#0009ff"/><stop offset="0.445" stop-color="#0006ff"/><stop offset="0.538" stop-color="#001dff"/><stop offset="0.790" stop-color="#007dff"/><stop offset="0.933" stop-color="#00beff"/><stop offset="0.975" stop-color="#00d5ff"/><stop offset="1.000" stop-color="#00dcff"/></linearGradient><linearGradient id="c46"><stop offset="0.000" stop-color="#31ffce"/><stop offset="0.076" stop-color="#02fffd"/><stop offset="0.143" stop-color="#00d0ff"/><stop offset="0.202" stop-color="#0099ff"/><stop offset="0.269" stop-color="#0042ff"/><stop offset="0.303" stop-color="#0025ff"/><stop offset="0.336" stop-color="#000fff"/><stop offset="0.412" stop-color="#000aff"/><stop offset="0.479" stop-color="#0014ff"/><stop offset="0.739" stop-color="#0075ff"/><stop offset="0.924" stop-color="#00c4ff"/><stop offset="0.975" stop-color="#00e0ff"/><stop offset="1.000" stop-color="#00e9ff"/></linearGradient><linearGradient id="c47"><stop offset="0.000" stop-color="#2cffd3"/><stop offset="0.076" stop-color="#00fcff"/><stop offset="0.143" stop-color="#00cbff"/><stop offset="0.185" stop-color="#00a5ff"/><stop offset="0.252" stop-color="#004bff"/><stop offset="0.277" stop-color="#0031ff"/><stop offset="0.319" stop-color="#0015ff"/><stop offset="0.378" stop-color="#000eff"/><stop offset="0.445" stop-color="#0014ff"/><stop offset="0.605" stop-color="#004dff"/><stop offset="0.916" stop-color="#00c9ff"/><stop offset="0.992" stop-color="#00f3ff"/><stop offset="1.000" stop-color="#00f6ff"/></linearGradient><linearGradient id="c48"><stop offset="0.000" stop-color="#27ffd8"/><stop offset="0.067" stop-color="#00feff"/><stop offset="0.151" stop-color="#00c0ff"/><stop offset="0.168" stop-color="#00b1ff"/><stop offset="0.227" stop-color="#005eff"/><stop offset="0.261" stop-color="#0038ff"/><stop offset="0.303" stop-color="#001cff"/><stop offset="0.353" stop-color="#0013ff"/><stop offset="0.429" stop-color="#0018ff"/><stop offset="0.580" stop-color="#004fff"/><stop offset="0.908" stop-color="#00ceff"/><stop offset="0.992" stop-color="#00ffff"/><stop offset="1.000" stop-color="#04fffb"/></linearGradient><linearGradient id="c49"><stop offset="0.000" stop-color="#22ffdd"/><stop offset="0.059" stop-color="#02fffd"/><stop offset="0.126" stop-color="#00d1ff"/><stop offset="0.151" stop-color="#00bdff"/><stop offset="0.210" stop-color="#0067ff"/><stop offset="0.244" stop-color="#003fff"/><stop offset="0.286" stop-color="#0023ff"/><stop offset="0.336" stop-color="#0018ff"/><stop offset="0.412" stop-color="#001cff"/><stop offset="0.555" stop-color="#0051ff"/><stop offset="0.790" stop-color="#00acff"/><stop offset="0.891" stop-color="#00cfff"/><stop offset="0.975" stop-color="#03fffc"/><stop offset="1.000" stop-color="#12ffed"/></linearGradient><linearGradient id="c50"><stop offset="0.000" stop-color="#1dffe2"/><stop offset="0.059" stop-color="#00feff"/><stop offset="0.134" stop-color="#00c9ff"/><stop offset="0.193" stop-color="#0070ff"/><stop offset="0.227" stop-color="#0046ff"/><stop offset="0.277" stop-color="#0027ff"/><stop offset="0.319" stop-color="#001dff"/><stop offset="0.395" stop-color="#0020ff"/><stop offset="0.529" stop-color="#0053ff"/><stop offset="0.681" stop-color="#0090ff"/><stop offset="0.882" stop-color="#00d4ff"/><stop offset="0.958" stop-color="#01fffe"/><stop offset="1.000" stop-color="#1fffe0"/></linearGradient><linearGradient id="c51"><stop offset="0.000" stop-color="#18ffe7"/><stop offset="0.050" stop-color="#00feff"/><stop offset="0.118" stop-color="#00d1ff"/><stop offset="0.176" stop-color="#0079ff"/><stop offset="0.210" stop-color="#004fff"/><stop offset="0.261" stop-color="#002eff"/><stop offset="0.303" stop-color="#0023ff"/><stop offset="0.378" stop-color="#0024ff"/><stop offset="0.513" stop-color="#0058ff"/><stop offset="0.647" stop-color="#0090ff"/><stop offset="0.832" stop-color="#00caff"/><stop offset="0.874" stop-color="#00dbff"/><stop offset="0.941" stop-color="#00ffff"/><stop offset="1.000" stop-color="#2affd5"/></linearGradient><linearGradient id="c52"><stop offset="0.000" stop-color="#11ffee"/><stop offset="0.034" stop-color="#00ffff"/><stop offset="0.101" stop-color="#00d4ff"/><stop offset="0.168" stop-color="#007aff"/><stop offset="0.193" stop-color="#005bff"/><stop offset="0.244" stop-color="#0039ff"/><stop offset="0.286" stop-color="#0029ff"/><stop offset="0.361" stop-color="#0028ff"/><stop offset="0.504" stop-color="#0060ff"/><stop offset="0.647" stop-color="#009aff"/><stop offset="0.832" stop-color="#00d5ff"/><stop offset="0.924" stop-color="#02fffd"/><stop offset="1.000" stop-color="#33ffcc"/></linearGradient><linearGradient id="c53"><stop offset="0.000" stop-color="#0bfff4"/><stop offset="0.025" stop-color="#00fdff"/><stop offset="0.084" stop-color="#00d6ff"/><stop offset="0.126" stop-color="#00a3ff"/><stop offset="0.185" stop-color="#0062ff"/><stop offset="0.235" stop-color="#003fff"/><stop offset="0.269" stop-color="#0030ff"/><stop offset="0.345" stop-color="#002cff"/><stop offset="0.496" stop-color="#0068ff"/><stop offset="0.664" stop-color="#00aaff"/><stop offset="0.840" stop-color="#00e5ff"/><stop offset="0.899" stop-color="#01fffe"/><stop offset="1.000" stop-color="#3bffc4"/></linearGradient><linearGradient id="c54"><stop offset="0.000" stop-color="#04fffb"/><stop offset="0.034" stop-color="#00f3ff"/><stop offset="0.076" stop-color="#00d6ff"/><stop offset="0.134" stop-color="#0091ff"/><stop offset="0.176" stop-color="#0068ff"/><stop offset="0.235" stop-color="#0040ff"/><stop offset="0.269" stop-color="#0035ff"/><stop offset="0.336" stop-color="#0033ff"/><stop offset="0.546" stop-color="#0089ff"/><stop offset="0.773" stop-color="#00d9ff"/><stop offset="0.849" stop-color="#00f7ff"/><stop offset="0.874" stop-color="#02fffd"/><stop offset="0.958" stop-color="#2cffd3"/><stop offset="1.000" stop-color="#43ffbc"/></linearGradient><linearGradient id="c55"><stop offset="0.000" stop-color="#00fcff"/><stop offset="0.050" stop-color="#00e1ff"/><stop offset="0.067" stop-color="#00d5ff"/><stop offset="0.092" stop-color="#00b4ff"/><stop offset="0.176" stop-color="#0066ff"/><stop offset="0.235" stop-color="#003fff"/><stop offset="0.303" stop-color="#0036ff"/><stop offset="0.345" stop-color="#0040ff"/><stop offset="0.689" stop-color="#00c9ff"/><stop offset="0.824" stop-color="#00f8ff"/><stop offset="0.849" stop-color="#04fffb"/><stop offset="0.933" stop-color="#29ffd6"/><stop offset="1.000" stop-color="#4bffb4"/></linearGradient><linearGradient id="c56"><stop offset="0.000" stop-color="#00f6ff"/><stop offset="0.059" stop-color="#00d5ff"/><stop offset="0.092" stop-color="#00adff"/><stop offset="0.193" stop-color="#0058ff"/><stop offset="0.227" stop-color="#0043ff"/><stop offset="0.286" stop-color="#003bff"/><stop offset="0.328" stop-color="#0044ff"/><stop offset="0.689" stop-color="#00d4ff"/><stop offset="0.815" stop-color="#01fffe"/><stop offset="0.924" stop-color="#30ffcf"/><stop offset="1.000" stop-color="#53ffac"/></linearGradient><linearGradient id="c57"><stop offset="0.000" stop-color="#00efff"/><stop offset="0.059" stop-color="#00ceff"/><stop offset="0.084" stop-color="#00b1ff"/><stop offset="0.202" stop-color="#004fff"/><stop offset="0.252" stop-color="#0040ff"/><stop offset="0.303" stop-color="#0045ff"/><stop offset="0.706" stop-color="#00e4ff"/><stop offset="0.790" stop-color="#03fffc"/><stop offset="0.916" stop-color="#37ffc8"/><stop offset="0.992" stop-color="#58ffa7"/><stop offset="1.000" stop-color="#5cffa3"/></linearGradient><linearGradient id="c58"><stop offset="0.000" stop-color="#00e9ff"/><stop offset="0.059" stop-color="#00c7ff"/><stop offset="0.193" stop-color="#0051ff"/><stop offset="0.252" stop-color="#0045ff"/><stop offset="0.286" stop-color="#0049ff"/><stop offset="0.706" stop-color="#00f0ff"/><stop offset="0.756" stop-color="#02fffd"/><stop offset="0.899" stop-color="#39ffc6"/><stop offset="0.966" stop-color="#58ffa7"/><stop offset="1.000" stop-color="#64ff9b"/></linearGradient><linearGradient id="c59"><stop offset="0.000" stop-color="#00e2ff"/><stop offset="0.067" stop-color="#00beff"/><stop offset="0.176" stop-color="#0058ff"/><stop offset="0.227" stop-color="#004aff"/><stop offset="0.269" stop-color="#004dff"/><stop offset="0.706" stop-color="#00fbff"/><stop offset="0.773" stop-color="#13ffec"/><stop offset="0.891" stop-color="#40ffbf"/><stop offset="0.958" stop-color="#60ff9f"/><stop offset="1.000" stop-color="#6cff93"/></linearGradient><linearGradient id="c60"><stop offset="0.000" stop-color="#00dbff"/><stop offset="0.059" stop-color="#00bfff"/><stop offset="0.160" stop-color="#0061ff"/><stop offset="0.218" stop-color="#0050ff"/><stop offset="0.252" stop-color="#0053ff"/><stop offset="0.681" stop-color="#00ffff"/><stop offset="0.874" stop-color="#43ffbc"/><stop offset="0.958" stop-color="#6aff95"/><stop offset="1.000" stop-color="#75ff8a"/></linearGradient><linearGradient id="c61"><stop offset="0.000" stop-color="#00d4ff"/><stop offset="0.050" stop-color="#00bbff"/><stop offset="0.151" stop-color="#0066ff"/><stop offset="0.202" stop-color="#0059ff"/><stop offset="0.244" stop-color="#005fff"/><stop offset="0.454" stop-color="#00b8ff"/><stop offset="0.647" stop-color="#02fffd"/><stop offset="0.857" stop-color="#48ffb7"/><stop offset="0.966" stop-color="#76ff89"/><stop offset="1.000" stop-color="#80ff7f"/></linearGradient><linearGradient id="c62"><stop offset="0.000" stop-color="#00ccff"/><stop offset="0.050" stop-color="#00b2ff"/><stop offset="0.126" stop-color="#0074ff"/><stop offset="0.185" stop-color="#0062ff"/><stop offset="0.227" stop-color="#0067ff"/><stop offset="0.319" stop-color="#0092ff"/><stop offset="0.403" stop-color="#00b6ff"/><stop offset="0.605" stop-color="#02fffd"/><stop offset="0.849" stop-color="#51ffae"/><stop offset="1.000" stop-color="#8bff74"/></linearGradient><linearGradient id="c63"><stop offset="0.000" stop-color="#00c5ff"/><stop offset="0.042" stop-color="#00b0ff"/><stop offset="0.109" stop-color="#007dff"/><stop offset="0.176" stop-color="#006aff"/><stop offset="0.235" stop-color="#0078ff"/><stop offset="0.361" stop-color="#00b9ff"/><stop offset="0.563" stop-color="#02fffd"/><stop offset="0.840" stop-color="#5affa5"/><stop offset="1.000" stop-color="#96ff69"/></linearGradient><linearGradient id="c64"><stop offset="0.000" stop-color="#00beff"/><stop offset="0.042" stop-color="#00a9ff"/><stop offset="0.101" stop-color="#0081ff"/><stop offset="0.160" stop-color="#0073ff"/><stop offset="0.227" stop-color="#0084ff"/><stop offset="0.345" stop-color="#00c6ff"/><stop offset="0.521" stop-color="#02fffd"/><stop offset="0.849" stop-color="#68ff97"/><stop offset="1.000" stop-color="#a1ff5e"/></linearGradient><linearGradient id="c65"><stop offset="0.000" stop-color="#00b6ff"/><stop offset="0.067" stop-color="#0094ff"/><stop offset="0.101" stop-color="#0086ff"/><stop offset="0.151" stop-color="#007dff"/><stop offset="0.210" stop-color="#008cff"/><stop offset="0.319" stop-color="#00cfff"/><stop offset="0.471" stop-color="#01fffe"/><stop offset="0.882" stop-color="#7cff83"/><stop offset="1.000" stop-color="#acff53"/></linearGradient><linearGradient id="c66"><stop offset="0.000" stop-color="#00afff"/><stop offset="0.092" stop-color="#008dff"/><stop offset="0.134" stop-color="#0086ff"/><stop offset="0.193" stop-color="#0093ff"/><stop offset="0.303" stop-color="#00dcff"/><stop offset="0.420" stop-color="#01fffe"/><stop offset="0.882" stop-color="#86ff79"/><stop offset="1.000" stop-color="#b7ff48"/></linearGradient><linearGradient id="c67"><stop offset="0.000" stop-color="#00aaff"/><stop offset="0.092" stop-color="#008fff"/><stop offset="0.134" stop-color="#008fff"/><stop offset="0.185" stop-color="#009dff"/><stop offset="0.294" stop-color="#00e0ff"/><stop offset="0.395" stop-color="#02fffd"/><stop offset="0.756" stop-color="#67ff98"/><stop offset="0.891" stop-color="#91ff6e"/><stop offset="1.000" stop-color="#bfff40"/></linearGradient><linearGradient id="c68"><stop offset="0.000" stop-color="#00a6ff"/><stop offset="0.084" stop-color="#0093ff"/><stop offset="0.143" stop-color="#0098ff"/><stop offset="0.210" stop-color="#00b5ff"/><stop offset="0.303" stop-color="#00ecff"/><stop offset="0.378" stop-color="#03fffc"/><stop offset="0.697" stop-color="#5effa1"/><stop offset="0.882" stop-color="#94ff6b"/><stop offset="1.000" stop-color="#c5ff3a"/></linearGradient><linearGradient id="c69"><stop offset="0.000" stop-color="#00a4ff"/><stop offset="0.076" stop-color="#0095ff"/><stop offset="0.134" stop-color="#0099ff"/><stop offset="0.202" stop-color="#00b4ff"/><stop offset="0.303" stop-color="#00efff"/><stop offset="0.370" stop-color="#03fffc"/><stop offset="0.681" stop-color="#5dffa2"/><stop offset="0.882" stop-color="#97ff68"/><stop offset="1.000" stop-color="#c8ff37"/></linearGradient><linearGradient id="c70"><stop offset="0.000" stop-color="#00a4ff"/><stop offset="0.076" stop-color="#0095ff"/><stop offset="0.134" stop-color="#0099ff"/><stop offset="0.202" stop-color="#00b4ff"/><stop offset="0.303" stop-color="#00efff"/><stop offset="0.370" stop-color="#03fffc"/><stop offset="0.681" stop-color="#5dffa2"/><stop offset="0.882" stop-color="#97ff68"/><stop offset="1.000" stop-color="#c8ff37"/></linearGradient><linearGradient id="d0"><stop offset="0.000" stop-color="#fffb00"/><stop offset="0.059" stop-color="#fffd00"/><stop offset="0.151" stop-color="#b5ff4a"/><stop offset="0.286" stop-color="#6cff93"/><stop offset="0.387" stop-color="#2fffd0"/><stop offset="0.496" stop-color="#00feff"/><stop offset="0.597" stop-color="#00b6ff"/><stop offset="0.697" stop-color="#0079ff"/><stop offset="0.815" stop-color="#000fff"/><stop offset="0.832" stop-color="#0001ff"/><stop offset="0.891" stop-color="#0000b9"/><stop offset="0.950" stop-color="#00009d"/><stop offset="1.000" stop-color="#00009d"/></linearGradient><linearGradient id="d1"><stop offset="0.000" stop-color="#fffb00"/><stop offset="0.059" stop-color="#fffd00"/><stop offset="0.151" stop-color="#b5ff4a"/><stop offset="0.286" stop-color="#6cff93"/><stop offset="0.387" stop-color="#2fffd0"/><stop offset="0.496" stop-color="#00feff"/><stop offset="0.597" stop-color="#00b6ff"/><stop offset="0.697" stop-color="#0079ff"/><stop offset="0.815" stop-color="#000fff"/><stop offset="0.832" stop-color="#0001ff"/><stop offset="0.891" stop-color="#0000b9"/><stop offset="0.950" stop-color="#00009d"/><stop offset="1.000" stop-color="#00009d"/></linearGradient><linearGradient id="d2"><stop offset="0.000" stop-color="#fffb00"/><stop offset="0.059" stop-color="#fffe00"/><stop offset="0.151" stop-color="#b5ff4a"/><stop offset="0.286" stop-color="#6cff93"/><stop offset="0.387" stop-color="#2fffd0"/><stop offset="0.496" stop-color="#00fdff"/><stop offset="0.605" stop-color="#00b1ff"/><stop offset="0.697" stop-color="#0079ff"/><stop offset="0.832" stop-color="#0000fe"/><stop offset="0.891" stop-color="#0000ba"/><stop offset="0.950" stop-color="#00009d"/><stop offset="1.000" stop-color="#00009d"/></linearGradient><linearGradient id="d3"><stop offset="0.000" stop-color="#ddff22"/><stop offset="0.042" stop-color="#ddff22"/><stop offset="0.261" stop-color="#55ffaa"/><stop offset="0.395" stop-color="#00ffff"/><stop offset="0.504" stop-color="#00baff"/><stop offset="0.672" stop-color="#003eff"/><stop offset="0.773" stop-color="#0000fe"/><stop offset="0.941" stop-color="#00009f"/><stop offset="1.000" stop-color="#00009d"/></linearGradient><linearGradient id="d4"><stop offset="0.000" stop-color="#d7ff28"/><stop offset="0.042" stop-color="#d6ff29"/><stop offset="0.227" stop-color="#66ff99"/><stop offset="0.378" stop-color="#03fffc"/><stop offset="0.429" stop-color="#00e3ff"/><stop offset="0.513" stop-color="#00aaff"/><stop offset="0.672" stop-color="#0033ff"/><stop offset="0.756" stop-color="#0001ff"/><stop offset="0.950" stop-color="#00009d"/><stop offset="1.000" stop-color="#00009d"/></linearGradient><linearGradient id="d5"><stop offset="0.000" stop-color="#d3ff2c"/><stop offset="0.034" stop-color="#d3ff2c"/><stop offset="0.210" stop-color="#69ff96"/><stop offset="0.336" stop-color="#15ffea"/><stop offset="0.370" stop-color="#00ffff"/><stop offset="0.496" stop-color="#00acff"/><stop offset="0.655" stop-color="#0035ff"/><stop offset="0.748" stop-color="#0000fd"/><stop offset="0.916" stop-color="#0000a7"/><stop offset="0.950" stop-color="#00009d"/><stop offset="1.000" stop-color="#00009f"/></linearGradient><linearGradient id="d6"><stop offset="0.000" stop-color="#ceff31"/><stop offset="0.034" stop-color="#ccff33"/><stop offset="0.193" stop-color="#6bff94"/><stop offset="0.303" stop-color="#20ffdf"/><stop offset="0.353" stop-color="#01fffe"/><stop offset="0.487" stop-color="#00a8ff"/><stop offset="0.647" stop-color="#0033ff"/><stop offset="0.731" stop-color="#0000ff"/><stop offset="0.899" stop-color="#0000a7"/><stop offset="0.958" stop-color="#00009d"/><stop offset="1.000" stop-color="#0000a1"/></linearGradient><linearGradient id="d7"><stop offset="0.000" stop-color="#caff35"/><stop offset="0.034" stop-color="#c4ff3b"/><stop offset="0.176" stop-color="#6dff92"/><stop offset="0.269" stop-color="#2bffd4"/><stop offset="0.345" stop-color="#00fcff"/><stop offset="0.504" stop-color="#0091ff"/><stop offset="0.647" stop-color="#002bff"/><stop offset="0.723" stop-color="#0000fc"/><stop offset="0.891" stop-color="#0000a3"/><stop offset="0.958" stop-color="#00009d"/><stop offset="1.000" stop-color="#0000a3"/></linearGradient><linearGradient id="d8"><stop offset="0.000" stop-color="#c6ff39"/><stop offset="0.034" stop-color="#bcff43"/><stop offset="0.160" stop-color="#70ff8f"/><stop offset="0.252" stop-color="#2bffd4"/><stop offset="0.328" stop-color="#00fdff"/><stop offset="0.538" stop-color="#0070ff"/><stop offset="0.630" stop-color="#002dff"/><stop offset="0.706" stop-color="#0000fe"/><stop offset="0.874" stop-color="#0000a1"/><stop offset="0.966" stop-color="#00009d"/><stop offset="1.000" stop-color="#0000a5"/></linearGradient><linearGradient id="d9"><stop offset="0.000" stop-color="#c1ff3e"/><stop offset="0.042" stop-color="#afff50"/><stop offset="0.143" stop-color="#72ff8d"/><stop offset="0.227" stop-color="#31ffce"/><stop offset="0.311" stop-color="#00feff"/><stop offset="0.538" stop-color="#0066ff"/><stop offset="0.630" stop-color="#0025ff"/><stop offset="0.689" stop-color="#0000ff"/><stop offset="0.866" stop-color="#00009e"/><stop offset="0.975" stop-color="#00009f"/><stop offset="1.000" stop-color="#0000a7"/></linearGradient><linearGradient id="d10"><stop offset="0.000" stop-color="#bdff42"/><stop offset="0.118" stop-color="#7cff83"/><stop offset="0.210" stop-color="#31ffce"/><stop offset="0.294" stop-color="#01fffe"/><stop offset="0.513" stop-color="#0070ff"/><stop offset="0.605" stop-color="#002cff"/><stop offset="0.681" stop-color="#0000fc"/><stop offset="0.849" stop-color="#00009e"/><stop offset="0.966" stop-color="#00009d"/><stop offset="1.000" stop-color="#0000aa"/></linearGradient><linearGradient id="d11"><stop offset="0.000" stop-color="#b7ff48"/><stop offset="0.109" stop-color="#76ff89"/><stop offset="0.193" stop-color="#32ffcd"/><stop offset="0.286" stop-color="#00fcff"/><stop offset="0.504" stop-color="#006dff"/><stop offset="0.588" stop-color="#002fff"/><stop offset="0.664" stop-color="#0000fd"/><stop offset="0.824" stop-color="#0000a2"/><stop offset="0.857" stop-color="#00009d"/><stop offset="0.966" stop-color="#00009e"/><stop offset="1.000" stop-color="#0000ae"/></linearGradient><linearGradient id="d12"><stop offset="0.000" stop-color="#adff52"/><stop offset="0.092" stop-color="#76ff89"/><stop offset="0.176" stop-color="#34ffcb"/><stop offset="0.269" stop-color="#01fffe"/><stop offset="0.403" stop-color="#00a7ff"/><stop offset="0.496" stop-color="#006cff"/><stop offset="0.605" stop-color="#001aff"/><stop offset="0.647" stop-color="#0000fd"/><stop offset="0.798" stop-color="#0000a6"/><stop offset="0.832" stop-color="#00009d"/><stop offset="0.950" stop-color="#00009d"/><stop offset="1.000" stop-color="#0000b8"/></linearGradient><linearGradient id="d13"><stop offset="0.000" stop-color="#a3ff5c"/><stop offset="0.092" stop-color="#68ff97"/><stop offset="0.168" stop-color="#32ffcd"/><stop offset="0.261" stop-color="#00ffff"/><stop offset="0.319" stop-color="#00d4ff"/><stop offset="0.370" stop-color="#00b2ff"/><stop offset="0.479" stop-color="#0071ff"/><stop offset="0.622" stop-color="#0003ff"/><stop offset="0.790" stop-color="#0000a0"/><stop offset="0.891" stop-color="#00009d"/><stop offset="0.950" stop-color="#00009d"/><stop offset="1.000" stop-color="#0000c2"/></linearGradient><linearGradient id="d14"><stop offset="0.000" stop-color="#9aff65"/><stop offset="0.143" stop-color="#39ffc6"/><stop offset="0.252" stop-color="#00ffff"/><stop offset="0.336" stop-color="#00bcff"/><stop offset="0.462" stop-color="#0077ff"/><stop offset="0.605" stop-color="#0003ff"/><stop offset="0.773" stop-color="#00009f"/><stop offset="0.950" stop-color="#00009e"/><stop offset="1.000" stop-color="#0000cb"/></linearGradient><linearGradient id="d15"><stop offset="0.000" stop-color="#90ff6f"/><stop offset="0.118" stop-color="#3fffc0"/><stop offset="0.244" stop-color="#00ffff"/><stop offset="0.319" stop-color="#00bdff"/><stop offset="0.445" stop-color="#007cff"/><stop offset="0.588" stop-color="#0003ff"/><stop offset="0.739" stop-color="#0000a7"/><stop offset="0.765" stop-color="#00009d"/><stop offset="0.941" stop-color="#00009d"/><stop offset="0.958" stop-color="#0000aa"/><stop offset="1.000" stop-color="#0000d5"/></linearGradient><linearGradient id="d16"><stop offset="0.000" stop-color="#8bff74"/><stop offset="0.118" stop-color="#3bffc4"/><stop offset="0.235" stop-color="#00fcff"/><stop offset="0.303" stop-color="#00c4ff"/><stop offset="0.437" stop-color="#007bff"/><stop offset="0.580" stop-color="#0002ff"/><stop offset="0.723" stop-color="#0000ac"/><stop offset="0.756" stop-color="#0000a0"/><stop offset="0.891" stop-color="#00009e"/><stop offset="0.941" stop-color="#0000a5"/><stop offset="0.992" stop-color="#0000da"/><stop offset="1.000" stop-color="#0000e4"/></linearGradient><linearGradient id="d17"><stop offset="0.000" stop-color="#88ff77"/><stop offset="0.118" stop-color="#35ffca"/><stop offset="0.218" stop-color="#00ffff"/><stop offset="0.294" stop-color="#00c7ff"/><stop offset="0.420" stop-color="#0080ff"/><stop offset="0.571" stop-color="#0002ff"/><stop offset="0.723" stop-color="#0000aa"/><stop offset="0.790" stop-color="#00009d"/><stop offset="0.882" stop-color="#00009f"/><stop offset="0.941" stop-color="#0000b2"/><stop offset="0.983" stop-color="#0000dc"/><stop offset="1.000" stop-color="#0000f5"/></linearGradient><linearGradient id="d18"><stop offset="0.000" stop-color="#85ff7a"/><stop offset="0.109" stop-color="#32ffcd"/><stop offset="0.210" stop-color="#00fcff"/><stop offset="0.294" stop-color="#00c6ff"/><stop offset="0.420" stop-color="#0079ff"/><stop offset="0.546" stop-color="#0010ff"/><stop offset="0.563" stop-color="#0002ff"/><stop offset="0.723" stop-color="#0000a9"/><stop offset="0.773" stop-color="#00009d"/><stop offset="0.866" stop-color="#00009e"/><stop offset="0.933" stop-color="#0000b9"/><stop offset="0.975" stop-color="#0000de"/><stop offset="0.992" stop-color="#0000f7"/><stop offset="1.000" stop-color="#0006ff"/></linearGradient><linearGradient id="d19"><stop offset="0.000" stop-color="#82ff7d"/><stop offset="0.101" stop-color="#31ffce"/><stop offset="0.193" stop-color="#01fffe"/><stop offset="0.412" stop-color="#0079ff"/><stop offset="0.513" stop-color="#0027ff"/><stop offset="0.555" stop-color="#0000ff"/><stop offset="0.739" stop-color="#00009f"/><stop offset="0.849" stop-color="#00009d"/><stop offset="0.933" stop-color="#0000c7"/><stop offset="0.975" stop-color="#0000e9"/><stop offset="0.983" stop-color="#0000f5"/><stop offset="0.992" stop-color="#0007ff"/><stop offset="1.000" stop-color="#0017ff"/></linearGradient><linearGradient id="d20"><stop offset="0.000" stop-color="#7cff83"/><stop offset="0.084" stop-color="#34ffcb"/><stop offset="0.185" stop-color="#00ffff"/><stop offset="0.378" stop-color="#008aff"/><stop offset="0.487" stop-color="#0035ff"/><stop offset="0.546" stop-color="#0000fe"/><stop offset="0.731" stop-color="#00009d"/><stop offset="0.832" stop-color="#00009e"/><stop offset="0.933" stop-color="#0000d2"/><stop offset="0.975" stop-color="#0000f3"/><stop offset="0.983" stop-color="#0000ff"/><stop offset="1.000" stop-color="#0021ff"/></linearGradient><linearGradient id="d21"><stop offset="0.000" stop-color="#73ff8c"/><stop offset="0.076" stop-color="#34ffcb"/><stop offset="0.176" stop-color="#00feff"/><stop offset="0.353" stop-color="#0093ff"/><stop offset="0.479" stop-color="#0031ff"/><stop offset="0.529" stop-color="#0004ff"/><stop offset="0.555" stop-color="#0000f5"/><stop offset="0.714" stop-color="#00009d"/><stop offset="0.815" stop-color="#0000a1"/><stop offset="0.933" stop-color="#0000db"/><stop offset="0.975" stop-color="#0000fa"/><stop offset="0.983" stop-color="#0005ff"/><stop offset="1.000" stop-color="#0021ff"/></linearGradient><linearGradient id="d22"><stop offset="0.000" stop-color="#6bff94"/><stop offset="0.067" stop-color="#34ffcb"/><stop offset="0.168" stop-color="#00fdff"/><stop offset="0.328" stop-color="#009cff"/><stop offset="0.462" stop-color="#0035ff"/><stop offset="0.521" stop-color="#0004ff"/><stop offset="0.546" stop-color="#0000f4"/><stop offset="0.697" stop-color="#00009d"/><stop offset="0.782" stop-color="#0000a1"/><stop offset="0.824" stop-color="#0000b0"/><stop offset="0.933" stop-color="#0000e4"/><stop offset="0.975" stop-color="#0002ff"/><stop offset="1.000" stop-color="#0021ff"/></linearGradient><linearGradient id="d23"><stop offset="0.000" stop-color="#62ff9d"/><stop offset="0.059" stop-color="#34ffcb"/><stop offset="0.160" stop-color="#00fcff"/><stop offset="0.311" stop-color="#00a0ff"/><stop offset="0.454" stop-color="#0031ff"/><stop offset="0.513" stop-color="#0004ff"/><stop offset="0.546" stop-color="#0000ee"/><stop offset="0.681" stop-color="#00009e"/><stop offset="0.756" stop-color="#0000a0"/><stop offset="0.807" stop-color="#0000b2"/><stop offset="0.933" stop-color="#0000ec"/><stop offset="0.966" stop-color="#0003ff"/><stop offset="1.000" stop-color="#0021ff"/></linearGradient><linearGradient id="d24"><stop offset="0.000" stop-color="#59ffa6"/><stop offset="0.059" stop-color="#2fffd0"/><stop offset="0.143" stop-color="#01fffe"/><stop offset="0.286" stop-color="#00aaff"/><stop offset="0.471" stop-color="#001aff"/><stop offset="0.513" stop-color="#0000fd"/><stop offset="0.672" stop-color="#00009d"/><stop offset="0.739" stop-color="#0000a0"/><stop offset="0.933" stop-color="#0000f4"/><stop offset="0.950" stop-color="#0000ff"/><stop offset="1.000" stop-color="#0021ff"/></linearGradient><linearGradient id="d25"><stop offset="0.000" stop-color="#50ffaf"/><stop offset="0.084" stop-color="#1dffe2"/><stop offset="0.134" stop-color="#00ffff"/><stop offset="0.269" stop-color="#00afff"/><stop offset="0.496" stop-color="#0002ff"/><stop offset="0.655" stop-color="#00009d"/><stop offset="0.714" stop-color="#00009d"/><stop offset="0.857" stop-color="#0000dc"/><stop offset="0.924" stop-color="#0000f7"/><stop offset="0.950" stop-color="#0007ff"/><stop offset="0.992" stop-color="#001eff"/><stop offset="1.000" stop-color="#0021ff"/></linearGradient><linearGradient id="d26"><stop offset="0.000" stop-color="#48ffb7"/><stop offset="0.126" stop-color="#00ffff"/><stop offset="0.252" stop-color="#00b3ff"/><stop offset="0.487" stop-color="#0000ff"/><stop offset="0.639" stop-color="#00009d"/><stop offset="0.697" stop-color="#00009d"/><stop offset="0.798" stop-color="#0000cd"/><stop offset="0.916" stop-color="#0000f9"/><stop offset="0.933" stop-color="#0004ff"/><stop offset="0.975" stop-color="#001eff"/><stop offset="1.000" stop-color="#0021ff"/></linearGradient><linearGradient id="d27"><stop offset="0.000" stop-color="#41ffbe"/><stop offset="0.118" stop-color="#00fdff"/><stop offset="0.235" stop-color="#00b8ff"/><stop offset="0.471" stop-color="#0005ff"/><stop offset="0.487" stop-color="#0000f9"/><stop offset="0.622" stop-color="#00009f"/><stop offset="0.689" stop-color="#0000a1"/><stop offset="0.790" stop-color="#0000d1"/><stop offset="0.916" stop-color="#0000fe"/><stop offset="0.975" stop-color="#0022ff"/><stop offset="1.000" stop-color="#0024ff"/></linearGradient><linearGradient id="d28"><stop offset="0.000" stop-color="#3affc5"/><stop offset="0.109" stop-color="#00fcff"/><stop offset="0.227" stop-color="#00b7ff"/><stop offset="0.462" stop-color="#0004ff"/><stop offset="0.487" stop-color="#0000f2"/><stop offset="0.605" stop-color="#0000a4"/><stop offset="0.664" stop-color="#0000a0"/><stop offset="0.782" stop-color="#0000d3"/><stop offset="0.916" stop-color="#0003ff"/><stop offset="0.983" stop-color="#0026ff"/><stop offset="1.000" stop-color="#0028ff"/></linearGradient><linearGradient id="d29"><stop offset="0.000" stop-color="#33ffcc"/><stop offset="0.092" stop-color="#01fffe"/><stop offset="0.210" stop-color="#00bcff"/><stop offset="0.454" stop-color="#0004ff"/><stop offset="0.487" stop-color="#0000ec"/><stop offset="0.597" stop-color="#0000a6"/><stop offset="0.655" stop-color="#0000a4"/><stop offset="0.782" stop-color="#0000d9"/><stop offset="0.899" stop-color="#0000ff"/><stop offset="0.983" stop-color="#002aff"/><stop offset="1.000" stop-color="#002dff"/></linearGradient><linearGradient id="d30"><stop offset="0.000" stop-color="#2dffd2"/><stop offset="0.084" stop-color="#00ffff"/><stop offset="0.210" stop-color="#00b6ff"/><stop offset="0.445" stop-color="#0003ff"/><stop offset="0.588" stop-color="#0000a6"/><stop offset="0.639" stop-color="#0000a6"/><stop offset="0.798" stop-color="#0000e4"/><stop offset="0.891" stop-color="#0001ff"/><stop offset="0.924" stop-color="#000eff"/><stop offset="0.983" stop-color="#002dff"/><stop offset="1.000" stop-color="#0031ff"/></linearGradient><linearGradient id="d31"><stop offset="0.000" stop-color="#26ffd9"/><stop offset="0.076" stop-color="#00ffff"/><stop offset="0.202" stop-color="#00b5ff"/><stop offset="0.437" stop-color="#0002ff"/><stop offset="0.571" stop-color="#0000a9"/><stop offset="0.622" stop-color="#0000a8"/><stop offset="0.849" stop-color="#0000f9"/><stop offset="0.899" stop-color="#0004ff"/><stop offset="0.983" stop-color="#0030ff"/><stop offset="1.000" stop-color="#0035ff"/></linearGradient><linearGradient id="d32"><stop offset="0.000" stop-color="#20ffdf"/><stop offset="0.067" stop-color="#00ffff"/><stop offset="0.193" stop-color="#00b5ff"/><stop offset="0.429" stop-color="#0001ff"/><stop offset="0.563" stop-color="#0000a9"/><stop offset="0.613" stop-color="#0000ad"/><stop offset="0.832" stop-color="#0000f8"/><stop offset="0.891" stop-color="#0003ff"/><stop offset="0.992" stop-color="#0037ff"/><stop offset="1.000" stop-color="#003aff"/></linearGradient><linearGradient id="d33"><stop offset="0.000" stop-color="#19ffe6"/><stop offset="0.059" stop-color="#00ffff"/><stop offset="0.176" stop-color="#00baff"/><stop offset="0.420" stop-color="#0000ff"/><stop offset="0.546" stop-color="#0000ab"/><stop offset="0.597" stop-color="#0000af"/><stop offset="0.807" stop-color="#0000f6"/><stop offset="0.882" stop-color="#0001ff"/><stop offset="1.000" stop-color="#003eff"/></linearGradient><linearGradient id="d34"><stop offset="0.000" stop-color="#13ffec"/><stop offset="0.042" stop-color="#00ffff"/><stop offset="0.160" stop-color="#00bcff"/><stop offset="0.403" stop-color="#0004ff"/><stop offset="0.429" stop-color="#0000f3"/><stop offset="0.529" stop-color="#0000b1"/><stop offset="0.580" stop-color="#0000b3"/><stop offset="0.790" stop-color="#0000f9"/><stop offset="0.866" stop-color="#0005ff"/><stop offset="1.000" stop-color="#0040ff"/></linearGradient><linearGradient id="d35"><stop offset="0.000" stop-color="#0cfff3"/><stop offset="0.034" stop-color="#00fcff"/><stop offset="0.151" stop-color="#00b8ff"/><stop offset="0.395" stop-color="#0003ff"/><stop offset="0.462" stop-color="#0000d7"/><stop offset="0.513" stop-color="#0000b6"/><stop offset="0.563" stop-color="#0000b7"/><stop offset="0.782" stop-color="#0000fe"/><stop offset="0.857" stop-color="#000dff"/><stop offset="1.000" stop-color="#0041ff"/></linearGradient><linearGradient id="d36"><stop offset="0.000" stop-color="#05fffa"/><stop offset="0.034" stop-color="#00f6ff"/><stop offset="0.143" stop-color="#00b4ff"/><stop offset="0.370" stop-color="#000dff"/><stop offset="0.395" stop-color="#0000fc"/><stop offset="0.496" stop-color="#0000bc"/><stop offset="0.546" stop-color="#0000bc"/><stop offset="0.748" stop-color="#0000fe"/><stop offset="0.840" stop-color="#0010ff"/><stop offset="0.941" stop-color="#0031ff"/><stop offset="1.000" stop-color="#0043ff"/></linearGradient><linearGradient id="d37"><stop offset="0.000" stop-color="#00feff"/><stop offset="0.084" stop-color="#00d2ff"/><stop offset="0.269" stop-color="#004dff"/><stop offset="0.378" stop-color="#0002ff"/><stop offset="0.479" stop-color="#0000c1"/><stop offset="0.538" stop-color="#0000c2"/><stop offset="0.714" stop-color="#0000fd"/><stop offset="0.832" stop-color="#0017ff"/><stop offset="0.916" stop-color="#0031ff"/><stop offset="1.000" stop-color="#0045ff"/></linearGradient><linearGradient id="d38"><stop offset="0.000" stop-color="#00f7ff"/><stop offset="0.092" stop-color="#00c5ff"/><stop offset="0.261" stop-color="#004aff"/><stop offset="0.370" stop-color="#0001ff"/><stop offset="0.462" stop-color="#0000c6"/><stop offset="0.521" stop-color="#0000c6"/><stop offset="0.672" stop-color="#0000f9"/><stop offset="0.723" stop-color="#0008ff"/><stop offset="0.824" stop-color="#001eff"/><stop offset="0.899" stop-color="#0034ff"/><stop offset="1.000" stop-color="#0046ff"/></linearGradient><linearGradient id="d39"><stop offset="0.000" stop-color="#00f1ff"/><stop offset="0.109" stop-color="#00b0ff"/><stop offset="0.235" stop-color="#0055ff"/><stop offset="0.319" stop-color="#001aff"/><stop offset="0.361" stop-color="#0001ff"/><stop offset="0.445" stop-color="#0000cb"/><stop offset="0.504" stop-color="#0000ca"/><stop offset="0.647" stop-color="#0000fb"/><stop offset="0.706" stop-color="#000bff"/><stop offset="0.815" stop-color="#0024ff"/><stop offset="0.891" stop-color="#0039ff"/><stop offset="1.000" stop-color="#0048ff"/></linearGradient><linearGradient id="d40"><stop offset="0.000" stop-color="#00eaff"/><stop offset="0.126" stop-color="#009cff"/><stop offset="0.218" stop-color="#0059ff"/><stop offset="0.286" stop-color="#0029ff"/><stop offset="0.353" stop-color="#0001ff"/><stop offset="0.429" stop-color="#0000cf"/><stop offset="0.496" stop-color="#0000d1"/><stop offset="0.622" stop-color="#0000fd"/><stop offset="0.815" stop-color="#002cff"/><stop offset="0.882" stop-color="#003cff"/><stop offset="1.000" stop-color="#0049ff"/></linearGradient><linearGradient id="d41"><stop offset="0.000" stop-color="#00e4ff"/><stop offset="0.176" stop-color="#0071ff"/><stop offset="0.261" stop-color="#0032ff"/><stop offset="0.345" stop-color="#0000ff"/><stop offset="0.412" stop-color="#0000d3"/><stop offset="0.479" stop-color="#0000d5"/><stop offset="0.597" stop-color="#0000ff"/><stop offset="0.874" stop-color="#003fff"/><stop offset="1.000" stop-color="#004bff"/></linearGradient><linearGradient id="d42"><stop offset="0.000" stop-color="#00ddff"/><stop offset="0.168" stop-color="#006eff"/><stop offset="0.244" stop-color="#0036ff"/><stop offset="0.336" stop-color="#0000ff"/><stop offset="0.395" stop-color="#0000d9"/><stop offset="0.462" stop-color="#0000d9"/><stop offset="0.563" stop-color="#0001ff"/><stop offset="0.857" stop-color="#0041ff"/><stop offset="1.000" stop-color="#004fff"/></linearGradient><linearGradient id="d43"><stop offset="0.000" stop-color="#00d8ff"/><stop offset="0.118" stop-color="#008dff"/><stop offset="0.227" stop-color="#003fff"/><stop offset="0.328" stop-color="#0000ff"/><stop offset="0.387" stop-color="#0000de"/><stop offset="0.454" stop-color="#0000e2"/><stop offset="0.538" stop-color="#0001ff"/><stop offset="0.849" stop-color="#0046ff"/><stop offset="1.000" stop-color="#005cff"/></linearGradient><linearGradient id="d44"><stop offset="0.000" stop-color="#00d4ff"/><stop offset="0.101" stop-color="#0092ff"/><stop offset="0.218" stop-color="#0044ff"/><stop offset="0.319" stop-color="#0000ff"/><stop offset="0.370" stop-color="#0000e4"/><stop offset="0.437" stop-color="#0000e7"/><stop offset="0.513" stop-color="#0002ff"/><stop offset="0.840" stop-color="#004cff"/><stop offset="1.000" stop-color="#0069ff"/></linearGradient><linearGradient id="d45"><stop offset="0.000" stop-color="#00cfff"/><stop offset="0.261" stop-color="#0025ff"/><stop offset="0.311" stop-color="#0001ff"/><stop offset="0.361" stop-color="#0000ea"/><stop offset="0.420" stop-color="#0000ec"/><stop offset="0.487" stop-color="#0003ff"/><stop offset="0.807" stop-color="#004eff"/><stop offset="1.000" stop-color="#0076ff"/></linearGradient><linearGradient id="d46"><stop offset="0.000" stop-color="#00caff"/><stop offset="0.218" stop-color="#003fff"/><stop offset="0.294" stop-color="#0007ff"/><stop offset="0.319" stop-color="#0000f9"/><stop offset="0.353" stop-color="#0000f0"/><stop offset="0.412" stop-color="#0000f3"/><stop offset="0.462" stop-color="#0004ff"/><stop offset="0.655" stop-color="#0033ff"/><stop offset="0.958" stop-color="#0079ff"/><stop offset="1.000" stop-color="#0083ff"/></linearGradient><linearGradient id="d47"><stop offset="0.000" stop-color="#00c5ff"/><stop offset="0.193" stop-color="#004fff"/><stop offset="0.277" stop-color="#000cff"/><stop offset="0.311" stop-color="#0000fc"/><stop offset="0.353" stop-color="#0000f5"/><stop offset="0.403" stop-color="#0000fa"/><stop offset="0.445" stop-color="#0008ff"/><stop offset="0.941" stop-color="#007fff"/><stop offset="1.000" stop-color="#0090ff"/></linearGradient><linearGradient id="d48"><stop offset="0.000" stop-color="#00c0ff"/><stop offset="0.176" stop-color="#0058ff"/><stop offset="0.261" stop-color="#0012ff"/><stop offset="0.311" stop-color="#0000fd"/><stop offset="0.395" stop-color="#0003ff"/><stop offset="0.605" stop-color="#0037ff"/><stop offset="0.933" stop-color="#0087ff"/><stop offset="1.000" stop-color="#009dff"/></linearGradient><linearGradient id="d49"><stop offset="0.000" stop-color="#00bbff"/><stop offset="0.160" stop-color="#0061ff"/><stop offset="0.244" stop-color="#0017ff"/><stop offset="0.303" stop-color="#0002ff"/><stop offset="0.370" stop-color="#0005ff"/><stop offset="0.891" stop-color="#0086ff"/><stop offset="1.000" stop-color="#00abff"/></linearGradient><linearGradient id="d50"><stop offset="0.000" stop-color="#00b6ff"/><stop offset="0.134" stop-color="#0072ff"/><stop offset="0.227" stop-color="#001dff"/><stop offset="0.294" stop-color="#0008ff"/><stop offset="0.361" stop-color="#000cff"/><stop offset="0.765" stop-color="#006fff"/><stop offset="0.958" stop-color="#00a8ff"/><stop offset="1.000" stop-color="#00b8ff"/></linearGradient><linearGradient id="d51"><stop offset="0.000" stop-color="#00b1ff"/><stop offset="0.126" stop-color="#0072ff"/><stop offset="0.210" stop-color="#0022ff"/><stop offset="0.277" stop-color="#000eff"/><stop offset="0.345" stop-color="#0010ff"/><stop offset="0.731" stop-color="#006eff"/><stop offset="0.958" stop-color="#00b3ff"/><stop offset="1.000" stop-color="#00c3ff"/></linearGradient><linearGradient id="d52"><stop offset="0.000" stop-color="#00acff"/><stop offset="0.109" stop-color="#0076ff"/><stop offset="0.193" stop-color="#002aff"/><stop offset="0.261" stop-color="#0012ff"/><stop offset="0.328" stop-color="#0012ff"/><stop offset="0.723" stop-color="#0071ff"/><stop offset="0.950" stop-color="#00b7ff"/><stop offset="1.000" stop-color="#00caff"/></linearGradient><linearGradient id="d53"><stop offset="0.000" stop-color="#00a7ff"/><stop offset="0.101" stop-color="#0073ff"/><stop offset="0.185" stop-color="#002eff"/><stop offset="0.252" stop-color="#0015ff"/><stop offset="0.311" stop-color="#0014ff"/><stop offset="0.723" stop-color="#0076ff"/><stop offset="0.941" stop-color="#00baff"/><stop offset="1.000" stop-color="#00d2ff"/></linearGradient><linearGradient id="d54"><stop offset="0.000" stop-color="#00a2ff"/><stop offset="0.084" stop-color="#0077ff"/><stop offset="0.168" stop-color="#0035ff"/><stop offset="0.244" stop-color="#0017ff"/><stop offset="0.303" stop-color="#0017ff"/><stop offset="0.723" stop-color="#007bff"/><stop offset="0.924" stop-color="#00baff"/><stop offset="1.000" stop-color="#00d9ff"/></linearGradient><linearGradient id="d55"><stop offset="0.000" stop-color="#009dff"/><stop offset="0.076" stop-color="#0076ff"/><stop offset="0.160" stop-color="#0039ff"/><stop offset="0.227" stop-color="#001aff"/><stop offset="0.269" stop-color="#0017ff"/><stop offset="0.714" stop-color="#007eff"/><stop offset="0.924" stop-color="#00c1ff"/><stop offset="1.000" stop-color="#00e0ff"/></linearGradient><linearGradient id="d56"><stop offset="0.000" stop-color="#0099ff"/><stop offset="0.067" stop-color="#0077ff"/><stop offset="0.151" stop-color="#003bff"/><stop offset="0.218" stop-color="#001bff"/><stop offset="0.286" stop-color="#001dff"/><stop offset="0.739" stop-color="#008bff"/><stop offset="0.924" stop-color="#00c8ff"/><stop offset="1.000" stop-color="#00e7ff"/></linearGradient><linearGradient id="d57"><stop offset="0.000" stop-color="#0094ff"/><stop offset="0.067" stop-color="#0071ff"/><stop offset="0.160" stop-color="#0033ff"/><stop offset="0.210" stop-color="#001bff"/><stop offset="0.294" stop-color="#0025ff"/><stop offset="0.723" stop-color="#008cff"/><stop offset="0.916" stop-color="#00cbff"/><stop offset="1.000" stop-color="#00eeff"/></linearGradient><linearGradient id="d58"><stop offset="0.000" stop-color="#008fff"/><stop offset="0.067" stop-color="#006cff"/><stop offset="0.185" stop-color="#0022ff"/><stop offset="0.202" stop-color="#001dff"/><stop offset="0.277" stop-color="#0026ff"/><stop offset="0.706" stop-color="#008cff"/><stop offset="0.908" stop-color="#00cfff"/><stop offset="1.000" stop-color="#00f6ff"/></linearGradient><linearGradient id="d59"><stop offset="0.000" stop-color="#008aff"/><stop offset="0.076" stop-color="#0063ff"/><stop offset="0.176" stop-color="#0020ff"/><stop offset="0.252" stop-color="#0026ff"/><stop offset="0.689" stop-color="#008dff"/><stop offset="0.899" stop-color="#00d2ff"/><stop offset="1.000" stop-color="#00fdff"/></linearGradient><linearGradient id="d60"><stop offset="0.000" stop-color="#0086ff"/><stop offset="0.067" stop-color="#0064ff"/><stop offset="0.160" stop-color="#0025ff"/><stop offset="0.235" stop-color="#0028ff"/><stop offset="0.580" stop-color="#007aff"/><stop offset="0.765" stop-color="#00adff"/><stop offset="0.958" stop-color="#00f2ff"/><stop offset="0.992" stop-color="#02fffd"/><stop offset="1.000" stop-color="#05fffa"/></linearGradient><linearGradient id="d61"><stop offset="0.000" stop-color="#0084ff"/><stop offset="0.067" stop-color="#0060ff"/><stop offset="0.151" stop-color="#002bff"/><stop offset="0.218" stop-color="#002cff"/><stop offset="0.487" stop-color="#0073ff"/><stop offset="0.681" stop-color="#00a1ff"/><stop offset="0.958" stop-color="#00fbff"/><stop offset="1.000" stop-color="#0dfff2"/></linearGradient><linearGradient id="d62"><stop offset="0.000" stop-color="#0082ff"/><stop offset="0.059" stop-color="#0062ff"/><stop offset="0.134" stop-color="#0032ff"/><stop offset="0.202" stop-color="#002fff"/><stop offset="0.269" stop-color="#0043ff"/><stop offset="0.445" stop-color="#0077ff"/><stop offset="0.672" stop-color="#00adff"/><stop offset="0.950" stop-color="#00ffff"/><stop offset="1.000" stop-color="#15ffea"/></linearGradient><linearGradient id="d63"><stop offset="0.000" stop-color="#007fff"/><stop offset="0.067" stop-color="#0058ff"/><stop offset="0.118" stop-color="#0039ff"/><stop offset="0.185" stop-color="#0033ff"/><stop offset="0.252" stop-color="#0047ff"/><stop offset="0.412" stop-color="#007cff"/><stop offset="0.672" stop-color="#00baff"/><stop offset="0.933" stop-color="#02fffd"/><stop offset="1.000" stop-color="#1dffe2"/></linearGradient><linearGradient id="d64"><stop offset="0.000" stop-color="#007dff"/><stop offset="0.101" stop-color="#0041ff"/><stop offset="0.168" stop-color="#0037ff"/><stop offset="0.227" stop-color="#0046ff"/><stop offset="0.277" stop-color="#005dff"/><stop offset="0.395" stop-color="#0085ff"/><stop offset="0.689" stop-color="#00cdff"/><stop offset="0.899" stop-color="#03fffc"/><stop offset="0.975" stop-color="#1bffe4"/><stop offset="1.000" stop-color="#25ffda"/></linearGradient><linearGradient id="d65"><stop offset="0.000" stop-color="#007bff"/><stop offset="0.092" stop-color="#0046ff"/><stop offset="0.143" stop-color="#0039ff"/><stop offset="0.210" stop-color="#0049ff"/><stop offset="0.244" stop-color="#005dff"/><stop offset="0.378" stop-color="#008eff"/><stop offset="0.689" stop-color="#00dbff"/><stop offset="0.857" stop-color="#02fffd"/><stop offset="0.950" stop-color="#19ffe6"/><stop offset="1.000" stop-color="#2dffd2"/></linearGradient><linearGradient id="d66"><stop offset="0.000" stop-color="#0079ff"/><stop offset="0.076" stop-color="#004dff"/><stop offset="0.126" stop-color="#003dff"/><stop offset="0.193" stop-color="#004cff"/><stop offset="0.227" stop-color="#0062ff"/><stop offset="0.353" stop-color="#0096ff"/><stop offset="0.689" stop-color="#00e8ff"/><stop offset="0.824" stop-color="#02fffd"/><stop offset="0.941" stop-color="#1effe1"/><stop offset="1.000" stop-color="#35ffca"/></linearGradient><linearGradient id="d67"><stop offset="0.000" stop-color="#0078ff"/><stop offset="0.067" stop-color="#0054ff"/><stop offset="0.118" stop-color="#0046ff"/><stop offset="0.176" stop-color="#0051ff"/><stop offset="0.235" stop-color="#0071ff"/><stop offset="0.353" stop-color="#009eff"/><stop offset="0.731" stop-color="#00f6ff"/><stop offset="0.807" stop-color="#03fffc"/><stop offset="0.941" stop-color="#22ffdd"/><stop offset="1.000" stop-color="#3bffc4"/></linearGradient><linearGradient id="d68"><stop offset="0.000" stop-color="#0078ff"/><stop offset="0.076" stop-color="#0055ff"/><stop offset="0.134" stop-color="#004cff"/><stop offset="0.269" stop-color="#0087ff"/><stop offset="0.378" stop-color="#00aaff"/><stop offset="0.731" stop-color="#00f9ff"/><stop offset="0.807" stop-color="#06fff9"/><stop offset="0.933" stop-color="#22ffdd"/><stop offset="1.000" stop-color="#42ffbd"/></linearGradient><linearGradient id="d69"><stop offset="0.000" stop-color="#0078ff"/><stop offset="0.076" stop-color="#0058ff"/><stop offset="0.126" stop-color="#004eff"/><stop offset="0.244" stop-color="#0082ff"/><stop offset="0.361" stop-color="#00aaff"/><stop offset="0.731" stop-color="#00fbff"/><stop offset="0.807" stop-color="#07fff8"/><stop offset="0.933" stop-color="#23ffdc"/><stop offset="1.000" stop-color="#45ffba"/></linearGradient><linearGradient id="d70"><stop offset="0.000" stop-color="#0078ff"/><stop offset="0.076" stop-color="#0058ff"/><stop offset="0.126" stop-color="#004eff"/><stop offset="0.244" stop-color="#0082ff"/><stop offset="0.361" stop-color="#00aaff"/><stop offset="0.731" stop-color="#00fbff"/><stop offset="0.807" stop-color="#07fff8"/><stop offset="0.933" stop-color="#23ffdc"/><stop offset="1.000" stop-color="#45ffba"/></linearGradient>
</defs>
<rect width="3780" height="2450" fill="#fff"/>
<g transform="translate(0,0)"><g clip-path="url(#clipbox)"><g filter="url(#by)"><rect x="563.0" y="10.8" width="945.0" height="13.0" fill="url(#a0)"/><rect x="563.0" y="22.8" width="945.0" height="13.0" fill="url(#a1)"/><rect x="563.0" y="34.8" width="945.0" height="13.0" fill="url(#a2)"/><rect x="563.0" y="46.8" width="945.0" height="13.0" fill="url(#a3)"/><rect x="563.0" y="58.8" width="945.0" height="13.0" fill="url(#a4)"/><rect x="563.0" y="70.8" width="945.0" height="13.0" fill="url(#a5)"/><rect x="563.0" y="82.8" width="945.0" height="13.0" fill="url(#a6)"/><rect x="563.0" y="94.8" width="945.0" height="13.0" fill="url(#a7)"/><rect x="563.0" y="106.7" width="945.0" height="13.0" fill="url(#a8)"/><rect x="563.0" y="118.7" width="945.0" height="13.0" fill="url(#a9)"/><rect x="563.0" y="130.7" width="945.0" height="13.0" fill="url(#a10)"/><rect x="563.0" y="142.7" width="945.0" height="13.0" fill="url(#a11)"/><rect x="563.0" y="154.7" width="945.0" height="13.0" fill="url(#a12)"/><rect x="563.0" y="166.7" width="945.0" height="13.0" fill="url(#a13)"/><rect x="563.0" y="178.7" width="945.0" height="13.0" fill="url(#a14)"/><rect x="563.0" y="190.7" width="945.0" height="13.0" fill="url(#a15)"/><rect x="563.0" y="202.7" width="945.0" height="13.0" fill="url(#a16)"/><rect x="563.0" y="214.7" width="945.0" height="13.0" fill="url(#a17)"/><rect x="563.0" y="226.7" width="945.0" height="13.0" fill="url(#a18)"/><rect x="563.0" y="238.6" width="945.0" height="13.0" fill="url(#a19)"/><rect x="563.0" y="250.6" width="945.0" height="13.0" fill="url(#a20)"/><rect x="563.0" y="262.6" width="945.0" height="13.0" fill="url(#a21)"/><rect x="563.0" y="274.6" width="945.0" height="13.0" fill="url(#a22)"/><rect x="563.0" y="286.6" width="945.0" height="13.0" fill="url(#a23)"/><rect x="563.0" y="298.6" width="945.0" height="13.0" fill="url(#a24)"/><rect x="563.0" y="310.6" width="945.0" height="13.0" fill="url(#a25)"/><rect x="563.0" y="322.6" width="945.0" height="13.0" fill="url(#a26)"/><rect x="563.0" y="334.6" width="945.0" height="13.0" fill="url(#a27)"/><rect x="563.0" y="346.6" width="945.0" height="13.0" fill="url(#a28)"/><rect x="563.0" y="358.6" width="945.0" height="13.0" fill="url(#a29)"/><rect x="563.0" y="370.5" width="945.0" height="13.0" fill="url(#a30)"/><rect x="563.0" y="382.5" width="945.0" height="13.0" fill="url(#a31)"/><rect x="563.0" y="394.5" width="945.0" height="13.0" fill="url(#a32)"/><rect x="563.0" y="406.5" width="945.0" height="13.0" fill="url(#a33)"/><rect x="563.0" y="418.5" width="945.0" height="13.0" fill="url(#a34)"/><rect x="563.0" y="430.5" width="945.0" height="13.0" fill="url(#a35)"/><rect x="563.0" y="442.5" width="945.0" height="13.0" fill="url(#a36)"/><rect x="563.0" y="454.5" width="945.0" height="13.0" fill="url(#a37)"/><rect x="563.0" y="466.5" width="945.0" height="13.0" fill="url(#a38)"/><rect x="563.0" y="478.5" width="945.0" height="13.0" fill="url(#a39)"/><rect x="563.0" y="490.5" width="945.0" height="13.0" fill="url(#a40)"/><rect x="563.0" y="502.5" width="945.0" height="13.0" fill="url(#a41)"/><rect x="563.0" y="514.4" width="945.0" height="13.0" fill="url(#a42)"/><rect x="563.0" y="526.4" width="945.0" height="13.0" fill="url(#a43)"/><rect x="563.0" y="538.4" width="945.0" height="13.0" fill="url(#a44)"/><rect x="563.0" y="550.4" width="945.0" height="13.0" fill="url(#a45)"/><rect x="563.0" y="562.4" width="945.0" height="13.0" fill="url(#a46)"/><rect x="563.0" y="574.4" width="945.0" height="13.0" fill="url(#a47)"/><rect x="563.0" y="586.4" width="945.0" height="13.0" fill="url(#a48)"/><rect x="563.0" y="598.4" width="945.0" height="13.0" fill="url(#a49)"/><rect x="563.0" y="610.4" width="945.0" height="13.0" fill="url(#a50)"/><rect x="563.0" y="622.4" width="945.0" height="13.0" fill="url(#a51)"/><rect x="563.0" y="634.4" width="945.0" height="13.0" fill="url(#a52)"/><rect x="563.0" y="646.3" width="945.0" height="13.0" fill="url(#a53)"/><rect x="563.0" y="658.3" width="945.0" height="13.0" fill="url(#a54)"/><rect x="563.0" y="670.3" width="945.0" height="13.0" fill="url(#a55)"/><rect x="563.0" y="682.3" width="945.0" height="13.0" fill="url(#a56)"/><rect x="563.0" y="694.3" width="945.0" height="13.0" fill="url(#a57)"/><rect x="563.0" y="706.3" width="945.0" height="13.0" fill="url(#a58)"/><rect x="563.0" y="718.3" width="945.0" height="13.0" fill="url(#a59)"/><rect x="563.0" y="730.3" width="945.0" height="13.0" fill="url(#a60)"/><rect x="563.0" y="742.3" width="945.0" height="13.0" fill="url(#a61)"/><rect x="563.0" y="754.3" width="945.0" height="13.0" fill="url(#a62)"/><rect x="563.0" y="766.3" width="945.0" height="13.0" fill="url(#a63)"/><rect x="563.0" y="778.2" width="945.0" height="13.0" fill="url(#a64)"/><rect x="563.0" y="790.2" width="945.0" height="13.0" fill="url(#a65)"/><rect x="563.0" y="802.2" width="945.0" height="13.0" fill="url(#a66)"/><rect x="563.0" y="814.2" width="945.0" height="13.0" fill="url(#a67)"/><rect x="563.0" y="826.2" width="945.0" height="13.0" fill="url(#a68)"/><rect x="563.0" y="838.2" width="945.0" height="13.0" fill="url(#a69)"/><rect x="563.0" y="850.2" width="945.0" height="13.0" fill="url(#a70)"/></g></g><path d="M693.1 838.7V822.7M823.0 838.7V822.7M952.9 838.7V822.7M1082.8 838.7V822.7M1212.7 838.7V822.7M1342.6 838.7V822.7M1472.5 838.7V822.7M563.0 92.8H580.0M563.0 199.3H580.0M563.0 305.8H580.0M563.0 412.4H580.0M563.0 518.9H580.0M563.0 625.5H580.0M563.0 732.0H580.0" stroke="#000" stroke-width="4.2" fill="none"/><rect x="563.0" y="35.3" width="945.0" height="803.4000000000001" fill="none" stroke="#000" stroke-width="4.2"/><rect x="1604" y="35.6" width="51.7" height="802.2" fill="url(#jetbar)" stroke="#1a1a1a" stroke-width="2"/><path d="M1645.5 723.5H1655M1645.5 608.7H1655M1645.5 494.0H1655M1645.5 379.2H1655M1645.5 264.4H1655M1645.5 149.6H1655" stroke="#1a1a1a" stroke-width="2.2"/><text x="481.5" y="114.8" font-size="69" textLength="36.8" lengthAdjust="spacingAndGlyphs">2</text><text x="482.0" y="221.3" font-size="69" textLength="34.8" lengthAdjust="spacingAndGlyphs">0</text><text x="448.5" y="327.8" font-size="69" textLength="69.3" lengthAdjust="spacingAndGlyphs">−2</text><text x="448.6" y="434.4" font-size="69" textLength="66.6" lengthAdjust="spacingAndGlyphs">−4</text><text x="448.5" y="540.9" font-size="69" textLength="67.6" lengthAdjust="spacingAndGlyphs">−6</text><text x="448.5" y="647.5" font-size="69" textLength="68.1" lengthAdjust="spacingAndGlyphs">−8</text><text x="415.2" y="754.0" font-size="69" textLength="101.5" lengthAdjust="spacingAndGlyphs">−10</text><text x="414.3" y="933.2" font-size="69" textLength="102.5" lengthAdjust="spacingAndGlyphs">−12</text><text x="641.7" y="933.2" font-size="69" textLength="102.6" lengthAdjust="spacingAndGlyphs">−10</text><text x="788.6" y="933.2" font-size="69" textLength="68.7" lengthAdjust="spacingAndGlyphs">−8</text><text x="918.5" y="933.2" font-size="69" textLength="68.1" lengthAdjust="spacingAndGlyphs">−6</text><text x="1048.5" y="933.2" font-size="69" textLength="67.1" lengthAdjust="spacingAndGlyphs">−4</text><text x="1178.2" y="933.2" font-size="69" textLength="69.9" lengthAdjust="spacingAndGlyphs">−2</text><text x="1325.2" y="933.2" font-size="69" textLength="34.8" lengthAdjust="spacingAndGlyphs">0</text><text x="1454.5" y="933.2" font-size="69" textLength="36.8" lengthAdjust="spacingAndGlyphs">2</text><text x="1704.0" y="57.2" font-size="69" textLength="67.9" lengthAdjust="spacingAndGlyphs">35</text><text x="1704.0" y="171.7" font-size="69" textLength="67.8" lengthAdjust="spacingAndGlyphs">30</text><text x="1704.2" y="285.7" font-size="69" textLength="67.6" lengthAdjust="spacingAndGlyphs">25</text><text x="1704.2" y="399.7" font-size="69" textLength="67.5" lengthAdjust="spacingAndGlyphs">20</text><text x="1701.0" y="513.7" font-size="69" textLength="71.0" lengthAdjust="spacingAndGlyphs">15</text><text x="1701.0" y="627.8" font-size="69" textLength="70.9" lengthAdjust="spacingAndGlyphs">10</text><text x="1703.0" y="741.8" font-size="69" textLength="36.0" lengthAdjust="spacingAndGlyphs">5</text><text x="1704.6" y="856.3" font-size="69" textLength="34.2" lengthAdjust="spacingAndGlyphs">0</text><text x="849.7" y="1035.9" font-size="69" textLength="161.7" lengthAdjust="spacingAndGlyphs">SINR</text><text x="1012.1" y="1049.8" font-size="45" textLength="49.6" lengthAdjust="spacingAndGlyphs">rec</text><text x="1086.8" y="1035.9" font-size="69" textLength="129.9" lengthAdjust="spacingAndGlyphs">(dB)</text><g transform="rotate(-90)"><text x="-641.2" y="365.2" font-size="69" textLength="152.1" lengthAdjust="spacingAndGlyphs">SINR</text><text x="-479.3" y="379.2" font-size="45" textLength="45.9" lengthAdjust="spacingAndGlyphs">ref</text><text x="-409.9" y="365.2" font-size="69" textLength="129.8" lengthAdjust="spacingAndGlyphs">(dB)</text></g></g><text x="650.9" y="1155.5" font-size="69" textLength="81.1" lengthAdjust="spacingAndGlyphs">(a)</text><text x="757.2" y="1155.5" font-size="69" textLength="116.5" lengthAdjust="spacingAndGlyphs">Rx1</text><text class="c" x="875.3" y="1155.5" font-size="63" textLength="62.2" lengthAdjust="spacingAndGlyphs">与</text><text x="939.9" y="1155.5" font-size="69" textLength="118.6" lengthAdjust="spacingAndGlyphs">Rx2</text><text class="c" x="1060.6" y="1155.5" font-size="63" textLength="53.5" lengthAdjust="spacingAndGlyphs">距</text><text class="c" x="1126.5" y="1155.5" font-size="63" textLength="63.2" lengthAdjust="spacingAndGlyphs">离</text><text class="c" x="1192.3" y="1155.5" font-size="63" textLength="64.8" lengthAdjust="spacingAndGlyphs">为</text><text x="1260.0" y="1155.5" font-size="69" textLength="82.5" lengthAdjust="spacingAndGlyphs">1.5</text><text x="1365.9" y="1155.5" font-size="69" textLength="54.3" lengthAdjust="spacingAndGlyphs">m</text><g transform="translate(1700,0)"><g clip-path="url(#clipbox)"><g filter="url(#by)"><rect x="563.0" y="10.8" width="945.0" height="13.0" fill="url(#b0)"/><rect x="563.0" y="22.8" width="945.0" height="13.0" fill="url(#b1)"/><rect x="563.0" y="34.8" width="945.0" height="13.0" fill="url(#b2)"/><rect x="563.0" y="46.8" width="945.0" height="13.0" fill="url(#b3)"/><rect x="563.0" y="58.8" width="945.0" height="13.0" fill="url(#b4)"/><rect x="563.0" y="70.8" width="945.0" height="13.0" fill="url(#b5)"/><rect x="563.0" y="82.8" width="945.0" height="13.0" fill="url(#b6)"/><rect x="563.0" y="94.8" width="945.0" height="13.0" fill="url(#b7)"/><rect x="563.0" y="106.7" width="945.0" height="13.0" fill="url(#b8)"/><rect x="563.0" y="118.7" width="945.0" height="13.0" fill="url(#b9)"/><rect x="563.0" y="130.7" width="945.0" height="13.0" fill="url(#b10)"/><rect x="563.0" y="142.7" width="945.0" height="13.0" fill="url(#b11)"/><rect x="563.0" y="154.7" width="945.0" height="13.0" fill="url(#b12)"/><rect x="563.0" y="166.7" width="945.0" height="13.0" fill="url(#b13)"/><rect x="563.0" y="178.7" width="945.0" height="13.0" fill="url(#b14)"/><rect x="563.0" y="190.7" width="945.0" height="13.0" fill="url(#b15)"/><rect x="563.0" y="202.7" width="945.0" height="13.0" fill="url(#b16)"/><rect x="563.0" y="214.7" width="945.0" height="13.0" fill="url(#b17)"/><rect x="563.0" y="226.7" width="945.0" height="13.0" fill="url(#b18)"/><rect x="563.0" y="238.6" width="945.0" height="13.0" fill="url(#b19)"/><rect x="563.0" y="250.6" width="945.0" height="13.0" fill="url(#b20)"/><rect x="563.0" y="262.6" width="945.0" height="13.0" fill="url(#b21)"/><rect x="563.0" y="274.6" width="945.0" height="13.0" fill="url(#b22)"/><rect x="563.0" y="286.6" width="945.0" height="13.0" fill="url(#b23)"/><rect x="563.0" y="298.6" width="945.0" height="13.0" fill="url(#b24)"/><rect x="563.0" y="310.6" width="945.0" height="13.0" fill="url(#b25)"/><rect x="563.0" y="322.6" width="945.0" height="13.0" fill="url(#b26)"/><rect x="563.0" y="334.6" width="945.0" height="13.0" fill="url(#b27)"/><rect x="563.0" y="346.6" width="945.0" height="13.0" fill="url(#b28)"/><rect x="563.0" y="358.6" width="945.0" height="13.0" fill="url(#b29)"/><rect x="563.0" y="370.5" width="945.0" height="13.0" fill="url(#b30)"/><rect x="563.0" y="382.5" width="945.0" height="13.0" fill="url(#b31)"/><rect x="563.0" y="394.5" width="945.0" height="13.0" fill="url(#b32)"/><rect x="563.0" y="406.5" width="945.0" height="13.0" fill="url(#b33)"/><rect x="563.0" y="418.5" width="945.0" height="13.0" fill="url(#b34)"/><rect x="563.0" y="430.5" width="945.0" height="13.0" fill="url(#b35)"/><rect x="563.0" y="442.5" width="945.0" height="13.0" fill="url(#b36)"/><rect x="563.0" y="454.5" width="945.0" height="13.0" fill="url(#b37)"/><rect x="563.0" y="466.5" width="945.0" height="13.0" fill="url(#b38)"/><rect x="563.0" y="478.5" width="945.0" height="13.0" fill="url(#b39)"/><rect x="563.0" y="490.5" width="945.0" height="13.0" fill="url(#b40)"/><rect x="563.0" y="502.5" width="945.0" height="13.0" fill="url(#b41)"/><rect x="563.0" y="514.4" width="945.0" height="13.0" fill="url(#b42)"/><rect x="563.0" y="526.4" width="945.0" height="13.0" fill="url(#b43)"/><rect x="563.0" y="538.4" width="945.0" height="13.0" fill="url(#b44)"/><rect x="563.0" y="550.4" width="945.0" height="13.0" fill="url(#b45)"/><rect x="563.0" y="562.4" width="945.0" height="13.0" fill="url(#b46)"/><rect x="563.0" y="574.4" width="945.0" height="13.0" fill="url(#b47)"/><rect x="563.0" y="586.4" width="945.0" height="13.0" fill="url(#b48)"/><rect x="563.0" y="598.4" width="945.0" height="13.0" fill="url(#b49)"/><rect x="563.0" y="610.4" width="945.0" height="13.0" fill="url(#b50)"/><rect x="563.0" y="622.4" width="945.0" height="13.0" fill="url(#b51)"/><rect x="563.0" y="634.4" width="945.0" height="13.0" fill="url(#b52)"/><rect x="563.0" y="646.3" width="945.0" height="13.0" fill="url(#b53)"/><rect x="563.0" y="658.3" width="945.0" height="13.0" fill="url(#b54)"/><rect x="563.0" y="670.3" width="945.0" height="13.0" fill="url(#b55)"/><rect x="563.0" y="682.3" width="945.0" height="13.0" fill="url(#b56)"/><rect x="563.0" y="694.3" width="945.0" height="13.0" fill="url(#b57)"/><rect x="563.0" y="706.3" width="945.0" height="13.0" fill="url(#b58)"/><rect x="563.0" y="718.3" width="945.0" height="13.0" fill="url(#b59)"/><rect x="563.0" y="730.3" width="945.0" height="13.0" fill="url(#b60)"/><rect x="563.0" y="742.3" width="945.0" height="13.0" fill="url(#b61)"/><rect x="563.0" y="754.3" width="945.0" height="13.0" fill="url(#b62)"/><rect x="563.0" y="766.3" width="945.0" height="13.0" fill="url(#b63)"/><rect x="563.0" y="778.2" width="945.0" height="13.0" fill="url(#b64)"/><rect x="563.0" y="790.2" width="945.0" height="13.0" fill="url(#b65)"/><rect x="563.0" y="802.2" width="945.0" height="13.0" fill="url(#b66)"/><rect x="563.0" y="814.2" width="945.0" height="13.0" fill="url(#b67)"/><rect x="563.0" y="826.2" width="945.0" height="13.0" fill="url(#b68)"/><rect x="563.0" y="838.2" width="945.0" height="13.0" fill="url(#b69)"/><rect x="563.0" y="850.2" width="945.0" height="13.0" fill="url(#b70)"/></g></g><path d="M693.1 838.7V822.7M823.0 838.7V822.7M952.9 838.7V822.7M1082.8 838.7V822.7M1212.7 838.7V822.7M1342.6 838.7V822.7M1472.5 838.7V822.7M563.0 92.8H580.0M563.0 199.3H580.0M563.0 305.8H580.0M563.0 412.4H580.0M563.0 518.9H580.0M563.0 625.5H580.0M563.0 732.0H580.0" stroke="#000" stroke-width="4.2" fill="none"/><rect x="563.0" y="35.3" width="945.0" height="803.4000000000001" fill="none" stroke="#000" stroke-width="4.2"/><rect x="1604" y="35.6" width="51.7" height="802.2" fill="url(#jetbar)" stroke="#1a1a1a" stroke-width="2"/><path d="M1645.5 723.5H1655M1645.5 608.7H1655M1645.5 494.0H1655M1645.5 379.2H1655M1645.5 264.4H1655M1645.5 149.6H1655" stroke="#1a1a1a" stroke-width="2.2"/><text x="481.5" y="114.8" font-size="69" textLength="36.8" lengthAdjust="spacingAndGlyphs">2</text><text x="482.0" y="221.3" font-size="69" textLength="34.8" lengthAdjust="spacingAndGlyphs">0</text><text x="448.5" y="327.8" font-size="69" textLength="69.3" lengthAdjust="spacingAndGlyphs">−2</text><text x="448.6" y="434.4" font-size="69" textLength="66.6" lengthAdjust="spacingAndGlyphs">−4</text><text x="448.5" y="540.9" font-size="69" textLength="67.6" lengthAdjust="spacingAndGlyphs">−6</text><text x="448.5" y="647.5" font-size="69" textLength="68.1" lengthAdjust="spacingAndGlyphs">−8</text><text x="415.2" y="754.0" font-size="69" textLength="101.5" lengthAdjust="spacingAndGlyphs">−10</text><text x="414.3" y="933.2" font-size="69" textLength="102.5" lengthAdjust="spacingAndGlyphs">−12</text><text x="641.7" y="933.2" font-size="69" textLength="102.6" lengthAdjust="spacingAndGlyphs">−10</text><text x="788.6" y="933.2" font-size="69" textLength="68.7" lengthAdjust="spacingAndGlyphs">−8</text><text x="918.5" y="933.2" font-size="69" textLength="68.1" lengthAdjust="spacingAndGlyphs">−6</text><text x="1048.5" y="933.2" font-size="69" textLength="67.1" lengthAdjust="spacingAndGlyphs">−4</text><text x="1178.2" y="933.2" font-size="69" textLength="69.9" lengthAdjust="spacingAndGlyphs">−2</text><text x="1325.2" y="933.2" font-size="69" textLength="34.8" lengthAdjust="spacingAndGlyphs">0</text><text x="1454.5" y="933.2" font-size="69" textLength="36.8" lengthAdjust="spacingAndGlyphs">2</text><text x="1704.0" y="57.2" font-size="69" textLength="67.9" lengthAdjust="spacingAndGlyphs">35</text><text x="1704.0" y="171.7" font-size="69" textLength="67.8" lengthAdjust="spacingAndGlyphs">30</text><text x="1704.2" y="285.7" font-size="69" textLength="67.6" lengthAdjust="spacingAndGlyphs">25</text><text x="1704.2" y="399.7" font-size="69" textLength="67.5" lengthAdjust="spacingAndGlyphs">20</text><text x="1701.0" y="513.7" font-size="69" textLength="71.0" lengthAdjust="spacingAndGlyphs">15</text><text x="1701.0" y="627.8" font-size="69" textLength="70.9" lengthAdjust="spacingAndGlyphs">10</text><text x="1703.0" y="741.8" font-size="69" textLength="36.0" lengthAdjust="spacingAndGlyphs">5</text><text x="1704.6" y="856.3" font-size="69" textLength="34.2" lengthAdjust="spacingAndGlyphs">0</text><text x="849.7" y="1035.9" font-size="69" textLength="161.7" lengthAdjust="spacingAndGlyphs">SINR</text><text x="1012.1" y="1049.8" font-size="45" textLength="49.6" lengthAdjust="spacingAndGlyphs">rec</text><text x="1086.8" y="1035.9" font-size="69" textLength="129.9" lengthAdjust="spacingAndGlyphs">(dB)</text><g transform="rotate(-90)"><text x="-641.2" y="365.2" font-size="69" textLength="152.1" lengthAdjust="spacingAndGlyphs">SINR</text><text x="-479.3" y="379.2" font-size="45" textLength="45.9" lengthAdjust="spacingAndGlyphs">ref</text><text x="-409.9" y="365.2" font-size="69" textLength="129.8" lengthAdjust="spacingAndGlyphs">(dB)</text></g></g><text x="2377.9" y="1155.5" font-size="69" textLength="82.0" lengthAdjust="spacingAndGlyphs">(b)</text><text x="2485.8" y="1155.5" font-size="69" textLength="116.5" lengthAdjust="spacingAndGlyphs">Rx1</text><text class="c" x="2604.9" y="1155.5" font-size="63" textLength="63.1" lengthAdjust="spacingAndGlyphs">与</text><text x="2669.2" y="1155.5" font-size="69" textLength="118.3" lengthAdjust="spacingAndGlyphs">Rx2</text><text class="c" x="2788.8" y="1155.5" font-size="63" textLength="62.2" lengthAdjust="spacingAndGlyphs">距</text><text class="c" x="2854.9" y="1155.5" font-size="63" textLength="63.3" lengthAdjust="spacingAndGlyphs">离</text><text class="c" x="2920.8" y="1155.5" font-size="63" textLength="66.7" lengthAdjust="spacingAndGlyphs">为</text><text x="2987.1" y="1155.5" font-size="69" textLength="31.7" lengthAdjust="spacingAndGlyphs">1</text><text x="3042.9" y="1155.5" font-size="69" textLength="54.1" lengthAdjust="spacingAndGlyphs">m</text><g transform="translate(0,1274.5)"><g clip-path="url(#clipbox)"><g filter="url(#by)"><rect x="563.0" y="10.8" width="945.0" height="13.0" fill="url(#c0)"/><rect x="563.0" y="22.8" width="945.0" height="13.0" fill="url(#c1)"/><rect x="563.0" y="34.8" width="945.0" height="13.0" fill="url(#c2)"/><rect x="563.0" y="46.8" width="945.0" height="13.0" fill="url(#c3)"/><rect x="563.0" y="58.8" width="945.0" height="13.0" fill="url(#c4)"/><rect x="563.0" y="70.8" width="945.0" height="13.0" fill="url(#c5)"/><rect x="563.0" y="82.8" width="945.0" height="13.0" fill="url(#c6)"/><rect x="563.0" y="94.8" width="945.0" height="13.0" fill="url(#c7)"/><rect x="563.0" y="106.7" width="945.0" height="13.0" fill="url(#c8)"/><rect x="563.0" y="118.7" width="945.0" height="13.0" fill="url(#c9)"/><rect x="563.0" y="130.7" width="945.0" height="13.0" fill="url(#c10)"/><rect x="563.0" y="142.7" width="945.0" height="13.0" fill="url(#c11)"/><rect x="563.0" y="154.7" width="945.0" height="13.0" fill="url(#c12)"/><rect x="563.0" y="166.7" width="945.0" height="13.0" fill="url(#c13)"/><rect x="563.0" y="178.7" width="945.0" height="13.0" fill="url(#c14)"/><rect x="563.0" y="190.7" width="945.0" height="13.0" fill="url(#c15)"/><rect x="563.0" y="202.7" width="945.0" height="13.0" fill="url(#c16)"/><rect x="563.0" y="214.7" width="945.0" height="13.0" fill="url(#c17)"/><rect x="563.0" y="226.7" width="945.0" height="13.0" fill="url(#c18)"/><rect x="563.0" y="238.6" width="945.0" height="13.0" fill="url(#c19)"/><rect x="563.0" y="250.6" width="945.0" height="13.0" fill="url(#c20)"/><rect x="563.0" y="262.6" width="945.0" height="13.0" fill="url(#c21)"/><rect x="563.0" y="274.6" width="945.0" height="13.0" fill="url(#c22)"/><rect x="563.0" y="286.6" width="945.0" height="13.0" fill="url(#c23)"/><rect x="563.0" y="298.6" width="945.0" height="13.0" fill="url(#c24)"/><rect x="563.0" y="310.6" width="945.0" height="13.0" fill="url(#c25)"/><rect x="563.0" y="322.6" width="945.0" height="13.0" fill="url(#c26)"/><rect x="563.0" y="334.6" width="945.0" height="13.0" fill="url(#c27)"/><rect x="563.0" y="346.6" width="945.0" height="13.0" fill="url(#c28)"/><rect x="563.0" y="358.6" width="945.0" height="13.0" fill="url(#c29)"/><rect x="563.0" y="370.5" width="945.0" height="13.0" fill="url(#c30)"/><rect x="563.0" y="382.5" width="945.0" height="13.0" fill="url(#c31)"/><rect x="563.0" y="394.5" width="945.0" height="13.0" fill="url(#c32)"/><rect x="563.0" y="406.5" width="945.0" height="13.0" fill="url(#c33)"/><rect x="563.0" y="418.5" width="945.0" height="13.0" fill="url(#c34)"/><rect x="563.0" y="430.5" width="945.0" height="13.0" fill="url(#c35)"/><rect x="563.0" y="442.5" width="945.0" height="13.0" fill="url(#c36)"/><rect x="563.0" y="454.5" width="945.0" height="13.0" fill="url(#c37)"/><rect x="563.0" y="466.5" width="945.0" height="13.0" fill="url(#c38)"/><rect x="563.0" y="478.5" width="945.0" height="13.0" fill="url(#c39)"/><rect x="563.0" y="490.5" width="945.0" height="13.0" fill="url(#c40)"/><rect x="563.0" y="502.5" width="945.0" height="13.0" fill="url(#c41)"/><rect x="563.0" y="514.4" width="945.0" height="13.0" fill="url(#c42)"/><rect x="563.0" y="526.4" width="945.0" height="13.0" fill="url(#c43)"/><rect x="563.0" y="538.4" width="945.0" height="13.0" fill="url(#c44)"/><rect x="563.0" y="550.4" width="945.0" height="13.0" fill="url(#c45)"/><rect x="563.0" y="562.4" width="945.0" height="13.0" fill="url(#c46)"/><rect x="563.0" y="574.4" width="945.0" height="13.0" fill="url(#c47)"/><rect x="563.0" y="586.4" width="945.0" height="13.0" fill="url(#c48)"/><rect x="563.0" y="598.4" width="945.0" height="13.0" fill="url(#c49)"/><rect x="563.0" y="610.4" width="945.0" height="13.0" fill="url(#c50)"/><rect x="563.0" y="622.4" width="945.0" height="13.0" fill="url(#c51)"/><rect x="563.0" y="634.4" width="945.0" height="13.0" fill="url(#c52)"/><rect x="563.0" y="646.3" width="945.0" height="13.0" fill="url(#c53)"/><rect x="563.0" y="658.3" width="945.0" height="13.0" fill="url(#c54)"/><rect x="563.0" y="670.3" width="945.0" height="13.0" fill="url(#c55)"/><rect x="563.0" y="682.3" width="945.0" height="13.0" fill="url(#c56)"/><rect x="563.0" y="694.3" width="945.0" height="13.0" fill="url(#c57)"/><rect x="563.0" y="706.3" width="945.0" height="13.0" fill="url(#c58)"/><rect x="563.0" y="718.3" width="945.0" height="13.0" fill="url(#c59)"/><rect x="563.0" y="730.3" width="945.0" height="13.0" fill="url(#c60)"/><rect x="563.0" y="742.3" width="945.0" height="13.0" fill="url(#c61)"/><rect x="563.0" y="754.3" width="945.0" height="13.0" fill="url(#c62)"/><rect x="563.0" y="766.3" width="945.0" height="13.0" fill="url(#c63)"/><rect x="563.0" y="778.2" width="945.0" height="13.0" fill="url(#c64)"/><rect x="563.0" y="790.2" width="945.0" height="13.0" fill="url(#c65)"/><rect x="563.0" y="802.2" width="945.0" height="13.0" fill="url(#c66)"/><rect x="563.0" y="814.2" width="945.0" height="13.0" fill="url(#c67)"/><rect x="563.0" y="826.2" width="945.0" height="13.0" fill="url(#c68)"/><rect x="563.0" y="838.2" width="945.0" height="13.0" fill="url(#c69)"/><rect x="563.0" y="850.2" width="945.0" height="13.0" fill="url(#c70)"/></g></g><path d="M693.1 838.7V822.7M823.0 838.7V822.7M952.9 838.7V822.7M1082.8 838.7V822.7M1212.7 838.7V822.7M1342.6 838.7V822.7M1472.5 838.7V822.7M563.0 92.8H580.0M563.0 199.3H580.0M563.0 305.8H580.0M563.0 412.4H580.0M563.0 518.9H580.0M563.0 625.5H580.0M563.0 732.0H580.0" stroke="#000" stroke-width="4.2" fill="none"/><rect x="563.0" y="35.3" width="945.0" height="803.4000000000001" fill="none" stroke="#000" stroke-width="4.2"/><rect x="1604" y="35.6" width="51.7" height="802.2" fill="url(#jetbar)" stroke="#1a1a1a" stroke-width="2"/><path d="M1645.5 723.5H1655M1645.5 608.7H1655M1645.5 494.0H1655M1645.5 379.2H1655M1645.5 264.4H1655M1645.5 149.6H1655" stroke="#1a1a1a" stroke-width="2.2"/><text x="481.5" y="114.8" font-size="69" textLength="36.8" lengthAdjust="spacingAndGlyphs">2</text><text x="482.0" y="221.3" font-size="69" textLength="34.8" lengthAdjust="spacingAndGlyphs">0</text><text x="448.5" y="327.8" font-size="69" textLength="69.3" lengthAdjust="spacingAndGlyphs">−2</text><text x="448.6" y="434.4" font-size="69" textLength="66.6" lengthAdjust="spacingAndGlyphs">−4</text><text x="448.5" y="540.9" font-size="69" textLength="67.6" lengthAdjust="spacingAndGlyphs">−6</text><text x="448.5" y="647.5" font-size="69" textLength="68.1" lengthAdjust="spacingAndGlyphs">−8</text><text x="415.2" y="754.0" font-size="69" textLength="101.5" lengthAdjust="spacingAndGlyphs">−10</text><text x="414.3" y="933.2" font-size="69" textLength="102.5" lengthAdjust="spacingAndGlyphs">−12</text><text x="641.7" y="933.2" font-size="69" textLength="102.6" lengthAdjust="spacingAndGlyphs">−10</text><text x="788.6" y="933.2" font-size="69" textLength="68.7" lengthAdjust="spacingAndGlyphs">−8</text><text x="918.5" y="933.2" font-size="69" textLength="68.1" lengthAdjust="spacingAndGlyphs">−6</text><text x="1048.5" y="933.2" font-size="69" textLength="67.1" lengthAdjust="spacingAndGlyphs">−4</text><text x="1178.2" y="933.2" font-size="69" textLength="69.9" lengthAdjust="spacingAndGlyphs">−2</text><text x="1325.2" y="933.2" font-size="69" textLength="34.8" lengthAdjust="spacingAndGlyphs">0</text><text x="1454.5" y="933.2" font-size="69" textLength="36.8" lengthAdjust="spacingAndGlyphs">2</text><text x="1704.0" y="57.2" font-size="69" textLength="67.9" lengthAdjust="spacingAndGlyphs">35</text><text x="1704.0" y="171.7" font-size="69" textLength="67.8" lengthAdjust="spacingAndGlyphs">30</text><text x="1704.2" y="285.7" font-size="69" textLength="67.6" lengthAdjust="spacingAndGlyphs">25</text><text x="1704.2" y="399.7" font-size="69" textLength="67.5" lengthAdjust="spacingAndGlyphs">20</text><text x="1701.0" y="513.7" font-size="69" textLength="71.0" lengthAdjust="spacingAndGlyphs">15</text><text x="1701.0" y="627.8" font-size="69" textLength="70.9" lengthAdjust="spacingAndGlyphs">10</text><text x="1703.0" y="741.8" font-size="69" textLength="36.0" lengthAdjust="spacingAndGlyphs">5</text><text x="1704.6" y="856.3" font-size="69" textLength="34.2" lengthAdjust="spacingAndGlyphs">0</text><text x="849.7" y="1035.9" font-size="69" textLength="161.7" lengthAdjust="spacingAndGlyphs">SINR</text><text x="1012.1" y="1049.8" font-size="45" textLength="49.6" lengthAdjust="spacingAndGlyphs">rec</text><text x="1086.8" y="1035.9" font-size="69" textLength="129.9" lengthAdjust="spacingAndGlyphs">(dB)</text><g transform="rotate(-90)"><text x="-641.2" y="365.2" font-size="69" textLength="152.1" lengthAdjust="spacingAndGlyphs">SINR</text><text x="-479.3" y="379.2" font-size="45" textLength="45.9" lengthAdjust="spacingAndGlyphs">ref</text><text x="-409.9" y="365.2" font-size="69" textLength="129.8" lengthAdjust="spacingAndGlyphs">(dB)</text></g></g><text x="653.9" y="2430.5" font-size="69" textLength="75.6" lengthAdjust="spacingAndGlyphs">(c)</text><text x="755.5" y="2430.5" font-size="69" textLength="116.5" lengthAdjust="spacingAndGlyphs">Rx1</text><text class="c" x="873.5" y="2430.5" font-size="63" textLength="64.1" lengthAdjust="spacingAndGlyphs">与</text><text x="938.0" y="2430.5" font-size="69" textLength="119.1" lengthAdjust="spacingAndGlyphs">Rx2</text><text class="c" x="1058.8" y="2430.5" font-size="63" textLength="54.7" lengthAdjust="spacingAndGlyphs">距</text><text class="c" x="1124.8" y="2430.5" font-size="63" textLength="63.9" lengthAdjust="spacingAndGlyphs">离</text><text class="c" x="1190.5" y="2430.5" font-size="63" textLength="66.7" lengthAdjust="spacingAndGlyphs">为</text><text x="1258.1" y="2430.5" font-size="69" textLength="82.6" lengthAdjust="spacingAndGlyphs">0.5</text><text x="1364.2" y="2430.5" font-size="69" textLength="54.3" lengthAdjust="spacingAndGlyphs">m</text><g transform="translate(1700,1274.5)"><g clip-path="url(#clipbox)"><g filter="url(#by)"><rect x="563.0" y="10.8" width="945.0" height="13.0" fill="url(#d0)"/><rect x="563.0" y="22.8" width="945.0" height="13.0" fill="url(#d1)"/><rect x="563.0" y="34.8" width="945.0" height="13.0" fill="url(#d2)"/><rect x="563.0" y="46.8" width="945.0" height="13.0" fill="url(#d3)"/><rect x="563.0" y="58.8" width="945.0" height="13.0" fill="url(#d4)"/><rect x="563.0" y="70.8" width="945.0" height="13.0" fill="url(#d5)"/><rect x="563.0" y="82.8" width="945.0" height="13.0" fill="url(#d6)"/><rect x="563.0" y="94.8" width="945.0" height="13.0" fill="url(#d7)"/><rect x="563.0" y="106.7" width="945.0" height="13.0" fill="url(#d8)"/><rect x="563.0" y="118.7" width="945.0" height="13.0" fill="url(#d9)"/><rect x="563.0" y="130.7" width="945.0" height="13.0" fill="url(#d10)"/><rect x="563.0" y="142.7" width="945.0" height="13.0" fill="url(#d11)"/><rect x="563.0" y="154.7" width="945.0" height="13.0" fill="url(#d12)"/><rect x="563.0" y="166.7" width="945.0" height="13.0" fill="url(#d13)"/><rect x="563.0" y="178.7" width="945.0" height="13.0" fill="url(#d14)"/><rect x="563.0" y="190.7" width="945.0" height="13.0" fill="url(#d15)"/><rect x="563.0" y="202.7" width="945.0" height="13.0" fill="url(#d16)"/><rect x="563.0" y="214.7" width="945.0" height="13.0" fill="url(#d17)"/><rect x="563.0" y="226.7" width="945.0" height="13.0" fill="url(#d18)"/><rect x="563.0" y="238.6" width="945.0" height="13.0" fill="url(#d19)"/><rect x="563.0" y="250.6" width="945.0" height="13.0" fill="url(#d20)"/><rect x="563.0" y="262.6" width="945.0" height="13.0" fill="url(#d21)"/><rect x="563.0" y="274.6" width="945.0" height="13.0" fill="url(#d22)"/><rect x="563.0" y="286.6" width="945.0" height="13.0" fill="url(#d23)"/><rect x="563.0" y="298.6" width="945.0" height="13.0" fill="url(#d24)"/><rect x="563.0" y="310.6" width="945.0" height="13.0" fill="url(#d25)"/><rect x="563.0" y="322.6" width="945.0" height="13.0" fill="url(#d26)"/><rect x="563.0" y="334.6" width="945.0" height="13.0" fill="url(#d27)"/><rect x="563.0" y="346.6" width="945.0" height="13.0" fill="url(#d28)"/><rect x="563.0" y="358.6" width="945.0" height="13.0" fill="url(#d29)"/><rect x="563.0" y="370.5" width="945.0" height="13.0" fill="url(#d30)"/><rect x="563.0" y="382.5" width="945.0" height="13.0" fill="url(#d31)"/><rect x="563.0" y="394.5" width="945.0" height="13.0" fill="url(#d32)"/><rect x="563.0" y="406.5" width="945.0" height="13.0" fill="url(#d33)"/><rect x="563.0" y="418.5" width="945.0" height="13.0" fill="url(#d34)"/><rect x="563.0" y="430.5" width="945.0" height="13.0" fill="url(#d35)"/><rect x="563.0" y="442.5" width="945.0" height="13.0" fill="url(#d36)"/><rect x="563.0" y="454.5" width="945.0" height="13.0" fill="url(#d37)"/><rect x="563.0" y="466.5" width="945.0" height="13.0" fill="url(#d38)"/><rect x="563.0" y="478.5" width="945.0" height="13.0" fill="url(#d39)"/><rect x="563.0" y="490.5" width="945.0" height="13.0" fill="url(#d40)"/><rect x="563.0" y="502.5" width="945.0" height="13.0" fill="url(#d41)"/><rect x="563.0" y="514.4" width="945.0" height="13.0" fill="url(#d42)"/><rect x="563.0" y="526.4" width="945.0" height="13.0" fill="url(#d43)"/><rect x="563.0" y="538.4" width="945.0" height="13.0" fill="url(#d44)"/><rect x="563.0" y="550.4" width="945.0" height="13.0" fill="url(#d45)"/><rect x="563.0" y="562.4" width="945.0" height="13.0" fill="url(#d46)"/><rect x="563.0" y="574.4" width="945.0" height="13.0" fill="url(#d47)"/><rect x="563.0" y="586.4" width="945.0" height="13.0" fill="url(#d48)"/><rect x="563.0" y="598.4" width="945.0" height="13.0" fill="url(#d49)"/><rect x="563.0" y="610.4" width="945.0" height="13.0" fill="url(#d50)"/><rect x="563.0" y="622.4" width="945.0" height="13.0" fill="url(#d51)"/><rect x="563.0" y="634.4" width="945.0" height="13.0" fill="url(#d52)"/><rect x="563.0" y="646.3" width="945.0" height="13.0" fill="url(#d53)"/><rect x="563.0" y="658.3" width="945.0" height="13.0" fill="url(#d54)"/><rect x="563.0" y="670.3" width="945.0" height="13.0" fill="url(#d55)"/><rect x="563.0" y="682.3" width="945.0" height="13.0" fill="url(#d56)"/><rect x="563.0" y="694.3" width="945.0" height="13.0" fill="url(#d57)"/><rect x="563.0" y="706.3" width="945.0" height="13.0" fill="url(#d58)"/><rect x="563.0" y="718.3" width="945.0" height="13.0" fill="url(#d59)"/><rect x="563.0" y="730.3" width="945.0" height="13.0" fill="url(#d60)"/><rect x="563.0" y="742.3" width="945.0" height="13.0" fill="url(#d61)"/><rect x="563.0" y="754.3" width="945.0" height="13.0" fill="url(#d62)"/><rect x="563.0" y="766.3" width="945.0" height="13.0" fill="url(#d63)"/><rect x="563.0" y="778.2" width="945.0" height="13.0" fill="url(#d64)"/><rect x="563.0" y="790.2" width="945.0" height="13.0" fill="url(#d65)"/><rect x="563.0" y="802.2" width="945.0" height="13.0" fill="url(#d66)"/><rect x="563.0" y="814.2" width="945.0" height="13.0" fill="url(#d67)"/><rect x="563.0" y="826.2" width="945.0" height="13.0" fill="url(#d68)"/><rect x="563.0" y="838.2" width="945.0" height="13.0" fill="url(#d69)"/><rect x="563.0" y="850.2" width="945.0" height="13.0" fill="url(#d70)"/></g></g><path d="M693.1 838.7V822.7M823.0 838.7V822.7M952.9 838.7V822.7M1082.8 838.7V822.7M1212.7 838.7V822.7M1342.6 838.7V822.7M1472.5 838.7V822.7M563.0 92.8H580.0M563.0 199.3H580.0M563.0 305.8H580.0M563.0 412.4H580.0M563.0 518.9H580.0M563.0 625.5H580.0M563.0 732.0H580.0" stroke="#000" stroke-width="4.2" fill="none"/><rect x="563.0" y="35.3" width="945.0" height="803.4000000000001" fill="none" stroke="#000" stroke-width="4.2"/><rect x="1604" y="35.6" width="51.7" height="802.2" fill="url(#jetbar)" stroke="#1a1a1a" stroke-width="2"/><path d="M1645.5 723.5H1655M1645.5 608.7H1655M1645.5 494.0H1655M1645.5 379.2H1655M1645.5 264.4H1655M1645.5 149.6H1655" stroke="#1a1a1a" stroke-width="2.2"/><text x="481.5" y="114.8" font-size="69" textLength="36.8" lengthAdjust="spacingAndGlyphs">2</text><text x="482.0" y="221.3" font-size="69" textLength="34.8" lengthAdjust="spacingAndGlyphs">0</text><text x="448.5" y="327.8" font-size="69" textLength="69.3" lengthAdjust="spacingAndGlyphs">−2</text><text x="448.6" y="434.4" font-size="69" textLength="66.6" lengthAdjust="spacingAndGlyphs">−4</text><text x="448.5" y="540.9" font-size="69" textLength="67.6" lengthAdjust="spacingAndGlyphs">−6</text><text x="448.5" y="647.5" font-size="69" textLength="68.1" lengthAdjust="spacingAndGlyphs">−8</text><text x="415.2" y="754.0" font-size="69" textLength="101.5" lengthAdjust="spacingAndGlyphs">−10</text><text x="414.3" y="933.2" font-size="69" textLength="102.5" lengthAdjust="spacingAndGlyphs">−12</text><text x="641.7" y="933.2" font-size="69" textLength="102.6" lengthAdjust="spacingAndGlyphs">−10</text><text x="788.6" y="933.2" font-size="69" textLength="68.7" lengthAdjust="spacingAndGlyphs">−8</text><text x="918.5" y="933.2" font-size="69" textLength="68.1" lengthAdjust="spacingAndGlyphs">−6</text><text x="1048.5" y="933.2" font-size="69" textLength="67.1" lengthAdjust="spacingAndGlyphs">−4</text><text x="1178.2" y="933.2" font-size="69" textLength="69.9" lengthAdjust="spacingAndGlyphs">−2</text><text x="1325.2" y="933.2" font-size="69" textLength="34.8" lengthAdjust="spacingAndGlyphs">0</text><text x="1454.5" y="933.2" font-size="69" textLength="36.8" lengthAdjust="spacingAndGlyphs">2</text><text x="1704.0" y="57.2" font-size="69" textLength="67.9" lengthAdjust="spacingAndGlyphs">35</text><text x="1704.0" y="171.7" font-size="69" textLength="67.8" lengthAdjust="spacingAndGlyphs">30</text><text x="1704.2" y="285.7" font-size="69" textLength="67.6" lengthAdjust="spacingAndGlyphs">25</text><text x="1704.2" y="399.7" font-size="69" textLength="67.5" lengthAdjust="spacingAndGlyphs">20</text><text x="1701.0" y="513.7" font-size="69" textLength="71.0" lengthAdjust="spacingAndGlyphs">15</text><text x="1701.0" y="627.8" font-size="69" textLength="70.9" lengthAdjust="spacingAndGlyphs">10</text><text x="1703.0" y="741.8" font-size="69" textLength="36.0" lengthAdjust="spacingAndGlyphs">5</text><text x="1704.6" y="856.3" font-size="69" textLength="34.2" lengthAdjust="spacingAndGlyphs">0</text><text x="849.7" y="1035.9" font-size="69" textLength="161.7" lengthAdjust="spacingAndGlyphs">SINR</text><text x="1012.1" y="1049.8" font-size="45" textLength="49.6" lengthAdjust="spacingAndGlyphs">rec</text><text x="1086.8" y="1035.9" font-size="69" textLength="129.9" lengthAdjust="spacingAndGlyphs">(dB)</text><g transform="rotate(-90)"><text x="-641.2" y="365.2" font-size="69" textLength="152.1" lengthAdjust="spacingAndGlyphs">SINR</text><text x="-479.3" y="379.2" font-size="45" textLength="45.9" lengthAdjust="spacingAndGlyphs">ref</text><text x="-409.9" y="365.2" font-size="69" textLength="129.8" lengthAdjust="spacingAndGlyphs">(dB)</text></g></g><text x="2351.4" y="2430.5" font-size="69" textLength="82.7" lengthAdjust="spacingAndGlyphs">(d)</text><text x="2459.3" y="2430.5" font-size="69" textLength="116.4" lengthAdjust="spacingAndGlyphs">Rx1</text><text class="c" x="2579.1" y="2430.5" font-size="63" textLength="61.4" lengthAdjust="spacingAndGlyphs">与</text><text x="2641.8" y="2430.5" font-size="69" textLength="119.7" lengthAdjust="spacingAndGlyphs">Rx2</text><text class="c" x="2762.5" y="2430.5" font-size="63" textLength="57.3" lengthAdjust="spacingAndGlyphs">距</text><text class="c" x="2830.4" y="2430.5" font-size="63" textLength="61.3" lengthAdjust="spacingAndGlyphs">离</text><text class="c" x="2894.4" y="2430.5" font-size="63" textLength="65.9" lengthAdjust="spacingAndGlyphs">为</text><text x="2961.9" y="2430.5" font-size="69" textLength="82.3" lengthAdjust="spacingAndGlyphs">0.1</text><text x="3068.0" y="2430.5" font-size="69" textLength="54.3" lengthAdjust="spacingAndGlyphs">m</text>
</svg>
</body></html>
